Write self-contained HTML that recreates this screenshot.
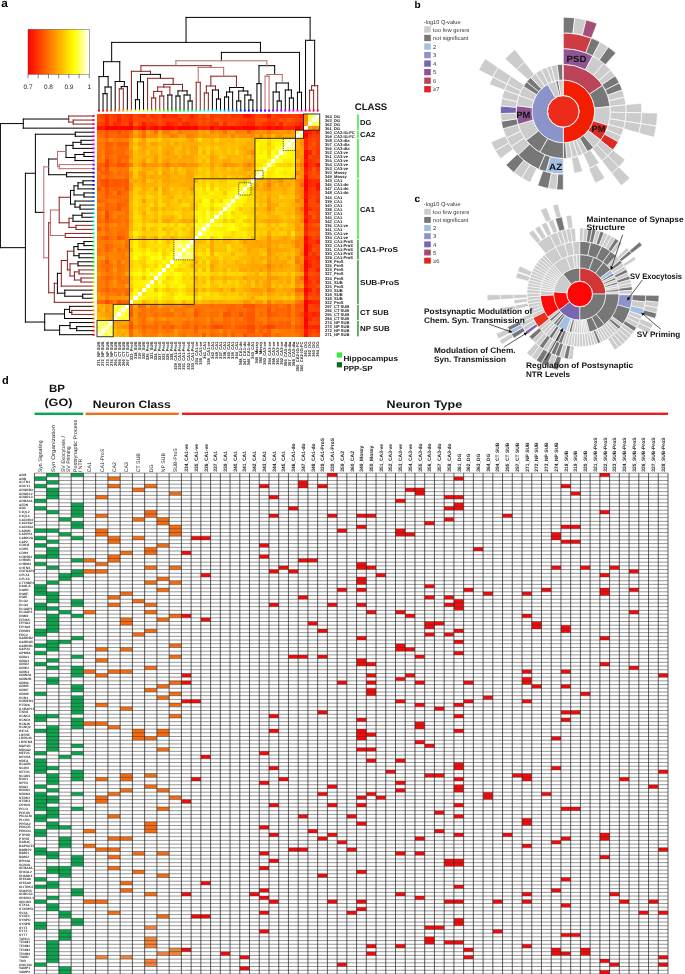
<!DOCTYPE html>
<html><head><meta charset="utf-8"><style>
html,body{margin:0;padding:0;background:#fff;}
svg{display:block;will-change:transform;}
text{font-family:"Liberation Sans",sans-serif;text-rendering:geometricPrecision;}
</style></head><body>
<svg width="685" height="974" viewBox="0 0 685 974">
<defs><marker id="ah" viewBox="0 0 10 10" refX="9" refY="5" markerWidth="5" markerHeight="5" orient="auto"><path d="M0 0L10 5L0 10z" fill="#111"/></marker></defs>
<rect width="685" height="974" fill="#fff"/>
<rect x="97" y="114" width="222.75" height="222.75" fill="#ff9a10"/>
<g transform="translate(97,114) scale(4.05)" shape-rendering="crispEdges">
<path fill="#ff4900" d="M0 0h1v1h-1zM32 2h1v1h-1zM52 22h1v1h-1zM2 46h1v1h-1zM8 52h1v1h-1zM54 54h1v1h-1z"/>
<path fill="#ff3900" d="M1 0h1v1h-1zM14 0h1v1h-1zM44 1h1v1h-1zM53 10h1v1h-1zM54 40h1v1h-1zM54 53h1v1h-1z"/>
<path fill="#ff2700" d="M2 0h1v1h-1zM8 0h1v1h-1zM19 0h1v1h-1zM54 35h1v1h-1zM54 46h1v1h-1zM54 52h1v1h-1z"/>
<path fill="#ff4200" d="M3 0h1v1h-1zM6 0h1v1h-1zM4 1h1v1h-1zM48 2h1v1h-1zM52 6h1v1h-1zM54 48h1v1h-1zM53 50h1v1h-1zM54 51h1v1h-1z"/>
<path fill="#ff3a00" d="M4 0h1v1h-1zM17 1h1v1h-1zM35 1h1v1h-1zM28 2h1v1h-1zM53 19h1v1h-1zM52 26h1v1h-1zM53 37h1v1h-1zM54 50h1v1h-1z"/>
<path fill="#ff2800" d="M5 0h1v1h-1zM8 1h1v1h-1zM21 2h1v1h-1zM25 3h1v1h-1zM51 29h1v1h-1zM52 33h1v1h-1zM53 46h1v1h-1zM54 49h1v1h-1z"/>
<path fill="#ff3500" d="M7 0h1v1h-1zM17 0h1v1h-1zM28 0h1v1h-1zM23 1h1v1h-1zM50 1h1v1h-1zM53 4h1v1h-1zM54 26h1v1h-1zM53 31h1v1h-1zM54 37h1v1h-1zM54 47h1v1h-1z"/>
<path fill="#ff4b00" d="M9 0h1v1h-1zM25 0h1v1h-1zM3 1h1v1h-1zM9 1h1v1h-1zM15 1h1v1h-1zM48 1h1v1h-1zM53 6h1v1h-1zM54 29h1v1h-1zM53 39h1v1h-1zM53 45h1v1h-1zM54 45h1v1h-1zM53 51h1v1h-1z"/>
<path fill="#ff3700" d="M10 0h1v1h-1zM44 0h1v1h-1zM46 0h1v1h-1zM54 8h1v1h-1zM54 10h1v1h-1zM54 44h1v1h-1z"/>
<path fill="#ff2c00" d="M11 0h1v1h-1zM18 0h1v1h-1zM33 0h1v1h-1zM42 2h1v1h-1zM43 2h1v1h-1zM52 11h1v1h-1zM52 12h1v1h-1zM54 21h1v1h-1zM54 36h1v1h-1zM54 43h1v1h-1z"/>
<path fill="#ff4d00" d="M12 0h1v1h-1zM39 0h1v1h-1zM54 15h1v1h-1zM5 19h1v1h-1zM54 42h1v1h-1zM35 49h1v1h-1z"/>
<path fill="#ff2d00" d="M13 0h1v1h-1zM5 2h1v1h-1zM54 41h1v1h-1zM52 49h1v1h-1z"/>
<path fill="#ff4400" d="M15 0h1v1h-1zM26 1h1v1h-1zM0 2h1v1h-1zM7 2h1v1h-1zM47 2h1v1h-1zM52 7h1v1h-1zM53 28h1v1h-1zM54 39h1v1h-1zM52 47h1v1h-1zM52 54h1v1h-1z"/>
<path fill="#ff1f00" d="M16 0h1v1h-1zM23 0h1v1h-1zM54 31h1v1h-1zM54 38h1v1h-1z"/>
<path fill="#ff4500" d="M20 0h1v1h-1zM26 0h1v1h-1zM10 1h1v1h-1zM2 11h1v1h-1zM54 28h1v1h-1zM54 34h1v1h-1zM53 44h1v1h-1zM43 52h1v1h-1z"/>
<path fill="#ff4000" d="M21 0h1v1h-1zM40 0h1v1h-1zM26 2h1v1h-1zM40 2h1v1h-1zM52 14h1v1h-1zM54 14h1v1h-1zM52 28h1v1h-1zM54 33h1v1h-1z"/>
<path fill="#ff4100" d="M22 0h1v1h-1zM12 1h1v1h-1zM22 1h1v1h-1zM31 1h1v1h-1zM6 2h1v1h-1zM10 2h1v1h-1zM53 23h1v1h-1zM53 32h1v1h-1zM54 32h1v1h-1zM53 42h1v1h-1zM52 44h1v1h-1zM52 48h1v1h-1z"/>
<path fill="#ff3600" d="M24 0h1v1h-1zM35 0h1v1h-1zM23 2h1v1h-1zM36 2h1v1h-1zM52 18h1v1h-1zM54 19h1v1h-1zM54 30h1v1h-1zM52 31h1v1h-1z"/>
<path fill="#ff5c00" d="M27 0h1v1h-1zM3 7h1v1h-1zM5 7h1v1h-1zM0 12h1v1h-1zM3 16h1v1h-1zM6 16h1v1h-1zM54 27h1v1h-1zM38 48h1v1h-1zM47 49h1v1h-1zM38 51h1v1h-1zM47 51h1v1h-1zM42 54h1v1h-1z"/>
<path fill="#ff3f00" d="M29 0h1v1h-1zM48 0h1v1h-1zM6 1h1v1h-1zM16 2h1v1h-1zM54 6h1v1h-1zM54 25h1v1h-1zM52 38h1v1h-1zM53 48h1v1h-1z"/>
<path fill="#ff3d00" d="M30 0h1v1h-1zM16 1h1v1h-1zM49 1h1v1h-1zM12 2h1v1h-1zM53 5h1v1h-1zM2 12h1v1h-1zM54 24h1v1h-1zM53 38h1v1h-1zM52 42h1v1h-1zM42 52h1v1h-1z"/>
<path fill="#ff3c00" d="M31 0h1v1h-1zM49 0h1v1h-1zM28 1h1v1h-1zM36 1h1v1h-1zM1 2h1v1h-1zM54 5h1v1h-1zM53 18h1v1h-1zM54 23h1v1h-1zM53 26h1v1h-1zM52 53h1v1h-1z"/>
<path fill="#ff4800" d="M32 0h1v1h-1zM11 1h1v1h-1zM44 2h1v1h-1zM5 4h1v1h-1zM52 10h1v1h-1zM2 17h1v1h-1zM54 22h1v1h-1zM53 43h1v1h-1zM50 49h1v1h-1zM37 52h1v1h-1z"/>
<path fill="#ff3400" d="M34 0h1v1h-1zM42 1h1v1h-1zM35 2h1v1h-1zM53 12h1v1h-1zM52 19h1v1h-1zM54 20h1v1h-1z"/>
<path fill="#ff1400" d="M36 0h1v1h-1zM54 18h1v1h-1z"/>
<path fill="#ff1000" d="M37 0h1v1h-1zM42 0h1v1h-1zM10 3h1v1h-1zM32 3h1v1h-1zM54 12h1v1h-1zM54 17h1v1h-1zM51 22h1v1h-1zM51 44h1v1h-1z"/>
<path fill="#ff2a00" d="M38 0h1v1h-1zM4 2h1v1h-1zM54 16h1v1h-1zM52 50h1v1h-1z"/>
<path fill="#ff3300" d="M41 0h1v1h-1zM24 2h1v1h-1zM41 2h1v1h-1zM52 13h1v1h-1zM54 13h1v1h-1zM52 30h1v1h-1z"/>
<path fill="#ff4700" d="M43 0h1v1h-1zM13 1h1v1h-1zM32 1h1v1h-1zM34 1h1v1h-1zM33 2h1v1h-1zM54 11h1v1h-1zM53 20h1v1h-1zM52 21h1v1h-1zM53 22h1v1h-1zM2 25h1v1h-1zM53 41h1v1h-1zM29 52h1v1h-1z"/>
<path fill="#ff3100" d="M45 0h1v1h-1zM19 2h1v1h-1zM29 2h1v1h-1zM54 9h1v1h-1zM52 25h1v1h-1zM52 35h1v1h-1z"/>
<path fill="#ff3800" d="M47 0h1v1h-1zM19 1h1v1h-1zM54 7h1v1h-1zM53 35h1v1h-1z"/>
<path fill="#ff2000" d="M50 0h1v1h-1zM45 2h1v1h-1zM26 3h1v1h-1zM54 4h1v1h-1zM52 9h1v1h-1zM51 28h1v1h-1z"/>
<path fill="#ff8e00" d="M51 0h1v1h-1zM54 3h1v1h-1zM10 4h1v1h-1zM13 4h1v1h-1zM18 4h1v1h-1zM39 4h1v1h-1zM41 4h1v1h-1zM16 12h1v1h-1zM31 12h1v1h-1zM50 13h1v1h-1zM50 15h1v1h-1zM42 23h1v1h-1zM7 34h1v1h-1zM50 36h1v1h-1zM42 38h1v1h-1zM50 41h1v1h-1zM50 44h1v1h-1zM20 47h1v1h-1z"/>
<path fill="#ffff41" d="M52 0h1v1h-1zM54 2h1v1h-1z"/>
<path fill="#ffff96" d="M53 0h1v1h-1zM54 1h1v1h-1z"/>
<path fill="#ffffff" d="M54 0h1v1h-1zM53 1h1v1h-1zM52 2h1v1h-1zM51 3h1v1h-1zM50 4h1v1h-1zM49 5h1v1h-1zM48 6h1v1h-1zM47 7h1v1h-1zM46 8h1v1h-1zM45 9h1v1h-1zM44 10h1v1h-1zM43 11h1v1h-1zM42 12h1v1h-1zM41 13h1v1h-1zM40 14h1v1h-1zM39 15h1v1h-1zM38 16h1v1h-1zM37 17h1v1h-1zM36 18h1v1h-1zM35 19h1v1h-1zM34 20h1v1h-1zM33 21h1v1h-1zM32 22h1v1h-1zM31 23h1v1h-1zM30 24h1v1h-1zM29 25h1v1h-1zM28 26h1v1h-1zM27 27h1v1h-1zM26 28h1v1h-1zM25 29h1v1h-1zM24 30h1v1h-1zM23 31h1v1h-1zM22 32h1v1h-1zM21 33h1v1h-1zM20 34h1v1h-1zM19 35h1v1h-1zM18 36h1v1h-1zM17 37h1v1h-1zM16 38h1v1h-1zM15 39h1v1h-1zM14 40h1v1h-1zM13 41h1v1h-1zM12 42h1v1h-1zM11 43h1v1h-1zM10 44h1v1h-1zM9 45h1v1h-1zM8 46h1v1h-1zM7 47h1v1h-1zM6 48h1v1h-1zM5 49h1v1h-1zM4 50h1v1h-1zM3 51h1v1h-1zM2 52h1v1h-1zM1 53h1v1h-1zM0 54h1v1h-1z"/>
<path fill="#ff5300" d="M0 1h1v1h-1zM5 23h1v1h-1zM31 49h1v1h-1zM53 54h1v1h-1z"/>
<path fill="#ff4a00" d="M1 1h1v1h-1zM30 1h1v1h-1zM39 1h1v1h-1zM27 2h1v1h-1zM39 2h1v1h-1zM52 15h1v1h-1zM53 15h1v1h-1zM53 24h1v1h-1zM52 27h1v1h-1zM53 53h1v1h-1z"/>
<path fill="#ff2400" d="M2 1h1v1h-1zM53 52h1v1h-1z"/>
<path fill="#ff1c00" d="M5 1h1v1h-1zM50 2h1v1h-1zM1 3h1v1h-1zM29 3h1v1h-1zM52 4h1v1h-1zM51 25h1v1h-1zM53 49h1v1h-1zM51 53h1v1h-1z"/>
<path fill="#ff3b00" d="M7 1h1v1h-1zM43 1h1v1h-1zM34 2h1v1h-1zM53 11h1v1h-1zM52 20h1v1h-1zM53 47h1v1h-1z"/>
<path fill="#ff3e00" d="M14 1h1v1h-1zM18 1h1v1h-1zM14 2h1v1h-1zM53 36h1v1h-1zM52 40h1v1h-1zM53 40h1v1h-1z"/>
<path fill="#ff2e00" d="M20 1h1v1h-1zM37 1h1v1h-1zM38 1h1v1h-1zM31 2h1v1h-1zM53 16h1v1h-1zM53 17h1v1h-1zM52 23h1v1h-1zM53 34h1v1h-1z"/>
<path fill="#ff5200" d="M21 1h1v1h-1zM2 4h1v1h-1zM2 13h1v1h-1zM7 16h1v1h-1zM0 18h1v1h-1zM7 18h1v1h-1zM5 30h1v1h-1zM53 33h1v1h-1zM5 46h1v1h-1zM36 47h1v1h-1zM38 47h1v1h-1zM8 49h1v1h-1zM24 49h1v1h-1zM41 52h1v1h-1zM50 52h1v1h-1zM36 54h1v1h-1z"/>
<path fill="#ff4300" d="M24 1h1v1h-1zM46 1h1v1h-1zM53 8h1v1h-1zM53 30h1v1h-1z"/>
<path fill="#ff4f00" d="M25 1h1v1h-1zM5 12h1v1h-1zM6 12h1v1h-1zM1 16h1v1h-1zM53 29h1v1h-1zM42 48h1v1h-1zM42 49h1v1h-1zM38 53h1v1h-1z"/>
<path fill="#ff5100" d="M27 1h1v1h-1zM45 1h1v1h-1zM53 9h1v1h-1zM53 27h1v1h-1z"/>
<path fill="#ff5a00" d="M29 1h1v1h-1zM2 7h1v1h-1zM2 14h1v1h-1zM53 25h1v1h-1zM40 52h1v1h-1zM47 52h1v1h-1z"/>
<path fill="#ff4600" d="M33 1h1v1h-1zM3 2h1v1h-1zM20 2h1v1h-1zM2 16h1v1h-1zM53 21h1v1h-1zM52 34h1v1h-1zM52 51h1v1h-1zM38 52h1v1h-1z"/>
<path fill="#ff5000" d="M40 1h1v1h-1zM46 2h1v1h-1zM52 8h1v1h-1zM53 14h1v1h-1z"/>
<path fill="#ff5700" d="M41 1h1v1h-1zM53 13h1v1h-1zM1 17h1v1h-1zM5 17h1v1h-1zM5 22h1v1h-1zM32 49h1v1h-1zM37 49h1v1h-1zM37 53h1v1h-1z"/>
<path fill="#ff5400" d="M47 1h1v1h-1zM2 5h1v1h-1zM53 7h1v1h-1zM49 52h1v1h-1z"/>
<path fill="#ff8800" d="M51 1h1v1h-1zM53 3h1v1h-1zM40 5h1v1h-1zM49 14h1v1h-1zM4 31h1v1h-1zM23 50h1v1h-1z"/>
<path fill="#ffff5d" d="M52 1h1v1h-1zM53 2h1v1h-1zM4 49h1v1h-1zM5 50h1v1h-1z"/>
<path fill="#ff2600" d="M2 2h1v1h-1zM37 2h1v1h-1zM52 17h1v1h-1zM52 52h1v1h-1z"/>
<path fill="#ff1700" d="M8 2h1v1h-1zM52 46h1v1h-1z"/>
<path fill="#ff5800" d="M9 2h1v1h-1zM30 2h1v1h-1zM7 5h1v1h-1zM52 24h1v1h-1zM52 45h1v1h-1zM49 47h1v1h-1z"/>
<path fill="#ff1b00" d="M11 2h1v1h-1zM52 43h1v1h-1z"/>
<path fill="#ff3200" d="M13 2h1v1h-1zM49 2h1v1h-1zM52 5h1v1h-1zM52 41h1v1h-1z"/>
<path fill="#ff4e00" d="M15 2h1v1h-1zM25 2h1v1h-1zM2 24h1v1h-1zM52 29h1v1h-1zM52 39h1v1h-1zM30 52h1v1h-1z"/>
<path fill="#ff1e00" d="M17 2h1v1h-1zM40 3h1v1h-1zM47 3h1v1h-1zM51 7h1v1h-1zM51 14h1v1h-1zM52 37h1v1h-1z"/>
<path fill="#ff2900" d="M18 2h1v1h-1zM27 3h1v1h-1zM51 27h1v1h-1zM52 36h1v1h-1z"/>
<path fill="#ff2500" d="M22 2h1v1h-1zM46 3h1v1h-1zM51 8h1v1h-1zM52 32h1v1h-1z"/>
<path fill="#ff2300" d="M38 2h1v1h-1zM9 3h1v1h-1zM48 3h1v1h-1zM51 6h1v1h-1zM52 16h1v1h-1zM51 45h1v1h-1z"/>
<path fill="#ff9c00" d="M51 2h1v1h-1zM52 3h1v1h-1zM26 4h1v1h-1zM27 5h1v1h-1zM8 6h1v1h-1zM10 7h1v1h-1zM37 9h1v1h-1zM14 10h1v1h-1zM17 11h1v1h-1zM19 12h1v1h-1zM45 17h1v1h-1zM11 21h1v1h-1zM49 27h1v1h-1zM50 28h1v1h-1zM42 35h1v1h-1zM43 37h1v1h-1zM44 40h1v1h-1zM33 43h1v1h-1zM47 44h1v1h-1zM1 45h1v1h-1zM48 46h1v1h-1zM3 47h1v1h-1zM3 49h1v1h-1zM5 51h1v1h-1zM7 51h1v1h-1zM9 53h1v1h-1z"/>
<path fill="#ff1200" d="M0 3h1v1h-1zM51 54h1v1h-1z"/>
<path fill="#ff0300" d="M2 3h1v1h-1zM3 3h1v1h-1zM6 3h1v1h-1zM33 3h1v1h-1zM51 21h1v1h-1zM51 48h1v1h-1zM51 51h1v1h-1zM51 52h1v1h-1z"/>
<path fill="#ff0000" d="M4 3h1v1h-1zM7 3h1v1h-1zM8 3h1v1h-1zM11 3h1v1h-1zM14 3h1v1h-1zM17 3h1v1h-1zM18 3h1v1h-1zM20 3h1v1h-1zM21 3h1v1h-1zM22 3h1v1h-1zM24 3h1v1h-1zM36 3h1v1h-1zM37 3h1v1h-1zM38 3h1v1h-1zM42 3h1v1h-1zM49 3h1v1h-1zM51 5h1v1h-1zM51 12h1v1h-1zM51 16h1v1h-1zM51 17h1v1h-1zM51 18h1v1h-1zM51 30h1v1h-1zM51 32h1v1h-1zM51 33h1v1h-1zM51 34h1v1h-1zM51 36h1v1h-1zM51 37h1v1h-1zM51 40h1v1h-1zM51 43h1v1h-1zM51 46h1v1h-1zM51 47h1v1h-1zM51 50h1v1h-1z"/>
<path fill="#ff0b00" d="M5 3h1v1h-1zM31 3h1v1h-1zM45 3h1v1h-1zM51 9h1v1h-1zM51 23h1v1h-1zM51 49h1v1h-1z"/>
<path fill="#ff2100" d="M12 3h1v1h-1zM51 42h1v1h-1z"/>
<path fill="#ff0f00" d="M13 3h1v1h-1zM51 41h1v1h-1z"/>
<path fill="#ff1800" d="M15 3h1v1h-1zM19 3h1v1h-1zM51 35h1v1h-1zM51 39h1v1h-1z"/>
<path fill="#ff0200" d="M16 3h1v1h-1zM51 38h1v1h-1z"/>
<path fill="#ff0a00" d="M23 3h1v1h-1zM51 31h1v1h-1z"/>
<path fill="#ff0100" d="M28 3h1v1h-1zM51 26h1v1h-1z"/>
<path fill="#ff0e00" d="M30 3h1v1h-1zM50 3h1v1h-1zM51 4h1v1h-1zM51 24h1v1h-1z"/>
<path fill="#ff1100" d="M34 3h1v1h-1zM51 20h1v1h-1z"/>
<path fill="#ff0d00" d="M35 3h1v1h-1zM39 3h1v1h-1zM51 15h1v1h-1zM51 19h1v1h-1z"/>
<path fill="#ff1500" d="M41 3h1v1h-1zM51 13h1v1h-1z"/>
<path fill="#ff1600" d="M43 3h1v1h-1zM51 11h1v1h-1z"/>
<path fill="#ff0700" d="M44 3h1v1h-1zM51 10h1v1h-1z"/>
<path fill="#ff6100" d="M0 4h1v1h-1zM37 4h1v1h-1zM6 5h1v1h-1zM3 9h1v1h-1zM3 12h1v1h-1zM50 17h1v1h-1zM2 23h1v1h-1zM2 28h1v1h-1zM1 30h1v1h-1zM2 38h1v1h-1zM49 48h1v1h-1zM42 51h1v1h-1zM45 51h1v1h-1zM16 52h1v1h-1zM26 52h1v1h-1zM31 52h1v1h-1zM24 53h1v1h-1zM50 54h1v1h-1z"/>
<path fill="#ff6400" d="M1 4h1v1h-1zM4 18h1v1h-1zM7 21h1v1h-1zM33 47h1v1h-1zM36 50h1v1h-1zM50 53h1v1h-1z"/>
<path fill="#ff5d00" d="M3 4h1v1h-1zM7 4h1v1h-1zM6 7h1v1h-1zM5 11h1v1h-1zM7 12h1v1h-1zM3 46h1v1h-1zM42 47h1v1h-1zM50 47h1v1h-1zM47 48h1v1h-1zM43 49h1v1h-1zM8 51h1v1h-1zM50 51h1v1h-1z"/>
<path fill="#ff6000" d="M4 4h1v1h-1zM2 8h1v1h-1zM1 14h1v1h-1zM2 22h1v1h-1zM6 30h1v1h-1zM2 32h1v1h-1zM6 46h1v1h-1zM7 46h1v1h-1zM8 47h1v1h-1zM8 48h1v1h-1zM24 48h1v1h-1zM50 50h1v1h-1zM22 52h1v1h-1zM32 52h1v1h-1zM46 52h1v1h-1zM40 53h1v1h-1z"/>
<path fill="#ff6300" d="M6 4h1v1h-1zM5 10h1v1h-1zM0 16h1v1h-1zM6 22h1v1h-1zM0 23h1v1h-1zM2 33h1v1h-1zM2 40h1v1h-1zM7 44h1v1h-1zM10 47h1v1h-1zM32 48h1v1h-1zM50 48h1v1h-1zM44 49h1v1h-1zM14 52h1v1h-1zM21 52h1v1h-1zM31 54h1v1h-1zM38 54h1v1h-1z"/>
<path fill="#ff6d00" d="M8 4h1v1h-1zM4 5h1v1h-1zM7 8h1v1h-1zM7 11h1v1h-1zM1 19h1v1h-1zM7 19h1v1h-1zM5 21h1v1h-1zM7 22h1v1h-1zM6 29h1v1h-1zM3 30h1v1h-1zM7 32h1v1h-1zM5 33h1v1h-1zM3 37h1v1h-1zM3 40h1v1h-1zM2 41h1v1h-1zM1 43h1v1h-1zM50 46h1v1h-1zM22 47h1v1h-1zM32 47h1v1h-1zM35 47h1v1h-1zM43 47h1v1h-1zM46 47h1v1h-1zM25 48h1v1h-1zM21 49h1v1h-1zM33 49h1v1h-1zM49 50h1v1h-1zM14 51h1v1h-1zM17 51h1v1h-1zM24 51h1v1h-1zM13 52h1v1h-1zM11 53h1v1h-1zM35 53h1v1h-1z"/>
<path fill="#ffa900" d="M9 4h1v1h-1zM29 5h1v1h-1zM46 5h1v1h-1zM17 7h1v1h-1zM49 8h1v1h-1zM16 9h1v1h-1zM21 9h1v1h-1zM18 10h1v1h-1zM22 10h1v1h-1zM30 12h1v1h-1zM11 13h1v1h-1zM22 13h1v1h-1zM19 14h1v1h-1zM22 16h1v1h-1zM16 19h1v1h-1zM11 24h1v1h-1zM42 24h1v1h-1zM49 25h1v1h-1zM23 26h1v1h-1zM18 30h1v1h-1zM28 31h1v1h-1zM38 32h1v1h-1zM41 32h1v1h-1zM44 32h1v1h-1zM45 33h1v1h-1zM40 35h1v1h-1zM24 36h1v1h-1zM44 36h1v1h-1zM47 37h1v1h-1zM35 38h1v1h-1zM45 38h1v1h-1zM30 43h1v1h-1zM41 43h1v1h-1zM50 45h1v1h-1z"/>
<path fill="#ff6b00" d="M11 4h1v1h-1zM14 4h1v1h-1zM0 10h1v1h-1zM7 14h1v1h-1zM3 20h1v1h-1zM5 36h1v1h-1zM2 37h1v1h-1zM50 40h1v1h-1zM4 43h1v1h-1zM50 43h1v1h-1zM40 47h1v1h-1zM18 49h1v1h-1zM11 50h1v1h-1zM34 51h1v1h-1zM17 52h1v1h-1zM44 54h1v1h-1z"/>
<path fill="#ffa400" d="M12 4h1v1h-1zM14 7h1v1h-1zM8 11h1v1h-1zM12 13h1v1h-1zM16 16h1v1h-1zM21 17h1v1h-1zM16 18h1v1h-1zM21 26h1v1h-1zM14 30h1v1h-1zM28 33h1v1h-1zM37 33h1v1h-1zM36 38h1v1h-1zM38 38h1v1h-1zM24 40h1v1h-1zM47 40h1v1h-1zM41 42h1v1h-1zM50 42h1v1h-1zM43 46h1v1h-1z"/>
<path fill="#ffa800" d="M15 4h1v1h-1zM25 5h1v1h-1zM39 5h1v1h-1zM17 8h1v1h-1zM13 9h1v1h-1zM18 9h1v1h-1zM28 13h1v1h-1zM17 14h1v1h-1zM49 15h1v1h-1zM18 16h1v1h-1zM11 17h1v1h-1zM16 26h1v1h-1zM41 26h1v1h-1zM49 29h1v1h-1zM38 36h1v1h-1zM45 36h1v1h-1zM40 37h1v1h-1zM46 37h1v1h-1zM28 38h1v1h-1zM50 39h1v1h-1zM45 41h1v1h-1zM37 43h1v1h-1z"/>
<path fill="#ff7b00" d="M16 4h1v1h-1zM1 6h1v1h-1zM0 8h1v1h-1zM8 12h1v1h-1zM6 26h1v1h-1zM0 31h1v1h-1zM1 33h1v1h-1zM50 38h1v1h-1zM42 46h1v1h-1zM28 48h1v1h-1zM21 53h1v1h-1zM48 53h1v1h-1zM23 54h1v1h-1zM46 54h1v1h-1z"/>
<path fill="#ff7800" d="M17 4h1v1h-1zM20 4h1v1h-1zM42 4h1v1h-1zM5 6h1v1h-1zM50 12h1v1h-1zM1 15h1v1h-1zM5 15h1v1h-1zM4 21h1v1h-1zM0 24h1v1h-1zM3 28h1v1h-1zM4 28h1v1h-1zM7 33h1v1h-1zM50 34h1v1h-1zM50 37h1v1h-1zM3 38h1v1h-1zM7 41h1v1h-1zM0 43h1v1h-1zM3 44h1v1h-1zM13 47h1v1h-1zM21 47h1v1h-1zM39 49h1v1h-1zM48 49h1v1h-1zM26 50h1v1h-1zM33 50h1v1h-1zM10 51h1v1h-1zM16 51h1v1h-1zM26 51h1v1h-1zM39 53h1v1h-1zM11 54h1v1h-1zM30 54h1v1h-1z"/>
<path fill="#ff9200" d="M19 4h1v1h-1zM31 5h1v1h-1zM8 10h1v1h-1zM14 12h1v1h-1zM20 12h1v1h-1zM49 23h1v1h-1zM42 34h1v1h-1zM50 35h1v1h-1zM42 40h1v1h-1zM0 44h1v1h-1zM5 45h1v1h-1zM44 46h1v1h-1zM9 49h1v1h-1zM10 54h1v1h-1z"/>
<path fill="#ff8900" d="M21 4h1v1h-1zM22 4h1v1h-1zM30 4h1v1h-1zM47 4h1v1h-1zM13 5h1v1h-1zM50 7h1v1h-1zM50 24h1v1h-1zM50 32h1v1h-1zM50 33h1v1h-1zM49 41h1v1h-1z"/>
<path fill="#ff8b00" d="M23 4h1v1h-1zM21 12h1v1h-1zM50 31h1v1h-1zM42 33h1v1h-1z"/>
<path fill="#ff8a00" d="M24 4h1v1h-1zM1 10h1v1h-1zM50 30h1v1h-1zM44 53h1v1h-1z"/>
<path fill="#ffa300" d="M25 4h1v1h-1zM21 5h1v1h-1zM19 7h1v1h-1zM11 8h1v1h-1zM18 8h1v1h-1zM23 8h1v1h-1zM19 10h1v1h-1zM23 10h1v1h-1zM28 10h1v1h-1zM13 15h1v1h-1zM37 15h1v1h-1zM39 17h1v1h-1zM44 26h1v1h-1zM50 29h1v1h-1zM44 31h1v1h-1zM46 31h1v1h-1zM49 33h1v1h-1zM44 35h1v1h-1zM47 35h1v1h-1zM46 36h1v1h-1zM39 41h1v1h-1zM46 43h1v1h-1zM3 48h1v1h-1zM6 51h1v1h-1z"/>
<path fill="#ffaa00" d="M27 4h1v1h-1zM47 5h1v1h-1zM49 7h1v1h-1zM21 11h1v1h-1zM32 11h1v1h-1zM13 13h1v1h-1zM14 14h1v1h-1zM17 17h1v1h-1zM43 22h1v1h-1zM50 27h1v1h-1zM43 33h1v1h-1zM37 37h1v1h-1zM40 40h1v1h-1zM41 41h1v1h-1z"/>
<path fill="#ff8200" d="M28 4h1v1h-1zM35 4h1v1h-1zM23 5h1v1h-1zM33 5h1v1h-1zM50 19h1v1h-1zM49 21h1v1h-1zM50 26h1v1h-1zM3 27h1v1h-1zM49 31h1v1h-1zM3 34h1v1h-1zM7 35h1v1h-1zM1 39h1v1h-1zM6 39h1v1h-1zM19 47h1v1h-1zM15 48h1v1h-1zM20 51h1v1h-1zM27 51h1v1h-1zM15 53h1v1h-1z"/>
<path fill="#ff9600" d="M29 4h1v1h-1zM12 5h1v1h-1zM26 5h1v1h-1zM45 5h1v1h-1zM49 9h1v1h-1zM50 25h1v1h-1zM49 28h1v1h-1zM6 36h1v1h-1zM49 42h1v1h-1zM18 48h1v1h-1z"/>
<path fill="#ff7000" d="M31 4h1v1h-1zM4 7h1v1h-1zM4 9h1v1h-1zM0 14h1v1h-1zM6 20h1v1h-1zM4 22h1v1h-1zM50 23h1v1h-1zM3 43h1v1h-1zM34 48h1v1h-1zM32 50h1v1h-1zM45 50h1v1h-1zM47 50h1v1h-1zM11 51h1v1h-1zM40 54h1v1h-1z"/>
<path fill="#ff9100" d="M32 4h1v1h-1zM24 5h1v1h-1zM8 9h1v1h-1zM38 12h1v1h-1zM42 16h1v1h-1zM50 22h1v1h-1zM49 30h1v1h-1zM45 46h1v1h-1z"/>
<path fill="#ff9500" d="M33 4h1v1h-1zM48 4h1v1h-1zM17 5h1v1h-1zM50 6h1v1h-1zM11 11h1v1h-1zM36 12h1v1h-1zM8 18h1v1h-1zM42 18h1v1h-1zM50 21h1v1h-1zM49 37h1v1h-1zM43 43h1v1h-1zM6 45h1v1h-1zM36 46h1v1h-1zM2 47h1v1h-1zM9 48h1v1h-1zM7 52h1v1h-1z"/>
<path fill="#ff7e00" d="M34 4h1v1h-1zM38 4h1v1h-1zM6 6h1v1h-1zM17 12h1v1h-1zM37 12h1v1h-1zM4 14h1v1h-1zM50 16h1v1h-1zM42 17h1v1h-1zM4 19h1v1h-1zM50 20h1v1h-1zM1 28h1v1h-1zM4 29h1v1h-1zM4 32h1v1h-1zM5 32h1v1h-1zM42 37h1v1h-1zM2 39h1v1h-1zM48 48h1v1h-1zM22 49h1v1h-1zM22 50h1v1h-1zM25 50h1v1h-1zM35 50h1v1h-1zM40 50h1v1h-1zM15 52h1v1h-1zM26 53h1v1h-1z"/>
<path fill="#ff8700" d="M36 4h1v1h-1zM10 5h1v1h-1zM38 5h1v1h-1zM49 16h1v1h-1zM50 18h1v1h-1zM1 29h1v1h-1zM7 38h1v1h-1zM49 44h1v1h-1zM16 47h1v1h-1zM25 53h1v1h-1z"/>
<path fill="#ff9800" d="M40 4h1v1h-1zM44 5h1v1h-1zM49 10h1v1h-1zM13 12h1v1h-1zM22 12h1v1h-1zM50 14h1v1h-1zM11 16h1v1h-1zM23 18h1v1h-1zM36 31h1v1h-1zM42 32h1v1h-1zM0 39h1v1h-1zM42 41h1v1h-1zM38 43h1v1h-1zM15 54h1v1h-1z"/>
<path fill="#ff8d00" d="M43 4h1v1h-1zM14 5h1v1h-1zM50 11h1v1h-1zM1 24h1v1h-1zM6 31h1v1h-1zM49 40h1v1h-1zM23 48h1v1h-1zM30 53h1v1h-1z"/>
<path fill="#ff9300" d="M44 4h1v1h-1zM16 5h1v1h-1zM30 5h1v1h-1zM37 5h1v1h-1zM50 10h1v1h-1zM23 12h1v1h-1zM8 17h1v1h-1zM49 17h1v1h-1zM49 24h1v1h-1zM42 31h1v1h-1zM0 35h1v1h-1zM49 38h1v1h-1zM4 41h1v1h-1zM37 46h1v1h-1zM13 50h1v1h-1zM19 54h1v1h-1z"/>
<path fill="#ffa000" d="M45 4h1v1h-1zM23 6h1v1h-1zM50 9h1v1h-1zM22 14h1v1h-1zM23 15h1v1h-1zM14 18h1v1h-1zM39 31h1v1h-1zM48 31h1v1h-1zM40 32h1v1h-1zM7 39h1v1h-1zM36 40h1v1h-1zM15 47h1v1h-1z"/>
<path fill="#ff9900" d="M46 4h1v1h-1zM50 8h1v1h-1zM17 9h1v1h-1zM8 14h1v1h-1zM8 15h1v1h-1zM11 15h1v1h-1zM45 37h1v1h-1zM39 43h1v1h-1zM39 46h1v1h-1zM40 46h1v1h-1zM2 49h1v1h-1zM5 52h1v1h-1z"/>
<path fill="#ffff81" d="M49 4h1v1h-1zM50 5h1v1h-1z"/>
<path fill="#ff7300" d="M0 5h1v1h-1zM7 25h1v1h-1zM6 28h1v1h-1zM7 31h1v1h-1zM3 33h1v1h-1zM6 41h1v1h-1zM23 47h1v1h-1zM29 47h1v1h-1zM13 48h1v1h-1zM26 48h1v1h-1zM21 51h1v1h-1zM49 54h1v1h-1z"/>
<path fill="#ff6a00" d="M1 5h1v1h-1zM5 8h1v1h-1zM7 15h1v1h-1zM7 43h1v1h-1zM11 47h1v1h-1zM39 47h1v1h-1zM46 49h1v1h-1zM49 53h1v1h-1z"/>
<path fill="#ff6900" d="M3 5h1v1h-1zM6 8h1v1h-1zM5 14h1v1h-1zM3 18h1v1h-1zM3 19h1v1h-1zM4 20h1v1h-1zM5 20h1v1h-1zM3 22h1v1h-1zM4 23h1v1h-1zM3 32h1v1h-1zM46 48h1v1h-1zM34 49h1v1h-1zM40 49h1v1h-1zM31 50h1v1h-1zM34 50h1v1h-1zM22 51h1v1h-1zM32 51h1v1h-1zM35 51h1v1h-1zM36 51h1v1h-1zM49 51h1v1h-1z"/>
<path fill="#ff5f00" d="M5 5h1v1h-1zM2 9h1v1h-1zM2 10h1v1h-1zM0 21h1v1h-1zM49 49h1v1h-1zM44 52h1v1h-1zM45 52h1v1h-1zM33 54h1v1h-1z"/>
<path fill="#ff7c00" d="M8 5h1v1h-1zM18 5h1v1h-1zM0 6h1v1h-1zM4 6h1v1h-1zM1 22h1v1h-1zM6 24h1v1h-1zM1 31h1v1h-1zM1 32h1v1h-1zM5 34h1v1h-1zM49 36h1v1h-1zM5 39h1v1h-1zM0 40h1v1h-1zM0 41h1v1h-1zM4 46h1v1h-1zM49 46h1v1h-1zM30 48h1v1h-1zM15 49h1v1h-1zM20 49h1v1h-1zM8 50h1v1h-1zM48 50h1v1h-1zM22 53h1v1h-1zM23 53h1v1h-1zM32 53h1v1h-1zM13 54h1v1h-1zM14 54h1v1h-1zM48 54h1v1h-1z"/>
<path fill="#ff9d00" d="M9 5h1v1h-1zM11 14h1v1h-1zM7 42h1v1h-1zM40 43h1v1h-1zM49 45h1v1h-1zM12 47h1v1h-1zM3 50h1v1h-1zM4 51h1v1h-1z"/>
<path fill="#ff6700" d="M11 5h1v1h-1zM3 11h1v1h-1zM3 14h1v1h-1zM0 15h1v1h-1zM2 15h1v1h-1zM0 17h1v1h-1zM6 19h1v1h-1zM0 26h1v1h-1zM49 43h1v1h-1zM35 48h1v1h-1zM40 51h1v1h-1zM43 51h1v1h-1zM39 52h1v1h-1zM28 54h1v1h-1zM37 54h1v1h-1zM39 54h1v1h-1z"/>
<path fill="#ffb000" d="M15 5h1v1h-1zM28 6h1v1h-1zM36 9h1v1h-1zM36 10h1v1h-1zM19 13h1v1h-1zM18 15h1v1h-1zM12 17h1v1h-1zM13 17h1v1h-1zM16 17h1v1h-1zM20 17h1v1h-1zM17 18h1v1h-1zM44 18h1v1h-1zM45 18h1v1h-1zM48 26h1v1h-1zM37 34h1v1h-1zM41 35h1v1h-1zM39 36h1v1h-1zM36 37h1v1h-1zM37 38h1v1h-1zM49 39h1v1h-1zM37 41h1v1h-1zM37 42h1v1h-1z"/>
<path fill="#ff8500" d="M19 5h1v1h-1zM3 35h1v1h-1zM49 35h1v1h-1zM19 51h1v1h-1z"/>
<path fill="#ffa100" d="M20 5h1v1h-1zM28 5h1v1h-1zM8 8h1v1h-1zM38 10h1v1h-1zM36 13h1v1h-1zM10 14h1v1h-1zM44 16h1v1h-1zM41 18h1v1h-1zM49 26h1v1h-1zM49 34h1v1h-1zM40 44h1v1h-1zM46 46h1v1h-1zM0 48h1v1h-1zM6 54h1v1h-1z"/>
<path fill="#ff8100" d="M22 5h1v1h-1zM1 11h1v1h-1zM11 12h1v1h-1zM4 24h1v1h-1zM49 32h1v1h-1zM4 34h1v1h-1zM0 36h1v1h-1zM42 43h1v1h-1zM6 44h1v1h-1zM10 48h1v1h-1zM20 50h1v1h-1zM30 50h1v1h-1zM43 53h1v1h-1zM18 54h1v1h-1z"/>
<path fill="#ffa700" d="M32 5h1v1h-1zM11 7h1v1h-1zM36 8h1v1h-1zM23 9h1v1h-1zM24 9h1v1h-1zM17 10h1v1h-1zM23 11h1v1h-1zM31 11h1v1h-1zM37 11h1v1h-1zM9 16h1v1h-1zM43 17h1v1h-1zM46 18h1v1h-1zM49 22h1v1h-1zM43 23h1v1h-1zM8 26h1v1h-1zM45 30h1v1h-1zM43 31h1v1h-1zM45 31h1v1h-1zM44 37h1v1h-1zM47 43h1v1h-1zM38 45h1v1h-1zM28 46h1v1h-1z"/>
<path fill="#ff9f00" d="M34 5h1v1h-1zM13 7h1v1h-1zM15 12h1v1h-1zM34 12h1v1h-1zM37 13h1v1h-1zM41 17h1v1h-1zM42 20h1v1h-1zM49 20h1v1h-1zM17 26h1v1h-1zM28 37h1v1h-1zM42 39h1v1h-1zM47 41h1v1h-1z"/>
<path fill="#ff9000" d="M35 5h1v1h-1zM36 5h1v1h-1zM49 18h1v1h-1zM49 19h1v1h-1z"/>
<path fill="#ffad00" d="M41 5h1v1h-1zM21 7h1v1h-1zM16 8h1v1h-1zM11 10h1v1h-1zM16 10h1v1h-1zM22 11h1v1h-1zM49 13h1v1h-1zM20 15h1v1h-1zM8 16h1v1h-1zM8 19h1v1h-1zM17 19h1v1h-1zM43 32h1v1h-1zM47 33h1v1h-1zM39 34h1v1h-1zM35 37h1v1h-1zM44 38h1v1h-1zM46 38h1v1h-1zM44 43h1v1h-1zM35 46h1v1h-1zM38 46h1v1h-1z"/>
<path fill="#ff9400" d="M42 5h1v1h-1zM18 12h1v1h-1zM24 12h1v1h-1zM49 12h1v1h-1zM42 30h1v1h-1zM42 36h1v1h-1zM0 45h1v1h-1zM3 45h1v1h-1zM9 51h1v1h-1zM9 54h1v1h-1z"/>
<path fill="#ffba00" d="M43 5h1v1h-1zM31 7h1v1h-1zM33 7h1v1h-1zM35 7h1v1h-1zM9 11h1v1h-1zM49 11h1v1h-1zM35 13h1v1h-1zM31 14h1v1h-1zM34 14h1v1h-1zM12 18h1v1h-1zM41 19h1v1h-1zM47 19h1v1h-1zM40 20h1v1h-1zM17 21h1v1h-1zM47 21h1v1h-1zM40 23h1v1h-1zM47 23h1v1h-1zM11 26h1v1h-1zM16 28h1v1h-1zM19 30h1v1h-1zM8 33h1v1h-1zM24 35h1v1h-1zM33 37h1v1h-1zM26 38h1v1h-1zM36 42h1v1h-1zM28 43h1v1h-1zM43 45h1v1h-1zM21 46h1v1h-1zM1 48h1v1h-1zM6 53h1v1h-1z"/>
<path fill="#ffa600" d="M48 5h1v1h-1zM49 6h1v1h-1zM37 7h1v1h-1zM21 8h1v1h-1zM23 14h1v1h-1zM22 15h1v1h-1zM23 16h1v1h-1zM47 17h1v1h-1zM38 31h1v1h-1zM40 31h1v1h-1zM39 32h1v1h-1zM46 33h1v1h-1zM1 49h1v1h-1zM5 53h1v1h-1z"/>
<path fill="#ff6e00" d="M2 6h1v1h-1zM7 20h1v1h-1zM2 21h1v1h-1zM7 23h1v1h-1zM7 24h1v1h-1zM1 26h1v1h-1zM5 26h1v1h-1zM2 29h1v1h-1zM0 33h1v1h-1zM1 37h1v1h-1zM2 42h1v1h-1zM30 47h1v1h-1zM31 47h1v1h-1zM34 47h1v1h-1zM28 49h1v1h-1zM12 52h1v1h-1zM25 52h1v1h-1zM33 52h1v1h-1zM48 52h1v1h-1zM17 53h1v1h-1zM28 53h1v1h-1zM21 54h1v1h-1z"/>
<path fill="#ff8c00" d="M3 6h1v1h-1zM38 9h1v1h-1zM45 16h1v1h-1zM4 33h1v1h-1zM4 39h1v1h-1zM15 50h1v1h-1zM21 50h1v1h-1zM48 51h1v1h-1z"/>
<path fill="#ff8000" d="M7 6h1v1h-1zM1 9h1v1h-1zM3 13h1v1h-1zM5 24h1v1h-1zM5 31h1v1h-1zM0 37h1v1h-1zM1 41h1v1h-1zM48 47h1v1h-1zM23 49h1v1h-1zM30 49h1v1h-1zM41 51h1v1h-1zM13 53h1v1h-1zM45 53h1v1h-1zM17 54h1v1h-1z"/>
<path fill="#ffce00" d="M9 6h1v1h-1zM25 8h1v1h-1zM9 19h1v1h-1zM23 20h1v1h-1zM15 25h1v1h-1zM46 29h1v1h-1zM34 31h1v1h-1zM29 39h1v1h-1zM35 45h1v1h-1zM48 45h1v1h-1z"/>
<path fill="#ffb600" d="M10 6h1v1h-1zM10 8h1v1h-1zM20 10h1v1h-1zM13 11h1v1h-1zM35 11h1v1h-1zM21 13h1v1h-1zM24 13h1v1h-1zM18 14h1v1h-1zM28 15h1v1h-1zM19 17h1v1h-1zM10 19h1v1h-1zM21 19h1v1h-1zM43 19h1v1h-1zM14 21h1v1h-1zM39 26h1v1h-1zM41 30h1v1h-1zM35 33h1v1h-1zM41 33h1v1h-1zM44 34h1v1h-1zM37 35h1v1h-1zM40 36h1v1h-1zM33 40h1v1h-1zM43 41h1v1h-1zM35 44h1v1h-1zM46 44h1v1h-1zM48 44h1v1h-1z"/>
<path fill="#ff9b00" d="M11 6h1v1h-1zM12 12h1v1h-1zM4 38h1v1h-1zM42 42h1v1h-1zM48 43h1v1h-1zM16 50h1v1h-1z"/>
<path fill="#ffc700" d="M12 6h1v1h-1zM18 13h1v1h-1zM26 14h1v1h-1zM31 16h1v1h-1zM12 19h1v1h-1zM22 19h1v1h-1zM22 20h1v1h-1zM19 22h1v1h-1zM38 23h1v1h-1zM40 28h1v1h-1zM34 32h1v1h-1zM35 32h1v1h-1zM32 35h1v1h-1zM41 36h1v1h-1zM35 42h1v1h-1zM48 42h1v1h-1z"/>
<path fill="#ffc400" d="M13 6h1v1h-1zM20 6h1v1h-1zM12 9h1v1h-1zM12 11h1v1h-1zM15 13h1v1h-1zM16 20h1v1h-1zM12 21h1v1h-1zM16 24h1v1h-1zM19 26h1v1h-1zM14 28h1v1h-1zM18 28h1v1h-1zM21 28h1v1h-1zM8 29h1v1h-1zM21 30h1v1h-1zM24 33h1v1h-1zM26 33h1v1h-1zM48 34h1v1h-1zM28 35h1v1h-1zM26 36h1v1h-1zM8 37h1v1h-1zM11 37h1v1h-1zM30 38h1v1h-1zM34 38h1v1h-1zM41 39h1v1h-1zM26 40h1v1h-1zM48 41h1v1h-1zM33 42h1v1h-1zM43 42h1v1h-1zM45 42h1v1h-1zM17 43h1v1h-1zM17 46h1v1h-1zM25 46h1v1h-1z"/>
<path fill="#ffbe00" d="M14 6h1v1h-1zM26 6h1v1h-1zM9 7h1v1h-1zM32 7h1v1h-1zM27 10h1v1h-1zM21 14h1v1h-1zM22 21h1v1h-1zM47 22h1v1h-1zM10 23h1v1h-1zM11 23h1v1h-1zM44 27h1v1h-1zM13 28h1v1h-1zM48 28h1v1h-1zM33 32h1v1h-1zM40 33h1v1h-1zM48 40h1v1h-1zM26 41h1v1h-1zM31 43h1v1h-1zM31 44h1v1h-1zM47 45h1v1h-1zM1 50h1v1h-1zM4 53h1v1h-1z"/>
<path fill="#ffcc00" d="M15 6h1v1h-1zM30 10h1v1h-1zM25 11h1v1h-1zM20 13h1v1h-1zM24 15h1v1h-1zM10 22h1v1h-1zM20 22h1v1h-1zM23 24h1v1h-1zM44 24h1v1h-1zM43 29h1v1h-1zM39 30h1v1h-1zM30 31h1v1h-1zM32 34h1v1h-1zM41 34h1v1h-1zM48 39h1v1h-1zM32 44h1v1h-1z"/>
<path fill="#ffb100" d="M16 6h1v1h-1zM22 7h1v1h-1zM36 14h1v1h-1zM38 14h1v1h-1zM40 16h1v1h-1zM40 18h1v1h-1zM8 20h1v1h-1zM8 25h1v1h-1zM11 28h1v1h-1zM8 30h1v1h-1zM47 32h1v1h-1zM48 38h1v1h-1zM26 43h1v1h-1zM24 46h1v1h-1zM29 46h1v1h-1zM34 46h1v1h-1z"/>
<path fill="#ffb300" d="M17 6h1v1h-1zM38 6h1v1h-1zM28 7h1v1h-1zM30 7h1v1h-1zM12 8h1v1h-1zM14 8h1v1h-1zM22 8h1v1h-1zM13 10h1v1h-1zM35 14h1v1h-1zM48 16h1v1h-1zM40 19h1v1h-1zM23 23h1v1h-1zM47 24h1v1h-1zM47 26h1v1h-1zM31 31h1v1h-1zM46 32h1v1h-1zM48 37h1v1h-1zM46 40h1v1h-1zM44 41h1v1h-1zM46 42h1v1h-1z"/>
<path fill="#ffc100" d="M18 6h1v1h-1zM26 8h1v1h-1zM15 9h1v1h-1zM29 14h1v1h-1zM20 18h1v1h-1zM23 21h1v1h-1zM21 24h1v1h-1zM23 25h1v1h-1zM40 25h1v1h-1zM46 28h1v1h-1zM17 30h1v1h-1zM29 31h1v1h-1zM33 31h1v1h-1zM30 33h1v1h-1zM36 34h1v1h-1zM48 36h1v1h-1zM24 37h1v1h-1zM45 39h1v1h-1z"/>
<path fill="#ffbc00" d="M19 6h1v1h-1zM27 6h1v1h-1zM36 6h1v1h-1zM12 7h1v1h-1zM18 7h1v1h-1zM26 7h1v1h-1zM19 9h1v1h-1zM35 10h1v1h-1zM34 11h1v1h-1zM13 14h1v1h-1zM20 14h1v1h-1zM48 18h1v1h-1zM18 19h1v1h-1zM44 19h1v1h-1zM43 20h1v1h-1zM11 22h1v1h-1zM16 25h1v1h-1zM48 27h1v1h-1zM47 28h1v1h-1zM22 30h1v1h-1zM24 32h1v1h-1zM40 34h1v1h-1zM45 35h1v1h-1zM48 35h1v1h-1zM35 36h1v1h-1zM47 36h1v1h-1zM29 38h1v1h-1zM40 41h1v1h-1zM47 42h1v1h-1zM32 43h1v1h-1z"/>
<path fill="#ffbb00" d="M21 6h1v1h-1zM31 6h1v1h-1zM35 6h1v1h-1zM19 8h1v1h-1zM33 9h1v1h-1zM15 10h1v1h-1zM30 11h1v1h-1zM24 14h1v1h-1zM32 14h1v1h-1zM34 15h1v1h-1zM48 19h1v1h-1zM39 20h1v1h-1zM45 21h1v1h-1zM40 22h1v1h-1zM18 23h1v1h-1zM48 23h1v1h-1zM43 24h1v1h-1zM40 30h1v1h-1zM48 33h1v1h-1zM46 35h1v1h-1zM31 36h1v1h-1zM44 39h1v1h-1z"/>
<path fill="#ffab00" d="M22 6h1v1h-1zM14 9h1v1h-1zM36 11h1v1h-1zM25 12h1v1h-1zM35 12h1v1h-1zM19 16h1v1h-1zM22 17h1v1h-1zM11 18h1v1h-1zM43 18h1v1h-1zM42 19h1v1h-1zM8 24h1v1h-1zM22 26h1v1h-1zM42 29h1v1h-1zM28 32h1v1h-1zM37 32h1v1h-1zM48 32h1v1h-1zM38 35h1v1h-1zM45 40h1v1h-1zM36 43h1v1h-1zM30 46h1v1h-1zM1 47h1v1h-1zM2 50h1v1h-1zM4 52h1v1h-1zM7 53h1v1h-1z"/>
<path fill="#ffb700" d="M24 6h1v1h-1zM10 10h1v1h-1zM34 10h1v1h-1zM26 11h1v1h-1zM8 13h1v1h-1zM12 14h1v1h-1zM19 18h1v1h-1zM17 20h1v1h-1zM44 20h1v1h-1zM8 22h1v1h-1zM14 22h1v1h-1zM11 25h1v1h-1zM43 28h1v1h-1zM48 30h1v1h-1zM36 35h1v1h-1zM34 37h1v1h-1zM32 40h1v1h-1zM40 42h1v1h-1zM29 43h1v1h-1zM44 44h1v1h-1zM32 46h1v1h-1zM41 46h1v1h-1z"/>
<path fill="#ffe100" d="M25 6h1v1h-1zM26 19h1v1h-1zM22 22h1v1h-1zM12 27h1v1h-1zM13 27h1v1h-1zM35 28h1v1h-1zM48 29h1v1h-1zM14 32h1v1h-1zM15 32h1v1h-1zM32 32h1v1h-1zM17 34h1v1h-1zM9 36h1v1h-1zM20 37h1v1h-1zM22 39h1v1h-1zM22 40h1v1h-1zM27 41h1v1h-1zM27 42h1v1h-1zM18 45h1v1h-1z"/>
<path fill="#ffcf00" d="M29 6h1v1h-1zM32 13h1v1h-1zM15 14h1v1h-1zM27 15h1v1h-1zM10 20h1v1h-1zM41 22h1v1h-1zM48 25h1v1h-1zM39 27h1v1h-1zM20 30h1v1h-1zM24 34h1v1h-1zM40 39h1v1h-1zM34 44h1v1h-1z"/>
<path fill="#ffbd00" d="M30 6h1v1h-1zM28 8h1v1h-1zM30 8h1v1h-1zM9 10h1v1h-1zM37 10h1v1h-1zM10 13h1v1h-1zM30 13h1v1h-1zM37 14h1v1h-1zM9 17h1v1h-1zM40 17h1v1h-1zM44 17h1v1h-1zM13 19h1v1h-1zM19 19h1v1h-1zM21 23h1v1h-1zM14 24h1v1h-1zM41 24h1v1h-1zM46 24h1v1h-1zM48 24h1v1h-1zM14 25h1v1h-1zM17 25h1v1h-1zM13 26h1v1h-1zM46 26h1v1h-1zM13 30h1v1h-1zM31 33h1v1h-1zM35 35h1v1h-1zM29 37h1v1h-1zM29 40h1v1h-1zM30 40h1v1h-1zM24 41h1v1h-1zM28 41h1v1h-1zM35 41h1v1h-1zM41 44h1v1h-1zM37 45h1v1h-1zM44 45h1v1h-1zM0 50h1v1h-1zM4 54h1v1h-1z"/>
<path fill="#ffb500" d="M32 6h1v1h-1zM20 9h1v1h-1zM14 13h1v1h-1zM31 13h1v1h-1zM38 15h1v1h-1zM21 16h1v1h-1zM39 16h1v1h-1zM14 17h1v1h-1zM18 17h1v1h-1zM8 21h1v1h-1zM20 21h1v1h-1zM48 22h1v1h-1zM41 23h1v1h-1zM8 27h1v1h-1zM38 33h1v1h-1zM33 34h1v1h-1zM45 34h1v1h-1zM37 36h1v1h-1zM37 40h1v1h-1zM41 40h1v1h-1zM27 46h1v1h-1zM33 46h1v1h-1z"/>
<path fill="#ffb800" d="M33 6h1v1h-1zM24 11h1v1h-1zM27 12h1v1h-1zM29 12h1v1h-1zM19 15h1v1h-1zM11 19h1v1h-1zM48 21h1v1h-1zM17 22h1v1h-1zM23 22h1v1h-1zM13 23h1v1h-1zM42 25h1v1h-1zM42 27h1v1h-1zM23 29h1v1h-1zM43 30h1v1h-1zM25 31h1v1h-1zM32 31h1v1h-1zM39 35h1v1h-1zM32 37h1v1h-1zM31 41h1v1h-1zM35 43h1v1h-1z"/>
<path fill="#ffcb00" d="M34 6h1v1h-1zM32 9h1v1h-1zM30 15h1v1h-1zM26 16h1v1h-1zM9 18h1v1h-1zM18 18h1v1h-1zM48 20h1v1h-1zM45 22h1v1h-1zM39 24h1v1h-1zM38 28h1v1h-1zM19 29h1v1h-1zM25 35h1v1h-1zM36 36h1v1h-1zM36 45h1v1h-1z"/>
<path fill="#ffb900" d="M37 6h1v1h-1zM29 7h1v1h-1zM36 7h1v1h-1zM13 8h1v1h-1zM31 8h1v1h-1zM31 9h1v1h-1zM35 9h1v1h-1zM33 10h1v1h-1zM33 13h1v1h-1zM29 15h1v1h-1zM48 17h1v1h-1zM47 18h1v1h-1zM14 19h1v1h-1zM45 19h1v1h-1zM16 21h1v1h-1zM41 21h1v1h-1zM44 21h1v1h-1zM45 23h1v1h-1zM46 23h1v1h-1zM39 25h1v1h-1zM47 25h1v1h-1zM10 30h1v1h-1zM16 30h1v1h-1zM24 38h1v1h-1zM33 38h1v1h-1zM35 40h1v1h-1zM46 41h1v1h-1zM24 44h1v1h-1z"/>
<path fill="#ffe400" d="M39 6h1v1h-1zM48 15h1v1h-1zM29 20h1v1h-1zM34 25h1v1h-1zM15 28h1v1h-1zM9 38h1v1h-1zM26 39h1v1h-1zM16 45h1v1h-1z"/>
<path fill="#fff000" d="M40 6h1v1h-1zM48 14h1v1h-1zM27 20h1v1h-1zM25 22h1v1h-1zM34 27h1v1h-1zM32 29h1v1h-1zM17 36h1v1h-1zM18 37h1v1h-1zM10 38h1v1h-1zM9 41h1v1h-1zM10 42h1v1h-1zM12 44h1v1h-1zM16 44h1v1h-1zM13 45h1v1h-1z"/>
<path fill="#fff800" d="M41 6h1v1h-1zM39 10h1v1h-1zM39 13h1v1h-1zM48 13h1v1h-1zM41 15h1v1h-1zM44 15h1v1h-1zM32 19h1v1h-1zM35 22h1v1h-1zM18 34h1v1h-1zM20 36h1v1h-1z"/>
<path fill="#ffda00" d="M42 6h1v1h-1zM48 12h1v1h-1zM33 17h1v1h-1zM31 18h1v1h-1zM15 21h1v1h-1zM37 21h1v1h-1zM36 23h1v1h-1zM9 27h1v1h-1zM19 28h1v1h-1zM20 28h1v1h-1zM16 31h1v1h-1zM26 34h1v1h-1zM26 35h1v1h-1zM23 38h1v1h-1zM33 39h1v1h-1zM27 45h1v1h-1z"/>
<path fill="#fff300" d="M43 6h1v1h-1zM48 11h1v1h-1zM12 36h1v1h-1zM10 41h1v1h-1zM11 42h1v1h-1zM18 42h1v1h-1zM12 43h1v1h-1zM13 44h1v1h-1z"/>
<path fill="#fff600" d="M44 6h1v1h-1zM48 10h1v1h-1zM41 12h1v1h-1zM42 13h1v1h-1zM34 18h1v1h-1zM33 19h1v1h-1zM33 20h1v1h-1zM36 20h1v1h-1zM34 21h1v1h-1zM35 21h1v1h-1zM27 23h1v1h-1zM31 27h1v1h-1z"/>
<path fill="#fff900" d="M45 6h1v1h-1zM48 9h1v1h-1zM24 24h1v1h-1zM30 30h1v1h-1zM11 41h1v1h-1zM13 43h1v1h-1z"/>
<path fill="#ffff9f" d="M46 6h1v1h-1zM48 8h1v1h-1z"/>
<path fill="#ffff83" d="M47 6h1v1h-1zM48 7h1v1h-1z"/>
<path fill="#ff7900" d="M0 7h1v1h-1zM7 9h1v1h-1zM4 10h1v1h-1zM0 11h1v1h-1zM3 31h1v1h-1zM2 34h1v1h-1zM6 34h1v1h-1zM1 36h1v1h-1zM45 47h1v1h-1zM20 48h1v1h-1zM44 50h1v1h-1zM23 51h1v1h-1zM20 52h1v1h-1zM18 53h1v1h-1zM43 54h1v1h-1zM47 54h1v1h-1z"/>
<path fill="#ff7700" d="M1 7h1v1h-1zM1 8h1v1h-1zM6 13h1v1h-1zM4 15h1v1h-1zM0 20h1v1h-1zM3 21h1v1h-1zM7 28h1v1h-1zM0 34h1v1h-1zM3 39h1v1h-1zM26 47h1v1h-1zM41 48h1v1h-1zM39 50h1v1h-1zM15 51h1v1h-1zM33 51h1v1h-1zM46 53h1v1h-1zM47 53h1v1h-1zM20 54h1v1h-1zM34 54h1v1h-1z"/>
<path fill="#ff5b00" d="M7 7h1v1h-1zM1 12h1v1h-1zM3 17h1v1h-1zM47 47h1v1h-1zM37 51h1v1h-1zM42 53h1v1h-1z"/>
<path fill="#ff9e00" d="M8 7h1v1h-1zM24 8h1v1h-1zM28 12h1v1h-1zM42 26h1v1h-1zM11 30h1v1h-1zM46 30h1v1h-1zM24 43h1v1h-1zM7 45h1v1h-1zM47 46h1v1h-1zM9 47h1v1h-1z"/>
<path fill="#ffb400" d="M15 7h1v1h-1zM16 7h1v1h-1zM20 7h1v1h-1zM25 7h1v1h-1zM26 9h1v1h-1zM9 12h1v1h-1zM21 15h1v1h-1zM31 15h1v1h-1zM24 16h1v1h-1zM39 23h1v1h-1zM45 28h1v1h-1zM47 29h1v1h-1zM23 30h1v1h-1zM38 30h1v1h-1zM24 31h1v1h-1zM39 33h1v1h-1zM47 34h1v1h-1zM47 38h1v1h-1zM47 39h1v1h-1zM8 43h1v1h-1zM42 45h1v1h-1zM11 46h1v1h-1z"/>
<path fill="#ffac00" d="M23 7h1v1h-1zM24 7h1v1h-1zM11 9h1v1h-1zM18 11h1v1h-1zM10 15h1v1h-1zM23 17h1v1h-1zM14 23h1v1h-1zM14 26h1v1h-1zM47 30h1v1h-1zM37 31h1v1h-1zM47 31h1v1h-1zM43 36h1v1h-1zM28 40h1v1h-1zM31 40h1v1h-1zM45 43h1v1h-1zM39 44h1v1h-1z"/>
<path fill="#ffc000" d="M27 7h1v1h-1zM34 7h1v1h-1zM20 8h1v1h-1zM13 16h1v1h-1zM15 16h1v1h-1zM11 20h1v1h-1zM14 20h1v1h-1zM21 20h1v1h-1zM47 20h1v1h-1zM17 23h1v1h-1zM21 25h1v1h-1zM47 27h1v1h-1zM23 28h1v1h-1zM26 31h1v1h-1zM29 33h1v1h-1zM34 33h1v1h-1zM46 34h1v1h-1zM31 37h1v1h-1zM38 39h1v1h-1zM11 40h1v1h-1zM34 40h1v1h-1zM38 41h1v1h-1zM14 43h1v1h-1zM34 43h1v1h-1z"/>
<path fill="#ffae00" d="M38 7h1v1h-1zM38 8h1v1h-1zM10 9h1v1h-1zM32 10h1v1h-1zM10 11h1v1h-1zM16 13h1v1h-1zM12 15h1v1h-1zM14 15h1v1h-1zM15 15h1v1h-1zM10 16h1v1h-1zM46 16h1v1h-1zM47 16h1v1h-1zM44 22h1v1h-1zM41 38h1v1h-1zM39 39h1v1h-1zM39 40h1v1h-1zM39 42h1v1h-1zM38 44h1v1h-1zM43 44h1v1h-1zM45 44h1v1h-1z"/>
<path fill="#fff500" d="M39 7h1v1h-1zM39 9h1v1h-1zM45 15h1v1h-1zM47 15h1v1h-1zM26 20h1v1h-1zM26 26h1v1h-1zM24 28h1v1h-1zM28 28h1v1h-1zM34 28h1v1h-1zM26 30h1v1h-1zM12 33h1v1h-1zM9 34h1v1h-1zM21 42h1v1h-1zM20 45h1v1h-1z"/>
<path fill="#ffee00" d="M40 7h1v1h-1zM41 8h1v1h-1zM46 13h1v1h-1zM47 14h1v1h-1zM26 24h1v1h-1zM30 28h1v1h-1zM9 42h1v1h-1zM12 45h1v1h-1z"/>
<path fill="#fff200" d="M41 7h1v1h-1zM47 13h1v1h-1zM28 19h1v1h-1zM25 23h1v1h-1zM35 26h1v1h-1zM9 29h1v1h-1zM31 29h1v1h-1zM13 34h1v1h-1zM13 36h1v1h-1zM15 36h1v1h-1zM18 39h1v1h-1zM18 41h1v1h-1zM20 41h1v1h-1zM25 45h1v1h-1z"/>
<path fill="#ffc800" d="M42 7h1v1h-1zM47 12h1v1h-1zM25 14h1v1h-1zM9 15h1v1h-1zM12 16h1v1h-1zM10 18h1v1h-1zM18 22h1v1h-1zM15 23h1v1h-1zM22 24h1v1h-1zM40 29h1v1h-1zM11 31h1v1h-1zM30 32h1v1h-1zM32 36h1v1h-1zM31 39h1v1h-1zM38 42h1v1h-1zM23 43h1v1h-1zM36 44h1v1h-1zM39 45h1v1h-1z"/>
<path fill="#ffec00" d="M43 7h1v1h-1zM40 11h1v1h-1zM47 11h1v1h-1zM43 14h1v1h-1zM25 19h1v1h-1zM30 20h1v1h-1zM26 23h1v1h-1zM34 24h1v1h-1zM31 28h1v1h-1zM35 29h1v1h-1zM15 33h1v1h-1zM11 39h1v1h-1zM21 39h1v1h-1zM15 43h1v1h-1z"/>
<path fill="#fffd00" d="M44 7h1v1h-1zM41 9h1v1h-1zM47 10h1v1h-1zM45 13h1v1h-1zM15 38h1v1h-1zM16 39h1v1h-1z"/>
<path fill="#ffff02" d="M45 7h1v1h-1zM47 9h1v1h-1zM15 34h1v1h-1zM20 39h1v1h-1z"/>
<path fill="#ffff8f" d="M46 7h1v1h-1zM47 8h1v1h-1z"/>
<path fill="#ff6600" d="M3 8h1v1h-1zM6 9h1v1h-1zM6 10h1v1h-1zM4 12h1v1h-1zM44 48h1v1h-1zM45 48h1v1h-1zM42 50h1v1h-1zM46 51h1v1h-1z"/>
<path fill="#ff7600" d="M4 8h1v1h-1zM6 11h1v1h-1zM1 13h1v1h-1zM5 13h1v1h-1zM6 15h1v1h-1zM5 27h1v1h-1zM7 29h1v1h-1zM7 30h1v1h-1zM6 35h1v1h-1zM6 37h1v1h-1zM7 40h1v1h-1zM14 47h1v1h-1zM24 47h1v1h-1zM25 47h1v1h-1zM17 48h1v1h-1zM19 48h1v1h-1zM39 48h1v1h-1zM43 48h1v1h-1zM27 49h1v1h-1zM41 49h1v1h-1zM46 50h1v1h-1zM41 53h1v1h-1z"/>
<path fill="#ffcd00" d="M9 8h1v1h-1zM29 8h1v1h-1zM26 10h1v1h-1zM27 13h1v1h-1zM26 17h1v1h-1zM28 18h1v1h-1zM19 20h1v1h-1zM28 21h1v1h-1zM20 23h1v1h-1zM46 25h1v1h-1zM33 26h1v1h-1zM36 26h1v1h-1zM41 27h1v1h-1zM37 28h1v1h-1zM44 28h1v1h-1zM11 29h1v1h-1zM12 29h1v1h-1zM31 34h1v1h-1zM34 35h1v1h-1zM25 42h1v1h-1zM25 43h1v1h-1zM46 45h1v1h-1z"/>
<path fill="#ffc900" d="M15 8h1v1h-1zM29 13h1v1h-1zM9 14h1v1h-1zM30 16h1v1h-1zM13 18h1v1h-1zM21 21h1v1h-1zM10 24h1v1h-1zM38 24h1v1h-1zM22 25h1v1h-1zM41 25h1v1h-1zM19 27h1v1h-1zM22 27h1v1h-1zM17 28h1v1h-1zM27 32h1v1h-1zM29 32h1v1h-1zM33 33h1v1h-1zM27 35h1v1h-1zM8 36h1v1h-1zM26 37h1v1h-1zM46 39h1v1h-1zM36 41h1v1h-1zM30 44h1v1h-1zM40 45h1v1h-1zM18 46h1v1h-1z"/>
<path fill="#ffd500" d="M27 8h1v1h-1zM42 9h1v1h-1zM45 12h1v1h-1zM25 15h1v1h-1zM35 16h1v1h-1zM38 19h1v1h-1zM9 20h1v1h-1zM24 23h1v1h-1zM14 27h1v1h-1zM46 27h1v1h-1zM39 29h1v1h-1zM9 30h1v1h-1zM31 30h1v1h-1zM27 40h1v1h-1zM24 45h1v1h-1zM34 45h1v1h-1z"/>
<path fill="#ffc500" d="M32 8h1v1h-1zM34 8h1v1h-1zM31 10h1v1h-1zM31 19h1v1h-1zM46 20h1v1h-1zM10 21h1v1h-1zM46 22h1v1h-1zM35 23h1v1h-1zM44 23h1v1h-1zM33 44h1v1h-1z"/>
<path fill="#ffbf00" d="M33 8h1v1h-1zM9 9h1v1h-1zM22 9h1v1h-1zM33 11h1v1h-1zM26 12h1v1h-1zM30 14h1v1h-1zM15 17h1v1h-1zM21 18h1v1h-1zM43 21h1v1h-1zM46 21h1v1h-1zM40 24h1v1h-1zM42 28h1v1h-1zM17 31h1v1h-1zM45 32h1v1h-1zM36 33h1v1h-1zM23 37h1v1h-1zM37 39h1v1h-1zM45 45h1v1h-1z"/>
<path fill="#ffaf00" d="M35 8h1v1h-1zM28 9h1v1h-1zM12 10h1v1h-1zM19 11h1v1h-1zM23 13h1v1h-1zM38 13h1v1h-1zM16 15h1v1h-1zM36 15h1v1h-1zM14 16h1v1h-1zM41 16h1v1h-1zM39 18h1v1h-1zM46 19h1v1h-1zM45 26h1v1h-1zM41 31h1v1h-1zM43 35h1v1h-1zM39 38h1v1h-1zM38 40h1v1h-1zM44 42h1v1h-1zM0 47h1v1h-1zM7 54h1v1h-1z"/>
<path fill="#ffb200" d="M37 8h1v1h-1zM24 10h1v1h-1zM29 10h1v1h-1zM29 11h1v1h-1zM28 14h1v1h-1zM33 14h1v1h-1zM20 16h1v1h-1zM10 17h1v1h-1zM46 17h1v1h-1zM22 18h1v1h-1zM23 19h1v1h-1zM18 20h1v1h-1zM40 21h1v1h-1zM8 23h1v1h-1zM16 23h1v1h-1zM18 25h1v1h-1zM43 25h1v1h-1zM44 25h1v1h-1zM18 26h1v1h-1zM20 26h1v1h-1zM40 26h1v1h-1zM8 28h1v1h-1zM44 30h1v1h-1zM35 31h1v1h-1zM36 32h1v1h-1zM28 34h1v1h-1zM38 34h1v1h-1zM28 36h1v1h-1zM29 36h1v1h-1zM34 36h1v1h-1zM31 38h1v1h-1zM37 44h1v1h-1zM26 46h1v1h-1zM31 46h1v1h-1zM0 49h1v1h-1zM5 54h1v1h-1z"/>
<path fill="#fff100" d="M39 8h1v1h-1zM46 15h1v1h-1zM33 18h1v1h-1zM36 21h1v1h-1zM30 23h1v1h-1zM31 24h1v1h-1zM14 34h1v1h-1zM20 40h1v1h-1z"/>
<path fill="#ffe800" d="M40 8h1v1h-1zM41 11h1v1h-1zM43 13h1v1h-1zM46 14h1v1h-1zM24 18h1v1h-1zM30 19h1v1h-1zM28 24h1v1h-1zM35 24h1v1h-1zM30 26h1v1h-1zM16 27h1v1h-1zM36 30h1v1h-1zM27 38h1v1h-1zM8 45h1v1h-1zM9 46h1v1h-1z"/>
<path fill="#ffd800" d="M42 8h1v1h-1zM46 12h1v1h-1zM27 16h1v1h-1zM25 21h1v1h-1zM9 22h1v1h-1zM38 27h1v1h-1zM12 28h1v1h-1zM22 28h1v1h-1zM33 29h1v1h-1zM15 30h1v1h-1zM10 31h1v1h-1zM26 32h1v1h-1zM18 33h1v1h-1zM11 35h1v1h-1zM21 36h1v1h-1zM24 39h1v1h-1zM26 42h1v1h-1zM19 43h1v1h-1zM23 44h1v1h-1zM32 45h1v1h-1z"/>
<path fill="#ffea00" d="M43 8h1v1h-1zM46 11h1v1h-1zM29 19h1v1h-1zM29 23h1v1h-1zM24 25h1v1h-1zM31 25h1v1h-1zM35 25h1v1h-1zM20 27h1v1h-1zM29 30h1v1h-1zM27 34h1v1h-1zM16 37h1v1h-1zM17 38h1v1h-1zM10 40h1v1h-1zM14 44h1v1h-1z"/>
<path fill="#ffff26" d="M44 8h1v1h-1zM43 9h1v1h-1zM46 10h1v1h-1zM45 11h1v1h-1z"/>
<path fill="#ffff45" d="M45 8h1v1h-1zM46 9h1v1h-1z"/>
<path fill="#ff7100" d="M0 9h1v1h-1zM0 19h1v1h-1zM5 28h1v1h-1zM3 29h1v1h-1zM2 35h1v1h-1zM5 38h1v1h-1zM1 40h1v1h-1zM16 49h1v1h-1zM26 49h1v1h-1zM25 51h1v1h-1zM19 52h1v1h-1zM14 53h1v1h-1zM35 54h1v1h-1zM45 54h1v1h-1z"/>
<path fill="#ff6c00" d="M5 9h1v1h-1zM1 21h1v1h-1zM5 25h1v1h-1zM4 26h1v1h-1zM5 37h1v1h-1zM5 40h1v1h-1zM14 49h1v1h-1zM17 49h1v1h-1zM29 49h1v1h-1zM45 49h1v1h-1zM28 50h1v1h-1zM33 53h1v1h-1z"/>
<path fill="#ffd200" d="M25 9h1v1h-1zM27 9h1v1h-1zM27 11h1v1h-1zM32 15h1v1h-1zM28 16h1v1h-1zM30 17h1v1h-1zM15 18h1v1h-1zM15 20h1v1h-1zM39 22h1v1h-1zM37 24h1v1h-1zM10 26h1v1h-1zM15 26h1v1h-1zM38 26h1v1h-1zM43 27h1v1h-1zM45 27h1v1h-1zM13 29h1v1h-1zM45 29h1v1h-1zM14 31h1v1h-1zM8 32h1v1h-1zM14 33h1v1h-1zM10 36h1v1h-1zM14 37h1v1h-1zM28 39h1v1h-1zM34 39h1v1h-1zM36 39h1v1h-1zM17 40h1v1h-1zM21 40h1v1h-1zM23 40h1v1h-1zM25 41h1v1h-1zM18 44h1v1h-1zM28 44h1v1h-1zM22 46h1v1h-1z"/>
<path fill="#ffc200" d="M29 9h1v1h-1zM15 11h1v1h-1zM33 15h1v1h-1zM36 16h1v1h-1zM38 18h1v1h-1zM39 21h1v1h-1zM45 25h1v1h-1zM43 39h1v1h-1zM8 40h1v1h-1zM14 46h1v1h-1z"/>
<path fill="#ffc600" d="M30 9h1v1h-1zM26 13h1v1h-1zM34 13h1v1h-1zM35 15h1v1h-1zM39 19h1v1h-1zM41 20h1v1h-1zM19 23h1v1h-1zM45 24h1v1h-1zM19 25h1v1h-1zM12 26h1v1h-1zM41 28h1v1h-1zM17 29h1v1h-1zM11 32h1v1h-1zM29 35h1v1h-1zM31 35h1v1h-1zM25 37h1v1h-1zM28 42h1v1h-1zM22 43h1v1h-1z"/>
<path fill="#ffd400" d="M34 9h1v1h-1zM45 20h1v1h-1zM20 24h1v1h-1zM9 28h1v1h-1zM18 31h1v1h-1zM16 33h1v1h-1zM30 34h1v1h-1zM11 36h1v1h-1zM23 36h1v1h-1zM21 38h1v1h-1zM18 43h1v1h-1zM26 45h1v1h-1z"/>
<path fill="#ffed00" d="M40 9h1v1h-1zM45 14h1v1h-1zM29 21h1v1h-1zM33 25h1v1h-1zM12 40h1v1h-1zM14 42h1v1h-1z"/>
<path fill="#fffb00" d="M44 9h1v1h-1zM41 10h1v1h-1zM45 10h1v1h-1zM44 13h1v1h-1zM27 22h1v1h-1zM32 27h1v1h-1zM17 35h1v1h-1zM16 36h1v1h-1zM19 37h1v1h-1zM12 38h1v1h-1zM18 38h1v1h-1zM16 42h1v1h-1zM9 43h1v1h-1zM11 45h1v1h-1z"/>
<path fill="#ff6f00" d="M3 10h1v1h-1zM3 15h1v1h-1zM1 20h1v1h-1zM6 21h1v1h-1zM1 23h1v1h-1zM0 25h1v1h-1zM3 25h1v1h-1zM2 27h1v1h-1zM5 29h1v1h-1zM5 44h1v1h-1zM33 48h1v1h-1zM10 49h1v1h-1zM25 49h1v1h-1zM29 51h1v1h-1zM39 51h1v1h-1zM44 51h1v1h-1zM27 52h1v1h-1zM31 53h1v1h-1zM34 53h1v1h-1zM29 54h1v1h-1z"/>
<path fill="#ff6500" d="M7 10h1v1h-1zM5 18h1v1h-1zM1 46h1v1h-1zM44 47h1v1h-1zM36 49h1v1h-1zM8 53h1v1h-1z"/>
<path fill="#ffa200" d="M21 10h1v1h-1zM10 12h1v1h-1zM17 13h1v1h-1zM17 15h1v1h-1zM44 33h1v1h-1zM39 37h1v1h-1zM41 37h1v1h-1zM42 44h1v1h-1z"/>
<path fill="#ffc300" d="M25 10h1v1h-1zM26 15h1v1h-1zM28 17h1v1h-1zM18 21h1v1h-1zM22 23h1v1h-1zM12 25h1v1h-1zM37 26h1v1h-1zM39 28h1v1h-1zM44 29h1v1h-1zM12 30h1v1h-1zM31 32h1v1h-1zM33 36h1v1h-1zM24 42h1v1h-1zM29 42h1v1h-1z"/>
<path fill="#ffff00" d="M40 10h1v1h-1zM44 14h1v1h-1zM29 24h1v1h-1zM30 25h1v1h-1zM18 35h1v1h-1zM19 36h1v1h-1zM12 39h1v1h-1zM15 42h1v1h-1z"/>
<path fill="#ffdf00" d="M42 10h1v1h-1zM44 12h1v1h-1zM32 16h1v1h-1zM34 16h1v1h-1zM32 18h1v1h-1zM24 19h1v1h-1zM38 20h1v1h-1zM36 22h1v1h-1zM38 22h1v1h-1zM35 30h1v1h-1z"/>
<path fill="#ffff17" d="M43 10h1v1h-1zM44 11h1v1h-1zM15 35h1v1h-1zM19 39h1v1h-1z"/>
<path fill="#ff7400" d="M4 11h1v1h-1zM7 13h1v1h-1zM6 14h1v1h-1zM6 25h1v1h-1zM7 27h1v1h-1zM0 30h1v1h-1zM5 41h1v1h-1zM2 44h1v1h-1zM27 47h1v1h-1zM41 47h1v1h-1zM29 48h1v1h-1zM40 48h1v1h-1zM13 49h1v1h-1zM43 50h1v1h-1zM10 52h1v1h-1zM24 54h1v1h-1z"/>
<path fill="#ff9a00" d="M14 11h1v1h-1zM32 12h1v1h-1zM16 14h1v1h-1zM42 22h1v1h-1zM1 35h1v1h-1zM40 38h1v1h-1zM43 40h1v1h-1zM19 53h1v1h-1z"/>
<path fill="#ffa500" d="M16 11h1v1h-1zM20 11h1v1h-1zM28 11h1v1h-1zM38 11h1v1h-1zM17 16h1v1h-1zM43 16h1v1h-1zM43 26h1v1h-1zM43 34h1v1h-1zM38 37h1v1h-1zM43 38h1v1h-1z"/>
<path fill="#ffef00" d="M39 11h1v1h-1zM43 15h1v1h-1zM36 17h1v1h-1zM25 18h1v1h-1zM37 18h1v1h-1zM26 25h1v1h-1zM28 25h1v1h-1zM29 26h1v1h-1zM29 28h1v1h-1zM36 29h1v1h-1zM9 31h1v1h-1zM15 31h1v1h-1zM23 39h1v1h-1zM23 45h1v1h-1z"/>
<path fill="#ffff0b" d="M42 11h1v1h-1zM43 12h1v1h-1z"/>
<path fill="#ff9700" d="M33 12h1v1h-1zM42 21h1v1h-1z"/>
<path fill="#ffe000" d="M39 12h1v1h-1zM40 12h1v1h-1zM42 14h1v1h-1zM42 15h1v1h-1zM34 17h1v1h-1zM37 20h1v1h-1zM9 25h1v1h-1zM20 25h1v1h-1zM15 29h1v1h-1zM13 33h1v1h-1zM29 34h1v1h-1zM14 36h1v1h-1zM10 37h1v1h-1zM25 39h1v1h-1zM18 40h1v1h-1zM21 41h1v1h-1zM17 44h1v1h-1zM29 45h1v1h-1z"/>
<path fill="#ff5500" d="M0 13h1v1h-1zM4 16h1v1h-1zM2 18h1v1h-1zM2 19h1v1h-1zM2 30h1v1h-1zM2 36h1v1h-1zM38 50h1v1h-1zM18 52h1v1h-1zM24 52h1v1h-1zM35 52h1v1h-1zM36 52h1v1h-1zM41 54h1v1h-1z"/>
<path fill="#ff7f00" d="M4 13h1v1h-1zM0 22h1v1h-1zM6 27h1v1h-1zM0 29h1v1h-1zM3 36h1v1h-1zM4 40h1v1h-1zM0 42h1v1h-1zM3 42h1v1h-1zM27 48h1v1h-1zM14 50h1v1h-1zM41 50h1v1h-1zM12 51h1v1h-1zM18 51h1v1h-1zM12 54h1v1h-1zM25 54h1v1h-1zM32 54h1v1h-1z"/>
<path fill="#ffca00" d="M9 13h1v1h-1zM20 19h1v1h-1zM13 21h1v1h-1zM12 22h1v1h-1zM28 23h1v1h-1zM17 24h1v1h-1zM18 24h1v1h-1zM31 26h1v1h-1zM11 27h1v1h-1zM35 34h1v1h-1zM30 36h1v1h-1zM30 37h1v1h-1zM33 41h1v1h-1zM8 42h1v1h-1zM32 42h1v1h-1zM27 43h1v1h-1zM41 45h1v1h-1zM12 46h1v1h-1z"/>
<path fill="#ffd600" d="M25 13h1v1h-1zM29 16h1v1h-1zM30 18h1v1h-1zM12 20h1v1h-1zM9 21h1v1h-1zM36 24h1v1h-1zM38 25h1v1h-1zM17 27h1v1h-1zM23 27h1v1h-1zM41 29h1v1h-1zM27 31h1v1h-1zM27 37h1v1h-1zM8 41h1v1h-1zM34 42h1v1h-1zM33 45h1v1h-1zM13 46h1v1h-1z"/>
<path fill="#ffff1a" d="M40 13h1v1h-1zM41 14h1v1h-1zM30 22h1v1h-1zM32 24h1v1h-1z"/>
<path fill="#ffd900" d="M27 14h1v1h-1zM24 17h1v1h-1zM26 18h1v1h-1zM15 19h1v1h-1zM15 22h1v1h-1zM10 25h1v1h-1zM40 27h1v1h-1zM10 28h1v1h-1zM36 28h1v1h-1zM37 30h1v1h-1zM12 31h1v1h-1zM12 32h1v1h-1zM11 33h1v1h-1zM8 35h1v1h-1zM32 39h1v1h-1zM35 39h1v1h-1zM22 42h1v1h-1zM23 42h1v1h-1zM21 43h1v1h-1zM26 44h1v1h-1zM29 44h1v1h-1zM19 46h1v1h-1z"/>
<path fill="#ffff7e" d="M39 14h1v1h-1zM40 15h1v1h-1z"/>
<path fill="#ff5900" d="M5 16h1v1h-1zM38 49h1v1h-1z"/>
<path fill="#ffdd00" d="M25 16h1v1h-1zM33 16h1v1h-1zM29 17h1v1h-1zM24 21h1v1h-1zM38 21h1v1h-1zM37 25h1v1h-1zM10 29h1v1h-1zM38 29h1v1h-1zM33 30h1v1h-1zM8 34h1v1h-1zM8 44h1v1h-1zM25 44h1v1h-1zM10 46h1v1h-1zM20 46h1v1h-1z"/>
<path fill="#ffeb00" d="M37 16h1v1h-1zM27 17h1v1h-1zM38 17h1v1h-1zM25 20h1v1h-1zM37 27h1v1h-1zM34 29h1v1h-1zM12 35h1v1h-1zM19 42h1v1h-1z"/>
<path fill="#ff5600" d="M4 17h1v1h-1zM7 17h1v1h-1zM2 26h1v1h-1zM37 47h1v1h-1zM37 50h1v1h-1zM28 52h1v1h-1z"/>
<path fill="#ff6200" d="M6 17h1v1h-1zM37 48h1v1h-1z"/>
<path fill="#ffdb00" d="M25 17h1v1h-1zM9 24h1v1h-1zM12 24h1v1h-1zM15 27h1v1h-1zM37 29h1v1h-1zM12 37h1v1h-1zM27 39h1v1h-1zM17 42h1v1h-1zM30 42h1v1h-1zM30 45h1v1h-1z"/>
<path fill="#ffd700" d="M31 17h1v1h-1zM30 21h1v1h-1zM37 23h1v1h-1zM33 24h1v1h-1zM9 26h1v1h-1zM21 29h1v1h-1zM10 32h1v1h-1zM17 32h1v1h-1zM25 33h1v1h-1zM22 37h1v1h-1zM11 38h1v1h-1zM16 43h1v1h-1zM22 44h1v1h-1zM28 45h1v1h-1z"/>
<path fill="#ffde00" d="M32 17h1v1h-1zM21 22h1v1h-1zM37 22h1v1h-1zM18 29h1v1h-1zM13 32h1v1h-1zM16 32h1v1h-1zM32 33h1v1h-1zM16 35h1v1h-1zM25 36h1v1h-1zM19 38h1v1h-1zM22 38h1v1h-1zM22 41h1v1h-1z"/>
<path fill="#ffff30" d="M35 17h1v1h-1zM37 19h1v1h-1z"/>
<path fill="#ff7200" d="M1 18h1v1h-1zM6 18h1v1h-1zM3 24h1v1h-1zM5 43h1v1h-1zM6 43h1v1h-1zM11 48h1v1h-1zM36 48h1v1h-1zM11 49h1v1h-1zM30 51h1v1h-1zM36 53h1v1h-1z"/>
<path fill="#fffa00" d="M27 18h1v1h-1zM25 24h1v1h-1zM36 27h1v1h-1zM30 29h1v1h-1zM12 34h1v1h-1zM9 39h1v1h-1zM20 42h1v1h-1zM15 45h1v1h-1z"/>
<path fill="#fff700" d="M29 18h1v1h-1zM32 20h1v1h-1zM34 22h1v1h-1zM36 25h1v1h-1zM9 32h1v1h-1zM10 34h1v1h-1zM14 35h1v1h-1zM14 38h1v1h-1zM16 40h1v1h-1zM19 40h1v1h-1zM20 44h1v1h-1zM22 45h1v1h-1z"/>
<path fill="#ffff2c" d="M35 18h1v1h-1zM36 19h1v1h-1z"/>
<path fill="#ffe900" d="M27 19h1v1h-1zM28 20h1v1h-1zM34 26h1v1h-1zM35 27h1v1h-1zM10 33h1v1h-1zM11 34h1v1h-1zM20 43h1v1h-1zM21 44h1v1h-1z"/>
<path fill="#ffff11" d="M34 19h1v1h-1zM35 20h1v1h-1z"/>
<path fill="#ff5e00" d="M2 20h1v1h-1zM0 28h1v1h-1zM2 43h1v1h-1zM11 52h1v1h-1zM34 52h1v1h-1zM26 54h1v1h-1z"/>
<path fill="#ffd300" d="M13 20h1v1h-1zM16 22h1v1h-1zM9 23h1v1h-1zM12 23h1v1h-1zM8 31h1v1h-1zM8 38h1v1h-1zM32 38h1v1h-1zM34 41h1v1h-1zM31 42h1v1h-1zM31 45h1v1h-1zM16 46h1v1h-1zM23 46h1v1h-1z"/>
<path fill="#ffd100" d="M20 20h1v1h-1zM24 22h1v1h-1zM24 26h1v1h-1zM14 29h1v1h-1zM28 30h1v1h-1zM32 30h1v1h-1zM34 34h1v1h-1zM25 40h1v1h-1z"/>
<path fill="#ffe300" d="M24 20h1v1h-1zM28 22h1v1h-1zM32 26h1v1h-1zM34 30h1v1h-1zM9 37h1v1h-1zM13 38h1v1h-1zM16 41h1v1h-1zM17 45h1v1h-1z"/>
<path fill="#ffe500" d="M31 20h1v1h-1zM34 23h1v1h-1zM10 27h1v1h-1zM10 43h1v1h-1zM11 44h1v1h-1zM27 44h1v1h-1z"/>
<path fill="#ffd000" d="M19 21h1v1h-1zM13 24h1v1h-1zM13 25h1v1h-1zM22 29h1v1h-1zM25 32h1v1h-1zM16 34h1v1h-1zM33 35h1v1h-1zM20 38h1v1h-1zM29 41h1v1h-1zM30 41h1v1h-1z"/>
<path fill="#ffff16" d="M26 21h1v1h-1zM33 28h1v1h-1z"/>
<path fill="#ffff0f" d="M27 21h1v1h-1zM33 27h1v1h-1zM14 39h1v1h-1zM15 40h1v1h-1z"/>
<path fill="#ffff08" d="M31 21h1v1h-1zM29 22h1v1h-1zM33 23h1v1h-1zM32 25h1v1h-1z"/>
<path fill="#ffff07" d="M32 21h1v1h-1zM33 22h1v1h-1z"/>
<path fill="#ffdc00" d="M13 22h1v1h-1zM15 24h1v1h-1zM19 24h1v1h-1zM30 35h1v1h-1zM30 39h1v1h-1zM32 41h1v1h-1z"/>
<path fill="#fffc00" d="M26 22h1v1h-1zM32 28h1v1h-1zM15 37h1v1h-1zM17 39h1v1h-1z"/>
<path fill="#ffff25" d="M31 22h1v1h-1zM32 23h1v1h-1z"/>
<path fill="#ff6800" d="M3 23h1v1h-1zM3 26h1v1h-1zM7 26h1v1h-1zM0 46h1v1h-1zM28 47h1v1h-1zM28 51h1v1h-1zM31 51h1v1h-1zM8 54h1v1h-1z"/>
<path fill="#ff7500" d="M6 23h1v1h-1zM4 30h1v1h-1zM2 31h1v1h-1zM31 48h1v1h-1zM24 50h1v1h-1zM23 52h1v1h-1z"/>
<path fill="#ffff44" d="M27 24h1v1h-1zM30 27h1v1h-1z"/>
<path fill="#ff7a00" d="M1 25h1v1h-1zM6 33h1v1h-1zM1 38h1v1h-1zM6 38h1v1h-1zM6 42h1v1h-1zM4 44h1v1h-1zM12 48h1v1h-1zM16 48h1v1h-1zM21 48h1v1h-1zM10 50h1v1h-1zM16 53h1v1h-1zM29 53h1v1h-1z"/>
<path fill="#ff8300" d="M4 25h1v1h-1zM0 27h1v1h-1zM1 27h1v1h-1zM1 34h1v1h-1zM5 35h1v1h-1zM0 38h1v1h-1zM3 41h1v1h-1zM1 44h1v1h-1zM19 49h1v1h-1zM29 50h1v1h-1zM13 51h1v1h-1zM10 53h1v1h-1zM20 53h1v1h-1zM27 53h1v1h-1zM16 54h1v1h-1zM27 54h1v1h-1z"/>
<path fill="#fffe00" d="M25 25h1v1h-1zM29 29h1v1h-1z"/>
<path fill="#ffff29" d="M27 25h1v1h-1zM29 27h1v1h-1z"/>
<path fill="#ffff24" d="M25 26h1v1h-1zM28 29h1v1h-1z"/>
<path fill="#ffff0d" d="M27 26h1v1h-1zM28 27h1v1h-1z"/>
<path fill="#ff8f00" d="M4 27h1v1h-1zM4 36h1v1h-1zM4 42h1v1h-1zM4 45h1v1h-1zM2 48h1v1h-1zM9 50h1v1h-1zM12 50h1v1h-1zM18 50h1v1h-1zM27 50h1v1h-1zM6 52h1v1h-1z"/>
<path fill="#ffe700" d="M18 27h1v1h-1zM13 31h1v1h-1zM17 33h1v1h-1zM27 36h1v1h-1zM13 37h1v1h-1zM21 37h1v1h-1zM17 41h1v1h-1zM23 41h1v1h-1z"/>
<path fill="#ffe600" d="M21 27h1v1h-1zM16 29h1v1h-1zM20 29h1v1h-1zM18 32h1v1h-1zM27 33h1v1h-1zM25 34h1v1h-1zM10 35h1v1h-1zM22 36h1v1h-1zM25 38h1v1h-1zM8 39h1v1h-1zM9 40h1v1h-1zM13 40h1v1h-1zM14 41h1v1h-1zM19 44h1v1h-1zM14 45h1v1h-1zM15 46h1v1h-1z"/>
<path fill="#ffff1b" d="M24 27h1v1h-1zM27 30h1v1h-1z"/>
<path fill="#ffff18" d="M25 27h1v1h-1zM27 29h1v1h-1z"/>
<path fill="#ffff3b" d="M26 27h1v1h-1zM27 28h1v1h-1zM20 33h1v1h-1zM21 34h1v1h-1zM4 47h1v1h-1zM7 50h1v1h-1z"/>
<path fill="#ffff50" d="M25 28h1v1h-1zM26 29h1v1h-1z"/>
<path fill="#ffff10" d="M24 29h1v1h-1zM25 30h1v1h-1z"/>
<path fill="#ffff6d" d="M19 31h1v1h-1zM23 35h1v1h-1z"/>
<path fill="#ffff6c" d="M20 31h1v1h-1zM23 34h1v1h-1z"/>
<path fill="#ffff39" d="M21 31h1v1h-1zM23 33h1v1h-1z"/>
<path fill="#ffff51" d="M22 31h1v1h-1zM23 32h1v1h-1z"/>
<path fill="#ff8400" d="M0 32h1v1h-1zM4 37h1v1h-1zM7 37h1v1h-1zM17 47h1v1h-1zM17 50h1v1h-1zM22 54h1v1h-1z"/>
<path fill="#ff8600" d="M6 32h1v1h-1zM4 35h1v1h-1zM22 48h1v1h-1zM19 50h1v1h-1z"/>
<path fill="#ffff73" d="M19 32h1v1h-1zM22 35h1v1h-1z"/>
<path fill="#ffff99" d="M20 32h1v1h-1zM22 34h1v1h-1z"/>
<path fill="#ffff65" d="M21 32h1v1h-1zM22 33h1v1h-1z"/>
<path fill="#fff400" d="M9 33h1v1h-1zM21 45h1v1h-1z"/>
<path fill="#ffff72" d="M19 33h1v1h-1zM21 35h1v1h-1z"/>
<path fill="#ffffae" d="M19 34h1v1h-1zM20 35h1v1h-1z"/>
<path fill="#ffff03" d="M9 35h1v1h-1zM19 45h1v1h-1z"/>
<path fill="#ffff05" d="M13 35h1v1h-1zM19 41h1v1h-1z"/>
<path fill="#ff7d00" d="M7 36h1v1h-1zM6 40h1v1h-1zM1 42h1v1h-1zM5 42h1v1h-1zM2 45h1v1h-1zM18 47h1v1h-1zM14 48h1v1h-1zM12 49h1v1h-1zM9 52h1v1h-1zM12 53h1v1h-1z"/>
<path fill="#ffff15" d="M10 39h1v1h-1zM15 44h1v1h-1z"/>
<path fill="#ffff49" d="M13 39h1v1h-1zM15 41h1v1h-1z"/>
<path fill="#ffff04" d="M12 41h1v1h-1zM13 42h1v1h-1z"/>
<path fill="#ffff12" d="M9 44h1v1h-1zM10 45h1v1h-1z"/>
<path fill="#ffff1c" d="M5 47h1v1h-1zM7 49h1v1h-1z"/>
<path fill="#ffff5a" d="M6 47h1v1h-1zM7 48h1v1h-1z"/>
<path fill="#ffff22" d="M4 48h1v1h-1zM6 50h1v1h-1z"/>
<path fill="#ffff5c" d="M5 48h1v1h-1zM6 49h1v1h-1z"/>
<path fill="#ffff78" d="M0 51h1v1h-1zM3 54h1v1h-1z"/>
<path fill="#ffff4d" d="M1 51h1v1h-1zM3 53h1v1h-1z"/>
<path fill="#ffff4b" d="M2 51h1v1h-1zM3 52h1v1h-1z"/>
<path fill="#ffff3e" d="M0 52h1v1h-1zM2 54h1v1h-1z"/>
<path fill="#ffff79" d="M1 52h1v1h-1zM2 53h1v1h-1z"/>
<path fill="#ffff7f" d="M0 53h1v1h-1zM1 54h1v1h-1z"/>
</g>
<rect x="303.55" y="114" width="16.2" height="16.2" fill="none" stroke="#222" stroke-width="0.9"/>
<rect x="295.45" y="130.2" width="8.1" height="8.1" fill="none" stroke="#222" stroke-width="0.9"/>
<rect x="254.95" y="138.3" width="40.5" height="40.5" fill="none" stroke="#222" stroke-width="0.9"/>
<rect x="194.2" y="178.8" width="60.75" height="60.75" fill="none" stroke="#222" stroke-width="0.9"/>
<rect x="129.4" y="239.55" width="64.8" height="64.8" fill="none" stroke="#222" stroke-width="0.9"/>
<rect x="113.2" y="304.35" width="16.2" height="16.2" fill="none" stroke="#222" stroke-width="0.9"/>
<rect x="97" y="320.55" width="16.2" height="16.2" fill="none" stroke="#222" stroke-width="0.9"/>
<rect x="283.3" y="138.3" width="12.15" height="12.15" fill="none" stroke="#111" stroke-width="0.8" stroke-dasharray="0.9,0.9"/>
<rect x="254.95" y="170.7" width="8.1" height="8.1" fill="none" stroke="#111" stroke-width="0.8" stroke-dasharray="0.9,0.9"/>
<rect x="238.75" y="182.85" width="12.15" height="12.15" fill="none" stroke="#111" stroke-width="0.8" stroke-dasharray="0.9,0.9"/>
<rect x="173.95" y="239.55" width="20.25" height="20.25" fill="none" stroke="#111" stroke-width="0.8" stroke-dasharray="0.9,0.9"/>
<defs><linearGradient id="hg" x1="0" x2="1" y1="0" y2="0">
<stop offset="0" stop-color="#ff0000"/>
<stop offset="0.05" stop-color="#ff1100"/>
<stop offset="0.1" stop-color="#ff2200"/>
<stop offset="0.15" stop-color="#ff3300"/>
<stop offset="0.2" stop-color="#ff4400"/>
<stop offset="0.25" stop-color="#ff5500"/>
<stop offset="0.3" stop-color="#ff6600"/>
<stop offset="0.35" stop-color="#ff7700"/>
<stop offset="0.4" stop-color="#ff8800"/>
<stop offset="0.45" stop-color="#ff9900"/>
<stop offset="0.5" stop-color="#ffaa00"/>
<stop offset="0.55" stop-color="#ffbb00"/>
<stop offset="0.6" stop-color="#ffcc00"/>
<stop offset="0.65" stop-color="#ffdd00"/>
<stop offset="0.7" stop-color="#ffee00"/>
<stop offset="0.75" stop-color="#ffff00"/>
<stop offset="0.8" stop-color="#ffff33"/>
<stop offset="0.85" stop-color="#ffff66"/>
<stop offset="0.9" stop-color="#ffff99"/>
<stop offset="0.95" stop-color="#ffffcc"/>
<stop offset="1" stop-color="#ffffff"/>
</linearGradient></defs>
<rect x="28" y="29.3" width="61.3" height="45" fill="url(#hg)" stroke="#555" stroke-width="0.5"/>
<line x1="28" y1="74.3" x2="28" y2="78.4" stroke="#333" stroke-width="0.6"/>
<line x1="38.22" y1="74.3" x2="38.22" y2="78.4" stroke="#333" stroke-width="0.6"/>
<line x1="48.43" y1="74.3" x2="48.43" y2="78.4" stroke="#333" stroke-width="0.6"/>
<line x1="58.65" y1="74.3" x2="58.65" y2="78.4" stroke="#333" stroke-width="0.6"/>
<line x1="68.87" y1="74.3" x2="68.87" y2="78.4" stroke="#333" stroke-width="0.6"/>
<line x1="79.08" y1="74.3" x2="79.08" y2="78.4" stroke="#333" stroke-width="0.6"/>
<line x1="89.3" y1="74.3" x2="89.3" y2="78.4" stroke="#333" stroke-width="0.6"/>
<text x="28" y="89" font-size="6.4" text-anchor="middle" fill="#222">0.7</text>
<text x="48.43" y="89" font-size="6.4" text-anchor="middle" fill="#222">0.8</text>
<text x="68.87" y="89" font-size="6.4" text-anchor="middle" fill="#222">0.9</text>
<text x="89.3" y="89" font-size="6.4" text-anchor="middle" fill="#222">1</text>
<path fill="none" stroke="#000" stroke-width="1" stroke-linecap="square" d="M103.05 110L103.05 93.7M107.1 110L107.1 93.7M103.05 93.7L107.1 93.7M105.07 93.7L105.07 87M111.15 110L111.15 87M105.07 87L111.15 87M99 110L99 76.6M108.11 87L108.11 76.6M99 76.6L108.11 76.6M121.28 88.8L121.28 86.6M127.35 110L127.35 86.6M121.28 86.6L127.35 86.6M115.2 110L115.2 81.5M124.31 86.6L124.31 81.5M115.2 81.5L124.31 81.5M103.56 76.6L103.56 61.7M119.76 81.5L119.76 61.7M103.56 61.7L119.76 61.7M135.45 110L135.45 99.7M139.5 110L139.5 99.7M135.45 99.7L139.5 99.7M137.47 99.7L137.47 81.8M143.55 110L143.55 81.8M137.47 81.8L143.55 81.8M167.85 110L167.85 95M171.9 110L171.9 95M167.85 95L171.9 95M175.95 110L175.95 96M180 110L180 96M175.95 96L180 96M188.1 110L188.1 101M192.15 110L192.15 101M188.1 101L192.15 101M184.05 110L184.05 95M190.12 101L190.12 95M184.05 95L190.12 95M177.97 96L177.97 90.9M187.09 95L187.09 90.9M177.97 90.9L187.09 90.9M140.51 81.8L140.51 74.4M160.38 78.3L160.38 74.4M140.51 74.4L160.38 74.4M216.45 110L216.45 99M220.5 110L220.5 99M216.45 99L220.5 99M212.4 110L212.4 90M218.47 99L218.47 90M212.4 90L218.47 90M224.55 110L224.55 97M228.6 110L228.6 97M224.55 97L228.6 97M226.57 97L226.57 92M232.65 110L232.65 92M226.57 92L232.65 92M236.7 110L236.7 101M240.75 110L240.75 101M236.7 101L240.75 101M248.85 110L248.85 100M252.9 110L252.9 100M248.85 100L252.9 100M244.8 110L244.8 95M250.88 100L250.88 95M244.8 95L250.88 95M238.72 101L238.72 91M247.84 95L247.84 91M238.72 91L247.84 91M229.61 92L229.61 87.5M243.28 91L243.28 87.5M229.61 87.5L243.28 87.5M256.95 110L256.95 83.6M261 110L261 83.6M256.95 83.6L261 83.6M277.2 110L277.2 101M281.25 110L281.25 101M277.2 101L281.25 101M273.15 110L273.15 92M279.23 101L279.23 92M273.15 92L279.23 92M289.35 110L289.35 98M293.4 110L293.4 98M289.35 98L293.4 98M285.3 110L285.3 90M291.38 98L291.38 90M285.3 90L291.38 90M276.19 92L276.19 83M288.34 90L288.34 83M276.19 83L288.34 83M258.98 83.6L258.98 65.7M274.67 74.5L274.67 65.7M258.98 65.7L274.67 65.7M297.45 110L297.45 92.3M301.5 110L301.5 92.3M297.45 92.3L301.5 92.3M221.38 60.8L221.38 52.4M299.48 92.3L299.48 52.4M221.38 52.4L299.48 52.4M111.66 61.7L111.66 42.4M260.43 52.4L260.43 42.4M111.66 42.4L260.43 42.4M305.55 110L305.55 40.3M314.66 85.7L314.66 40.3M305.55 40.3L314.66 40.3M186.04 42.4L186.04 17.4M310.11 40.3L310.11 17.4M186.04 17.4L310.11 17.4M93 330.65L76.7 330.65M93 326.6L76.7 326.6M76.7 330.65L76.7 326.6M76.7 328.62L70 328.62M93 322.55L70 322.55M70 328.62L70 322.55M93 334.7L59.6 334.7M70 325.59L59.6 325.59M59.6 334.7L59.6 325.59M71.8 312.42L69.6 312.42M93 306.35L69.6 306.35M69.6 312.42L69.6 306.35M93 318.5L64.5 318.5M69.6 309.39L64.5 309.39M64.5 318.5L64.5 309.39M59.6 330.14L44.7 330.14M64.5 313.94L44.7 313.94M44.7 330.14L44.7 313.94M93 298.25L82.7 298.25M93 294.2L82.7 294.2M82.7 298.25L82.7 294.2M82.7 296.23L64.8 296.23M93 290.15L64.8 290.15M64.8 296.23L64.8 290.15M93 265.85L78 265.85M93 261.8L78 261.8M78 265.85L78 261.8M93 257.75L79 257.75M93 253.7L79 253.7M79 257.75L79 253.7M93 245.6L84 245.6M93 241.55L84 241.55M84 245.6L84 241.55M93 249.65L78 249.65M84 243.57L78 243.57M78 249.65L78 243.57M79 255.72L73.9 255.72M78 246.61L73.9 246.61M73.9 255.72L73.9 246.61M64.8 293.19L57.4 293.19M61.3 273.32L57.4 273.32M57.4 293.19L57.4 273.32M93 217.25L82 217.25M93 213.2L82 213.2M82 217.25L82 213.2M93 221.3L73 221.3M82 215.22L73 215.22M73 221.3L73 215.22M93 209.15L80 209.15M93 205.1L80 205.1M80 209.15L80 205.1M80 207.12L75 207.12M93 201.05L75 201.05M75 207.12L75 201.05M93 197L84 197M93 192.95L84 192.95M84 197L84 192.95M93 184.85L83 184.85M93 180.8L83 180.8M83 184.85L83 180.8M93 188.9L78 188.9M83 182.82L78 182.82M78 188.9L78 182.82M84 194.97L74 194.97M78 185.86L74 185.86M74 194.97L74 185.86M75 204.09L70.5 204.09M74 190.42L70.5 190.42M70.5 204.09L70.5 190.42M93 176.75L66.6 176.75M93 172.7L66.6 172.7M66.6 176.75L66.6 172.7M93 156.5L84 156.5M93 152.45L84 152.45M84 156.5L84 152.45M93 160.55L75 160.55M84 154.47L75 154.47M75 160.55L75 154.47M93 144.35L81 144.35M93 140.3L81 140.3M81 144.35L81 140.3M93 148.4L73 148.4M81 142.32L73 142.32M73 148.4L73 142.32M75 157.51L66 157.51M73 145.36L66 145.36M66 157.51L66 145.36M66.6 174.72L48.7 174.72M57.5 159.03L48.7 159.03M48.7 174.72L48.7 159.03M93 136.25L75.3 136.25M93 132.2L75.3 132.2M75.3 136.25L75.3 132.2M43.8 212.32L35.4 212.32M75.3 134.22L35.4 134.22M35.4 212.32L35.4 134.22M44.7 322.04L25.4 322.04M35.4 173.27L25.4 173.27M25.4 322.04L25.4 173.27M93 128.15L23.3 128.15M68.7 119.04L23.3 119.04M23.3 128.15L23.3 119.04M25.4 247.66L0.4 247.66M23.3 123.59L0.4 123.59M0.4 247.66L0.4 123.59"/>
<path fill="none" stroke="#8a1c1c" stroke-width="1" stroke-linecap="square" d="M119.25 110L119.25 88.8M123.3 110L123.3 88.8M119.25 88.8L123.3 88.8M151.65 110L151.65 98M155.7 110L155.7 98M151.65 98L155.7 98M159.75 110L159.75 96M163.8 110L163.8 96M159.75 96L163.8 96M153.68 98L153.68 91.4M161.78 96L161.78 91.4M153.68 91.4L161.78 91.4M157.73 91.4L157.73 87M169.88 95L169.88 87M157.73 87L169.88 87M163.8 87L163.8 84.4M182.53 90.9L182.53 84.4M163.8 84.4L182.53 84.4M147.6 110L147.6 78.3M173.17 84.4L173.17 78.3M147.6 78.3L173.17 78.3M131.4 110L131.4 71.3M150.45 74.4L150.45 71.3M131.4 71.3L150.45 71.3M196.2 110L196.2 82.3M200.25 110L200.25 82.3M196.2 82.3L200.25 82.3M204.3 110L204.3 93M208.35 110L208.35 93M204.3 93L208.35 93M206.32 93L206.32 86M215.44 90L215.44 86M206.32 86L215.44 86M210.88 86L210.88 76.2M236.45 87.5L236.45 76.2M210.88 76.2L236.45 76.2M140.92 71.3L140.92 65.7M210.94 67.4L210.94 65.7M140.92 65.7L210.94 65.7M309.6 110L309.6 90.2M313.65 110L313.65 90.2M309.6 90.2L313.65 90.2M311.62 90.2L311.62 85.7M317.7 110L317.7 85.7M311.62 85.7L317.7 85.7M93 314.45L71.8 314.45M93 310.4L71.8 310.4M71.8 314.45L71.8 310.4M93 282.05L81 282.05M93 278L81 278M81 282.05L81 278M93 273.95L79 273.95M93 269.9L79 269.9M79 273.95L79 269.9M81 280.02L74.4 280.02M79 271.92L74.4 271.92M74.4 280.02L74.4 271.92M74.4 275.97L70 275.97M78 263.82L70 263.82M70 275.97L70 263.82M70 269.9L67.4 269.9M73.9 251.17L67.4 251.17M67.4 269.9L67.4 251.17M93 286.1L61.3 286.1M67.4 260.53L61.3 260.53M61.3 286.1L61.3 260.53M93 302.3L54.3 302.3M57.4 283.25L54.3 283.25M54.3 302.3L54.3 283.25M93 237.5L65.3 237.5M93 233.45L65.3 233.45M65.3 237.5L65.3 233.45M93 229.4L76 229.4M93 225.35L76 225.35M76 229.4L76 225.35M76 227.38L69 227.38M73 218.26L69 218.26M69 227.38L69 218.26M69 222.82L59.2 222.82M70.5 197.25L59.2 197.25M59.2 222.82L59.2 197.25M54.3 292.78L48.7 292.78M50.4 222.76L48.7 222.76M48.7 292.78L48.7 222.76M93 124.1L73.2 124.1M93 120.05L73.2 120.05M73.2 124.1L73.2 120.05M73.2 122.08L68.7 122.08M93 116L68.7 116M68.7 122.08L68.7 116"/>
<path fill="none" stroke="#b86a6a" stroke-width="1" stroke-linecap="square" d="M198.22 82.3L198.22 67.4M223.66 76.2L223.66 67.4M198.22 67.4L223.66 67.4M265.05 110L265.05 76.2M269.1 110L269.1 76.2M265.05 76.2L269.1 76.2M267.07 76.2L267.07 74.5M282.26 83L282.26 74.5M267.07 74.5L282.26 74.5M175.93 65.7L175.93 60.8M266.82 65.7L266.82 60.8M175.93 60.8L266.82 60.8M65.3 235.47L50.4 235.47M59.2 210.04L50.4 210.04M50.4 235.47L50.4 210.04M93 168.65L59.2 168.65M93 164.6L59.2 164.6M59.2 168.65L59.2 164.6M59.2 166.62L57.5 166.62M66 151.44L57.5 151.44M57.5 166.62L57.5 151.44M48.7 257.77L43.8 257.77M48.7 166.88L43.8 166.88M43.8 257.77L43.8 166.88"/>
<rect x="98" y="109.6" width="2" height="2" fill="#ff0000"/>
<rect x="92.6" y="333.7" width="2" height="2" fill="#ff0000"/>
<rect x="102.05" y="109.6" width="2" height="2" fill="#ff1a00"/>
<rect x="92.6" y="329.65" width="2" height="2" fill="#ff1a00"/>
<rect x="106.1" y="109.6" width="2" height="2" fill="#ff3500"/>
<rect x="92.6" y="325.6" width="2" height="2" fill="#ff3500"/>
<rect x="110.15" y="109.6" width="2" height="2" fill="#ff5000"/>
<rect x="92.6" y="321.55" width="2" height="2" fill="#ff5000"/>
<rect x="114.2" y="109.6" width="2" height="2" fill="#ff6b00"/>
<rect x="92.6" y="317.5" width="2" height="2" fill="#ff6b00"/>
<rect x="118.25" y="109.6" width="2" height="2" fill="#ff8600"/>
<rect x="92.6" y="313.45" width="2" height="2" fill="#ff8600"/>
<rect x="122.3" y="109.6" width="2" height="2" fill="#ffa100"/>
<rect x="92.6" y="309.4" width="2" height="2" fill="#ffa100"/>
<rect x="126.35" y="109.6" width="2" height="2" fill="#ffbc00"/>
<rect x="92.6" y="305.35" width="2" height="2" fill="#ffbc00"/>
<rect x="130.4" y="109.6" width="2" height="2" fill="#ffd700"/>
<rect x="92.6" y="301.3" width="2" height="2" fill="#ffd700"/>
<rect x="134.45" y="109.6" width="2" height="2" fill="#fff200"/>
<rect x="92.6" y="297.25" width="2" height="2" fill="#fff200"/>
<rect x="138.5" y="109.6" width="2" height="2" fill="#f0ff00"/>
<rect x="92.6" y="293.2" width="2" height="2" fill="#f0ff00"/>
<rect x="142.55" y="109.6" width="2" height="2" fill="#d5ff00"/>
<rect x="92.6" y="289.15" width="2" height="2" fill="#d5ff00"/>
<rect x="146.6" y="109.6" width="2" height="2" fill="#baff00"/>
<rect x="92.6" y="285.1" width="2" height="2" fill="#baff00"/>
<rect x="150.65" y="109.6" width="2" height="2" fill="#9fff00"/>
<rect x="92.6" y="281.05" width="2" height="2" fill="#9fff00"/>
<rect x="154.7" y="109.6" width="2" height="2" fill="#84ff00"/>
<rect x="92.6" y="277" width="2" height="2" fill="#84ff00"/>
<rect x="158.75" y="109.6" width="2" height="2" fill="#69ff00"/>
<rect x="92.6" y="272.95" width="2" height="2" fill="#69ff00"/>
<rect x="162.8" y="109.6" width="2" height="2" fill="#4eff00"/>
<rect x="92.6" y="268.9" width="2" height="2" fill="#4eff00"/>
<rect x="166.85" y="109.6" width="2" height="2" fill="#33ff00"/>
<rect x="92.6" y="264.85" width="2" height="2" fill="#33ff00"/>
<rect x="170.9" y="109.6" width="2" height="2" fill="#18ff00"/>
<rect x="92.6" y="260.8" width="2" height="2" fill="#18ff00"/>
<rect x="174.95" y="109.6" width="2" height="2" fill="#00ff02"/>
<rect x="92.6" y="256.75" width="2" height="2" fill="#00ff02"/>
<rect x="179" y="109.6" width="2" height="2" fill="#00ff1d"/>
<rect x="92.6" y="252.7" width="2" height="2" fill="#00ff1d"/>
<rect x="183.05" y="109.6" width="2" height="2" fill="#00ff38"/>
<rect x="92.6" y="248.65" width="2" height="2" fill="#00ff38"/>
<rect x="187.1" y="109.6" width="2" height="2" fill="#00ff53"/>
<rect x="92.6" y="244.6" width="2" height="2" fill="#00ff53"/>
<rect x="191.15" y="109.6" width="2" height="2" fill="#00ff6e"/>
<rect x="92.6" y="240.55" width="2" height="2" fill="#00ff6e"/>
<rect x="195.2" y="109.6" width="2" height="2" fill="#00ff89"/>
<rect x="92.6" y="236.5" width="2" height="2" fill="#00ff89"/>
<rect x="199.25" y="109.6" width="2" height="2" fill="#00ffa4"/>
<rect x="92.6" y="232.45" width="2" height="2" fill="#00ffa4"/>
<rect x="203.3" y="109.6" width="2" height="2" fill="#00ffbf"/>
<rect x="92.6" y="228.4" width="2" height="2" fill="#00ffbf"/>
<rect x="207.35" y="109.6" width="2" height="2" fill="#00ffda"/>
<rect x="92.6" y="224.35" width="2" height="2" fill="#00ffda"/>
<rect x="211.4" y="109.6" width="2" height="2" fill="#00fff5"/>
<rect x="92.6" y="220.3" width="2" height="2" fill="#00fff5"/>
<rect x="215.45" y="109.6" width="2" height="2" fill="#00edff"/>
<rect x="92.6" y="216.25" width="2" height="2" fill="#00edff"/>
<rect x="219.5" y="109.6" width="2" height="2" fill="#00d2ff"/>
<rect x="92.6" y="212.2" width="2" height="2" fill="#00d2ff"/>
<rect x="223.55" y="109.6" width="2" height="2" fill="#00b7ff"/>
<rect x="92.6" y="208.15" width="2" height="2" fill="#00b7ff"/>
<rect x="227.6" y="109.6" width="2" height="2" fill="#009cff"/>
<rect x="92.6" y="204.1" width="2" height="2" fill="#009cff"/>
<rect x="231.65" y="109.6" width="2" height="2" fill="#0081ff"/>
<rect x="92.6" y="200.05" width="2" height="2" fill="#0081ff"/>
<rect x="235.7" y="109.6" width="2" height="2" fill="#0066ff"/>
<rect x="92.6" y="196" width="2" height="2" fill="#0066ff"/>
<rect x="239.75" y="109.6" width="2" height="2" fill="#004bff"/>
<rect x="92.6" y="191.95" width="2" height="2" fill="#004bff"/>
<rect x="243.8" y="109.6" width="2" height="2" fill="#0030ff"/>
<rect x="92.6" y="187.9" width="2" height="2" fill="#0030ff"/>
<rect x="247.85" y="109.6" width="2" height="2" fill="#0015ff"/>
<rect x="92.6" y="183.85" width="2" height="2" fill="#0015ff"/>
<rect x="251.9" y="109.6" width="2" height="2" fill="#0500ff"/>
<rect x="92.6" y="179.8" width="2" height="2" fill="#0500ff"/>
<rect x="255.95" y="109.6" width="2" height="2" fill="#2000ff"/>
<rect x="92.6" y="175.75" width="2" height="2" fill="#2000ff"/>
<rect x="260" y="109.6" width="2" height="2" fill="#3b00ff"/>
<rect x="92.6" y="171.7" width="2" height="2" fill="#3b00ff"/>
<rect x="264.05" y="109.6" width="2" height="2" fill="#5600ff"/>
<rect x="92.6" y="167.65" width="2" height="2" fill="#5600ff"/>
<rect x="268.1" y="109.6" width="2" height="2" fill="#7100ff"/>
<rect x="92.6" y="163.6" width="2" height="2" fill="#7100ff"/>
<rect x="272.15" y="109.6" width="2" height="2" fill="#8c00ff"/>
<rect x="92.6" y="159.55" width="2" height="2" fill="#8c00ff"/>
<rect x="276.2" y="109.6" width="2" height="2" fill="#a700ff"/>
<rect x="92.6" y="155.5" width="2" height="2" fill="#a700ff"/>
<rect x="280.25" y="109.6" width="2" height="2" fill="#c200ff"/>
<rect x="92.6" y="151.45" width="2" height="2" fill="#c200ff"/>
<rect x="284.3" y="109.6" width="2" height="2" fill="#dd00ff"/>
<rect x="92.6" y="147.4" width="2" height="2" fill="#dd00ff"/>
<rect x="288.35" y="109.6" width="2" height="2" fill="#f800ff"/>
<rect x="92.6" y="143.35" width="2" height="2" fill="#f800ff"/>
<rect x="292.4" y="109.6" width="2" height="2" fill="#ff00ea"/>
<rect x="92.6" y="139.3" width="2" height="2" fill="#ff00ea"/>
<rect x="296.45" y="109.6" width="2" height="2" fill="#ff00cf"/>
<rect x="92.6" y="135.25" width="2" height="2" fill="#ff00cf"/>
<rect x="300.5" y="109.6" width="2" height="2" fill="#ff00b4"/>
<rect x="92.6" y="131.2" width="2" height="2" fill="#ff00b4"/>
<rect x="304.55" y="109.6" width="2" height="2" fill="#ff0099"/>
<rect x="92.6" y="127.15" width="2" height="2" fill="#ff0099"/>
<rect x="308.6" y="109.6" width="2" height="2" fill="#ff007e"/>
<rect x="92.6" y="123.1" width="2" height="2" fill="#ff007e"/>
<rect x="312.65" y="109.6" width="2" height="2" fill="#ff0063"/>
<rect x="92.6" y="119.05" width="2" height="2" fill="#ff0063"/>
<rect x="316.7" y="109.6" width="2" height="2" fill="#ff0048"/>
<rect x="92.6" y="115" width="2" height="2" fill="#ff0048"/>
<text x="324.9" y="117.5" font-size="4.1" font-weight="bold" fill="#222">364_DG</text>
<text x="324.9" y="121.55" font-size="4.1" font-weight="bold" fill="#222">363_DG</text>
<text x="324.9" y="125.6" font-size="4.1" font-weight="bold" fill="#222">362_DG</text>
<text x="324.9" y="129.65" font-size="4.1" font-weight="bold" fill="#222">361_DG</text>
<text x="324.9" y="133.7" font-size="4.1" font-weight="bold" fill="#222">360_CA2-IG-FC</text>
<text x="324.9" y="137.75" font-size="4.1" font-weight="bold" fill="#222">359_CA2-IG-FC</text>
<text x="324.9" y="141.8" font-size="4.1" font-weight="bold" fill="#222">358_CA3-dia</text>
<text x="324.9" y="145.85" font-size="4.1" font-weight="bold" fill="#222">357_CA3-dia</text>
<text x="324.9" y="149.9" font-size="4.1" font-weight="bold" fill="#222">356_CA3-dia</text>
<text x="324.9" y="153.95" font-size="4.1" font-weight="bold" fill="#222">352_CA3-ve</text>
<text x="324.9" y="158" font-size="4.1" font-weight="bold" fill="#222">351_CA3-ve</text>
<text x="324.9" y="162.05" font-size="4.1" font-weight="bold" fill="#222">355_CA3-ve</text>
<text x="324.9" y="166.1" font-size="4.1" font-weight="bold" fill="#222">354_CA3-ve</text>
<text x="324.9" y="170.15" font-size="4.1" font-weight="bold" fill="#222">353_CA3-ve</text>
<text x="324.9" y="174.2" font-size="4.1" font-weight="bold" fill="#222">350_Mossy</text>
<text x="324.9" y="178.25" font-size="4.1" font-weight="bold" fill="#222">349_Mossy</text>
<text x="324.9" y="182.3" font-size="4.1" font-weight="bold" fill="#222">343_CA1</text>
<text x="324.9" y="186.35" font-size="4.1" font-weight="bold" fill="#222">346_CA1-do</text>
<text x="324.9" y="190.4" font-size="4.1" font-weight="bold" fill="#222">347_CA1-do</text>
<text x="324.9" y="194.45" font-size="4.1" font-weight="bold" fill="#222">348_CA1-do</text>
<text x="324.9" y="198.5" font-size="4.1" font-weight="bold" fill="#222">344_CA1</text>
<text x="324.9" y="202.55" font-size="4.1" font-weight="bold" fill="#222">339_CA1</text>
<text x="324.9" y="206.6" font-size="4.1" font-weight="bold" fill="#222">340_CA1</text>
<text x="324.9" y="210.65" font-size="4.1" font-weight="bold" fill="#222">338_CA1</text>
<text x="324.9" y="214.7" font-size="4.1" font-weight="bold" fill="#222">337_CA1</text>
<text x="324.9" y="218.75" font-size="4.1" font-weight="bold" fill="#222">345_CA1</text>
<text x="324.9" y="222.8" font-size="4.1" font-weight="bold" fill="#222">342_CA1</text>
<text x="324.9" y="226.85" font-size="4.1" font-weight="bold" fill="#222">336_CA1-ve</text>
<text x="324.9" y="230.9" font-size="4.1" font-weight="bold" fill="#222">341_CA1</text>
<text x="324.9" y="234.95" font-size="4.1" font-weight="bold" fill="#222">335_CA1-ve</text>
<text x="324.9" y="239" font-size="4.1" font-weight="bold" fill="#222">334_CA1-ve</text>
<text x="324.9" y="243.05" font-size="4.1" font-weight="bold" fill="#222">333_CA1-ProS</text>
<text x="324.9" y="247.1" font-size="4.1" font-weight="bold" fill="#222">332_CA1-ProS</text>
<text x="324.9" y="251.15" font-size="4.1" font-weight="bold" fill="#222">331_CA1-ProS</text>
<text x="324.9" y="255.2" font-size="4.1" font-weight="bold" fill="#222">330_CA1-ProS</text>
<text x="324.9" y="259.25" font-size="4.1" font-weight="bold" fill="#222">329_CA1-ProS</text>
<text x="324.9" y="263.3" font-size="4.1" font-weight="bold" fill="#222">328_ProS</text>
<text x="324.9" y="267.35" font-size="4.1" font-weight="bold" fill="#222">326_ProS</text>
<text x="324.9" y="271.4" font-size="4.1" font-weight="bold" fill="#222">323_ProS</text>
<text x="324.9" y="275.45" font-size="4.1" font-weight="bold" fill="#222">327_ProS</text>
<text x="324.9" y="279.5" font-size="4.1" font-weight="bold" fill="#222">324_ProS</text>
<text x="324.9" y="283.55" font-size="4.1" font-weight="bold" fill="#222">321_SUB</text>
<text x="324.9" y="287.6" font-size="4.1" font-weight="bold" fill="#222">325_ProS</text>
<text x="324.9" y="291.65" font-size="4.1" font-weight="bold" fill="#222">320_SUB</text>
<text x="324.9" y="295.7" font-size="4.1" font-weight="bold" fill="#222">319_SUB</text>
<text x="324.9" y="299.75" font-size="4.1" font-weight="bold" fill="#222">318_SUB</text>
<text x="324.9" y="303.8" font-size="4.1" font-weight="bold" fill="#222">322_ProS</text>
<text x="324.9" y="307.85" font-size="4.1" font-weight="bold" fill="#222">297_CT SUB</text>
<text x="324.9" y="311.9" font-size="4.1" font-weight="bold" fill="#222">296_CT SUB</text>
<text x="324.9" y="315.95" font-size="4.1" font-weight="bold" fill="#222">295_CT SUB</text>
<text x="324.9" y="320" font-size="4.1" font-weight="bold" fill="#222">294_CT SUB</text>
<text x="324.9" y="324.05" font-size="4.1" font-weight="bold" fill="#222">274_NP SUB</text>
<text x="324.9" y="328.1" font-size="4.1" font-weight="bold" fill="#222">273_NP SUB</text>
<text x="324.9" y="332.15" font-size="4.1" font-weight="bold" fill="#222">272_NP SUB</text>
<text x="324.9" y="336.2" font-size="4.1" font-weight="bold" fill="#222">271_NP SUB</text>
<text transform="translate(100.4,341.6) rotate(-90)" font-size="4.1" font-weight="bold" fill="#222" text-anchor="end">271_NP SUB</text>
<text transform="translate(104.45,341.6) rotate(-90)" font-size="4.1" font-weight="bold" fill="#222" text-anchor="end">272_NP SUB</text>
<text transform="translate(108.5,341.6) rotate(-90)" font-size="4.1" font-weight="bold" fill="#222" text-anchor="end">273_NP SUB</text>
<text transform="translate(112.55,341.6) rotate(-90)" font-size="4.1" font-weight="bold" fill="#222" text-anchor="end">274_NP SUB</text>
<text transform="translate(116.6,341.6) rotate(-90)" font-size="4.1" font-weight="bold" fill="#222" text-anchor="end">294_CT SUB</text>
<text transform="translate(120.65,341.6) rotate(-90)" font-size="4.1" font-weight="bold" fill="#222" text-anchor="end">295_CT SUB</text>
<text transform="translate(124.7,341.6) rotate(-90)" font-size="4.1" font-weight="bold" fill="#222" text-anchor="end">296_CT SUB</text>
<text transform="translate(128.75,341.6) rotate(-90)" font-size="4.1" font-weight="bold" fill="#222" text-anchor="end">297_CT SUB</text>
<text transform="translate(132.8,341.6) rotate(-90)" font-size="4.1" font-weight="bold" fill="#222" text-anchor="end">322_ProS</text>
<text transform="translate(136.85,341.6) rotate(-90)" font-size="4.1" font-weight="bold" fill="#222" text-anchor="end">318_SUB</text>
<text transform="translate(140.9,341.6) rotate(-90)" font-size="4.1" font-weight="bold" fill="#222" text-anchor="end">319_SUB</text>
<text transform="translate(144.95,341.6) rotate(-90)" font-size="4.1" font-weight="bold" fill="#222" text-anchor="end">320_SUB</text>
<text transform="translate(149,341.6) rotate(-90)" font-size="4.1" font-weight="bold" fill="#222" text-anchor="end">325_ProS</text>
<text transform="translate(153.05,341.6) rotate(-90)" font-size="4.1" font-weight="bold" fill="#222" text-anchor="end">321_SUB</text>
<text transform="translate(157.1,341.6) rotate(-90)" font-size="4.1" font-weight="bold" fill="#222" text-anchor="end">324_ProS</text>
<text transform="translate(161.15,341.6) rotate(-90)" font-size="4.1" font-weight="bold" fill="#222" text-anchor="end">327_ProS</text>
<text transform="translate(165.2,341.6) rotate(-90)" font-size="4.1" font-weight="bold" fill="#222" text-anchor="end">323_ProS</text>
<text transform="translate(169.25,341.6) rotate(-90)" font-size="4.1" font-weight="bold" fill="#222" text-anchor="end">326_ProS</text>
<text transform="translate(173.3,341.6) rotate(-90)" font-size="4.1" font-weight="bold" fill="#222" text-anchor="end">328_ProS</text>
<text transform="translate(177.35,341.6) rotate(-90)" font-size="4.1" font-weight="bold" fill="#222" text-anchor="end">329_CA1-ProS</text>
<text transform="translate(181.4,341.6) rotate(-90)" font-size="4.1" font-weight="bold" fill="#222" text-anchor="end">330_CA1-ProS</text>
<text transform="translate(185.45,341.6) rotate(-90)" font-size="4.1" font-weight="bold" fill="#222" text-anchor="end">331_CA1-ProS</text>
<text transform="translate(189.5,341.6) rotate(-90)" font-size="4.1" font-weight="bold" fill="#222" text-anchor="end">332_CA1-ProS</text>
<text transform="translate(193.55,341.6) rotate(-90)" font-size="4.1" font-weight="bold" fill="#222" text-anchor="end">333_CA1-ProS</text>
<text transform="translate(197.6,341.6) rotate(-90)" font-size="4.1" font-weight="bold" fill="#222" text-anchor="end">334_CA1-ve</text>
<text transform="translate(201.65,341.6) rotate(-90)" font-size="4.1" font-weight="bold" fill="#222" text-anchor="end">335_CA1-ve</text>
<text transform="translate(205.7,341.6) rotate(-90)" font-size="4.1" font-weight="bold" fill="#222" text-anchor="end">341_CA1</text>
<text transform="translate(209.75,341.6) rotate(-90)" font-size="4.1" font-weight="bold" fill="#222" text-anchor="end">336_CA1-ve</text>
<text transform="translate(213.8,341.6) rotate(-90)" font-size="4.1" font-weight="bold" fill="#222" text-anchor="end">342_CA1</text>
<text transform="translate(217.85,341.6) rotate(-90)" font-size="4.1" font-weight="bold" fill="#222" text-anchor="end">345_CA1</text>
<text transform="translate(221.9,341.6) rotate(-90)" font-size="4.1" font-weight="bold" fill="#222" text-anchor="end">337_CA1</text>
<text transform="translate(225.95,341.6) rotate(-90)" font-size="4.1" font-weight="bold" fill="#222" text-anchor="end">338_CA1</text>
<text transform="translate(230,341.6) rotate(-90)" font-size="4.1" font-weight="bold" fill="#222" text-anchor="end">340_CA1</text>
<text transform="translate(234.05,341.6) rotate(-90)" font-size="4.1" font-weight="bold" fill="#222" text-anchor="end">339_CA1</text>
<text transform="translate(238.1,341.6) rotate(-90)" font-size="4.1" font-weight="bold" fill="#222" text-anchor="end">344_CA1</text>
<text transform="translate(242.15,341.6) rotate(-90)" font-size="4.1" font-weight="bold" fill="#222" text-anchor="end">348_CA1-do</text>
<text transform="translate(246.2,341.6) rotate(-90)" font-size="4.1" font-weight="bold" fill="#222" text-anchor="end">347_CA1-do</text>
<text transform="translate(250.25,341.6) rotate(-90)" font-size="4.1" font-weight="bold" fill="#222" text-anchor="end">346_CA1-do</text>
<text transform="translate(254.3,341.6) rotate(-90)" font-size="4.1" font-weight="bold" fill="#222" text-anchor="end">343_CA1</text>
<text transform="translate(258.35,341.6) rotate(-90)" font-size="4.1" font-weight="bold" fill="#222" text-anchor="end">349_Mossy</text>
<text transform="translate(262.4,341.6) rotate(-90)" font-size="4.1" font-weight="bold" fill="#222" text-anchor="end">350_Mossy</text>
<text transform="translate(266.45,341.6) rotate(-90)" font-size="4.1" font-weight="bold" fill="#222" text-anchor="end">353_CA3-ve</text>
<text transform="translate(270.5,341.6) rotate(-90)" font-size="4.1" font-weight="bold" fill="#222" text-anchor="end">354_CA3-ve</text>
<text transform="translate(274.55,341.6) rotate(-90)" font-size="4.1" font-weight="bold" fill="#222" text-anchor="end">355_CA3-ve</text>
<text transform="translate(278.6,341.6) rotate(-90)" font-size="4.1" font-weight="bold" fill="#222" text-anchor="end">351_CA3-ve</text>
<text transform="translate(282.65,341.6) rotate(-90)" font-size="4.1" font-weight="bold" fill="#222" text-anchor="end">352_CA3-ve</text>
<text transform="translate(286.7,341.6) rotate(-90)" font-size="4.1" font-weight="bold" fill="#222" text-anchor="end">356_CA3-dia</text>
<text transform="translate(290.75,341.6) rotate(-90)" font-size="4.1" font-weight="bold" fill="#222" text-anchor="end">357_CA3-dia</text>
<text transform="translate(294.8,341.6) rotate(-90)" font-size="4.1" font-weight="bold" fill="#222" text-anchor="end">358_CA3-dia</text>
<text transform="translate(298.85,341.6) rotate(-90)" font-size="4.1" font-weight="bold" fill="#222" text-anchor="end">359_CA2-IG-FC</text>
<text transform="translate(302.9,341.6) rotate(-90)" font-size="4.1" font-weight="bold" fill="#222" text-anchor="end">360_CA2-IG-FC</text>
<text transform="translate(306.95,341.6) rotate(-90)" font-size="4.1" font-weight="bold" fill="#222" text-anchor="end">361_DG</text>
<text transform="translate(311,341.6) rotate(-90)" font-size="4.1" font-weight="bold" fill="#222" text-anchor="end">362_DG</text>
<text transform="translate(315.05,341.6) rotate(-90)" font-size="4.1" font-weight="bold" fill="#222" text-anchor="end">363_DG</text>
<text transform="translate(319.1,341.6) rotate(-90)" font-size="4.1" font-weight="bold" fill="#222" text-anchor="end">364_DG</text>
<text x="354.7" y="110" font-size="9.6" font-weight="bold" fill="#111" textLength="32.6" lengthAdjust="spacingAndGlyphs">CLASS</text>
<rect x="357.1" y="114.4" width="1.7" height="15.4" fill="#4cee4c"/>
<text x="359.9" y="124.7" font-size="7.2" font-weight="bold" fill="#111" textLength="11.4" lengthAdjust="spacingAndGlyphs">DG</text>
<rect x="357.1" y="130.6" width="1.7" height="7.3" fill="#4cee4c"/>
<text x="359.9" y="136.85" font-size="7.2" font-weight="bold" fill="#111" textLength="15.5" lengthAdjust="spacingAndGlyphs">CA2</text>
<rect x="357.1" y="138.7" width="1.7" height="39.7" fill="#4cee4c"/>
<text x="359.9" y="161.15" font-size="7.2" font-weight="bold" fill="#111" textLength="15.5" lengthAdjust="spacingAndGlyphs">CA3</text>
<rect x="357.1" y="179.2" width="1.7" height="59.95" fill="#4cee4c"/>
<text x="359.9" y="211.78" font-size="7.2" font-weight="bold" fill="#111" textLength="14.9" lengthAdjust="spacingAndGlyphs">CA1</text>
<rect x="357.1" y="239.95" width="1.7" height="19.45" fill="#4f9f4f"/>
<text x="359.9" y="252.28" font-size="7.2" font-weight="bold" fill="#111" textLength="38.1" lengthAdjust="spacingAndGlyphs">CA1-ProS</text>
<rect x="357.1" y="260.2" width="1.7" height="43.75" fill="#4f9f4f"/>
<text x="359.9" y="284.68" font-size="7.2" font-weight="bold" fill="#111" textLength="39.4" lengthAdjust="spacingAndGlyphs">SUB-ProS</text>
<rect x="357.1" y="304.75" width="1.7" height="15.4" fill="#4f9f4f"/>
<text x="359.9" y="315.05" font-size="7.2" font-weight="bold" fill="#111" textLength="28.9" lengthAdjust="spacingAndGlyphs">CT SUB</text>
<rect x="357.1" y="320.95" width="1.7" height="15.4" fill="#4f9f4f"/>
<text x="359.9" y="331.25" font-size="7.2" font-weight="bold" fill="#111" textLength="29.9" lengthAdjust="spacingAndGlyphs">NP SUB</text>
<rect x="336.8" y="352.4" width="5.2" height="5.2" fill="#33ee33"/>
<rect x="336.8" y="362.2" width="5.2" height="5.2" fill="#0f6a1f"/>
<text x="343.4" y="361.3" font-size="7.4" font-weight="bold" fill="#111" textLength="54.6" lengthAdjust="spacingAndGlyphs">Hippocampus</text>
<text x="343.4" y="370.8" font-size="7.4" font-weight="bold" fill="#111" textLength="29.3" lengthAdjust="spacingAndGlyphs">PPP-SP</text>
<text x="1.2" y="7.2" font-size="11.8" font-weight="bold" fill="#000">a</text>
<path d="M563.3 80A31.4 31.4 0 0 1 563.3 142.8L563.3 127.2A15.8 15.8 0 0 0 563.3 95.6Z" fill="#f31e02" stroke="#fff" stroke-width="0.7"/>
<path d="M563.3 142.8A31.4 31.4 0 0 1 547.6 84.21L555.4 97.72A15.8 15.8 0 0 0 563.3 127.2Z" fill="#8a94c8" stroke="#fff" stroke-width="0.7"/>
<path d="M547.6 84.21A31.4 31.4 0 0 1 555.7 80.93L559.48 96.07A15.8 15.8 0 0 0 555.4 97.72Z" fill="#cccccc" stroke="#fff" stroke-width="0.7"/>
<path d="M555.7 80.93A31.4 31.4 0 0 1 558.39 80.39L560.83 95.79A15.8 15.8 0 0 0 559.48 96.07Z" fill="#777777" stroke="#fff" stroke-width="0.7"/>
<path d="M558.39 80.39A31.4 31.4 0 0 1 563.03 80L563.16 95.6A15.8 15.8 0 0 0 560.83 95.79Z" fill="#cccccc" stroke="#fff" stroke-width="0.7"/>
<path d="M563.3 64.3A47.1 47.1 0 0 1 602.58 85.4L589.48 94.07A31.4 31.4 0 0 0 563.3 80Z" fill="#bb4459" stroke="#fff" stroke-width="0.7"/>
<path d="M602.58 85.4A47.1 47.1 0 0 1 610.14 106.48L594.53 108.12A31.4 31.4 0 0 0 589.48 94.07Z" fill="#777777" stroke="#fff" stroke-width="0.7"/>
<path d="M610.14 106.48A47.1 47.1 0 0 1 608.22 125.56L593.25 120.84A31.4 31.4 0 0 0 594.53 108.12Z" fill="#cccccc" stroke="#fff" stroke-width="0.7"/>
<path d="M608.22 125.56A47.1 47.1 0 0 1 600.67 140.07L588.21 130.52A31.4 31.4 0 0 0 593.25 120.84Z" fill="#dd2a24" stroke="#fff" stroke-width="0.7"/>
<path d="M600.67 140.07A47.1 47.1 0 0 1 593.58 147.48L583.48 135.45A31.4 31.4 0 0 0 588.21 130.52Z" fill="#cccccc" stroke="#fff" stroke-width="0.7"/>
<path d="M593.58 147.48A47.1 47.1 0 0 1 587.56 151.77L579.47 138.32A31.4 31.4 0 0 0 583.48 135.45Z" fill="#777777" stroke="#fff" stroke-width="0.7"/>
<path d="M587.56 151.77A47.1 47.1 0 0 1 582.46 154.43L576.07 140.09A31.4 31.4 0 0 0 579.47 138.32Z" fill="#cccccc" stroke="#fff" stroke-width="0.7"/>
<path d="M582.46 154.43A47.1 47.1 0 0 1 577.85 156.19L573 141.26A31.4 31.4 0 0 0 576.07 140.09Z" fill="#cccccc" stroke="#fff" stroke-width="0.7"/>
<path d="M577.85 156.19A47.1 47.1 0 0 1 572.29 157.63L569.29 142.22A31.4 31.4 0 0 0 573 141.26Z" fill="#cccccc" stroke="#fff" stroke-width="0.7"/>
<path d="M572.29 157.63A47.1 47.1 0 0 1 566.59 158.39L565.49 142.72A31.4 31.4 0 0 0 569.29 142.22Z" fill="#cccccc" stroke="#fff" stroke-width="0.7"/>
<path d="M566.59 158.39A47.1 47.1 0 0 1 563.3 158.5L563.3 142.8A31.4 31.4 0 0 0 565.49 142.72Z" fill="#777777" stroke="#fff" stroke-width="0.7"/>
<path d="M563.3 158.5A47.1 47.1 0 0 1 539.75 152.19L547.6 138.59A31.4 31.4 0 0 0 563.3 142.8Z" fill="#777777" stroke="#fff" stroke-width="0.7"/>
<path d="M539.75 152.19A47.1 47.1 0 0 1 526.18 140.4L538.56 130.73A31.4 31.4 0 0 0 547.6 138.59Z" fill="#777777" stroke="#fff" stroke-width="0.7"/>
<path d="M526.18 140.4A47.1 47.1 0 0 1 518.02 124.38L533.12 120.06A31.4 31.4 0 0 0 538.56 130.73Z" fill="#cccccc" stroke="#fff" stroke-width="0.7"/>
<path d="M518.02 124.38A47.1 47.1 0 0 1 516.55 105.66L532.13 107.57A31.4 31.4 0 0 0 533.12 120.06Z" fill="#8d5592" stroke="#fff" stroke-width="0.7"/>
<path d="M516.55 105.66A47.1 47.1 0 0 1 519.04 95.29L533.79 100.66A31.4 31.4 0 0 0 532.13 107.57Z" fill="#cccccc" stroke="#fff" stroke-width="0.7"/>
<path d="M519.04 95.29A47.1 47.1 0 0 1 523.36 86.44L536.67 94.76A31.4 31.4 0 0 0 533.79 100.66Z" fill="#cccccc" stroke="#fff" stroke-width="0.7"/>
<path d="M523.36 86.44A47.1 47.1 0 0 1 526.7 81.76L538.9 91.64A31.4 31.4 0 0 0 536.67 94.76Z" fill="#777777" stroke="#fff" stroke-width="0.7"/>
<path d="M526.7 81.76A47.1 47.1 0 0 1 530.58 77.52L541.49 88.81A31.4 31.4 0 0 0 538.9 91.64Z" fill="#777777" stroke="#fff" stroke-width="0.7"/>
<path d="M530.58 77.52A47.1 47.1 0 0 1 535.62 73.3L544.84 86A31.4 31.4 0 0 0 541.49 88.81Z" fill="#cccccc" stroke="#fff" stroke-width="0.7"/>
<path d="M535.62 73.3A47.1 47.1 0 0 1 541.19 69.81L548.56 83.68A31.4 31.4 0 0 0 544.84 86Z" fill="#cccccc" stroke="#fff" stroke-width="0.7"/>
<path d="M541.19 69.81A47.1 47.1 0 0 1 546.81 67.28L552.3 81.99A31.4 31.4 0 0 0 548.56 83.68Z" fill="#cccccc" stroke="#fff" stroke-width="0.7"/>
<path d="M546.81 67.28A47.1 47.1 0 0 1 551.11 65.9L555.17 81.07A31.4 31.4 0 0 0 552.3 81.99Z" fill="#cccccc" stroke="#fff" stroke-width="0.7"/>
<path d="M551.11 65.9A47.1 47.1 0 0 1 557.15 64.7L559.2 80.27A31.4 31.4 0 0 0 555.17 81.07Z" fill="#cccccc" stroke="#fff" stroke-width="0.7"/>
<path d="M557.15 64.7A47.1 47.1 0 0 1 562.48 64.31L562.75 80A31.4 31.4 0 0 0 559.2 80.27Z" fill="#777777" stroke="#fff" stroke-width="0.7"/>
<path d="M563.3 48.6A62.8 62.8 0 0 1 592.78 55.95L585.41 69.81A47.1 47.1 0 0 0 563.3 64.3Z" fill="#8d5592" stroke="#fff" stroke-width="0.7"/>
<path d="M592.78 55.95A62.8 62.8 0 0 1 603.67 63.29L593.58 75.32A47.1 47.1 0 0 0 585.41 69.81Z" fill="#cccccc" stroke="#fff" stroke-width="0.7"/>
<path d="M603.67 63.29A62.8 62.8 0 0 1 610.7 70.2L598.85 80.5A47.1 47.1 0 0 0 593.58 75.32Z" fill="#cccccc" stroke="#fff" stroke-width="0.7"/>
<path d="M610.7 70.2A62.8 62.8 0 0 1 615.06 75.83L602.12 84.72A47.1 47.1 0 0 0 598.85 80.5Z" fill="#cccccc" stroke="#fff" stroke-width="0.7"/>
<path d="M615.06 75.83A62.8 62.8 0 0 1 619.26 82.89L605.27 90.02A47.1 47.1 0 0 0 602.12 84.72Z" fill="#777777" stroke="#fff" stroke-width="0.7"/>
<path d="M619.26 82.89A62.8 62.8 0 0 1 622.31 89.92L607.56 95.29A47.1 47.1 0 0 0 605.27 90.02Z" fill="#777777" stroke="#fff" stroke-width="0.7"/>
<path d="M622.31 89.92A62.8 62.8 0 0 1 624.49 97.27L609.19 100.8A47.1 47.1 0 0 0 607.56 95.29Z" fill="#cccccc" stroke="#fff" stroke-width="0.7"/>
<path d="M624.49 97.27A62.8 62.8 0 0 1 625.76 104.84L610.14 106.48A47.1 47.1 0 0 0 609.19 100.8Z" fill="#cccccc" stroke="#fff" stroke-width="0.7"/>
<path d="M625.76 104.84A62.8 62.8 0 0 1 626.09 112.5L610.39 112.22A47.1 47.1 0 0 0 610.14 106.48Z" fill="#cccccc" stroke="#fff" stroke-width="0.7"/>
<path d="M626.09 112.5A62.8 62.8 0 0 1 625.33 121.22L609.82 118.77A47.1 47.1 0 0 0 610.39 112.22Z" fill="#cccccc" stroke="#fff" stroke-width="0.7"/>
<path d="M625.33 121.22A62.8 62.8 0 0 1 623.67 128.71L608.58 124.38A47.1 47.1 0 0 0 609.82 118.77Z" fill="#cccccc" stroke="#fff" stroke-width="0.7"/>
<path d="M623.67 128.71A62.8 62.8 0 0 1 621.11 135.94L606.66 129.8A47.1 47.1 0 0 0 608.58 124.38Z" fill="#cccccc" stroke="#fff" stroke-width="0.7"/>
<path d="M621.11 135.94A62.8 62.8 0 0 1 618.23 141.85L604.49 134.23A47.1 47.1 0 0 0 606.66 129.8Z" fill="#cccccc" stroke="#fff" stroke-width="0.7"/>
<path d="M618.23 141.85A62.8 62.8 0 0 1 612.79 150.06L600.42 140.4A47.1 47.1 0 0 0 604.49 134.23Z" fill="#dd2a24" stroke="#fff" stroke-width="0.7"/>
<path d="M612.79 150.06A62.8 62.8 0 0 1 607.71 155.81L596.6 144.7A47.1 47.1 0 0 0 600.42 140.4Z" fill="#cccccc" stroke="#fff" stroke-width="0.7"/>
<path d="M607.71 155.81A62.8 62.8 0 0 1 601.96 160.89L592.3 148.52A47.1 47.1 0 0 0 596.6 144.7Z" fill="#cccccc" stroke="#fff" stroke-width="0.7"/>
<path d="M599.32 162.84A62.8 62.8 0 0 1 589.84 168.32L583.21 154.09A47.1 47.1 0 0 0 590.32 149.98Z" fill="#cccccc" stroke="#fff" stroke-width="0.7"/>
<path d="M582.71 171.13A62.8 62.8 0 0 1 574.21 173.25L571.48 157.78A47.1 47.1 0 0 0 577.85 156.19Z" fill="#cccccc" stroke="#fff" stroke-width="0.7"/>
<path d="M563.3 174.2A62.8 62.8 0 0 1 545.99 171.77L550.32 156.68A47.1 47.1 0 0 0 563.3 158.5Z" fill="#a3bfe2" stroke="#fff" stroke-width="0.7"/>
<path d="M545.99 171.77A62.8 62.8 0 0 1 538.76 169.21L544.9 154.76A47.1 47.1 0 0 0 550.32 156.68Z" fill="#777777" stroke="#fff" stroke-width="0.7"/>
<path d="M538.76 169.21A62.8 62.8 0 0 1 518.13 155.02L529.42 144.12A47.1 47.1 0 0 0 544.9 154.76Z" fill="#777777" stroke="#fff" stroke-width="0.7"/>
<path d="M518.13 155.02A62.8 62.8 0 0 1 511.24 146.52L524.25 137.74A47.1 47.1 0 0 0 529.42 144.12Z" fill="#cccccc" stroke="#fff" stroke-width="0.7"/>
<path d="M511.24 146.52A62.8 62.8 0 0 1 506.38 137.94L520.61 131.31A47.1 47.1 0 0 0 524.25 137.74Z" fill="#cccccc" stroke="#fff" stroke-width="0.7"/>
<path d="M506.38 137.94A62.8 62.8 0 0 1 502.93 128.71L518.02 124.38A47.1 47.1 0 0 0 520.61 131.31Z" fill="#cccccc" stroke="#fff" stroke-width="0.7"/>
<path d="M502.93 128.71A62.8 62.8 0 0 1 501.27 121.22L516.78 118.77A47.1 47.1 0 0 0 518.02 124.38Z" fill="#777777" stroke="#fff" stroke-width="0.7"/>
<path d="M501.27 121.22A62.8 62.8 0 0 1 500.54 113.59L516.23 113.04A47.1 47.1 0 0 0 516.78 118.77Z" fill="#cccccc" stroke="#fff" stroke-width="0.7"/>
<path d="M500.54 113.59A62.8 62.8 0 0 1 500.74 105.93L516.38 107.29A47.1 47.1 0 0 0 516.23 113.04Z" fill="#7767b3" stroke="#fff" stroke-width="0.7"/>
<path d="M500.74 105.93A62.8 62.8 0 0 1 501.87 98.34L517.23 101.61A47.1 47.1 0 0 0 516.38 107.29Z" fill="#cccccc" stroke="#fff" stroke-width="0.7"/>
<path d="M501.87 98.34A62.8 62.8 0 0 1 504.29 89.92L519.04 95.29A47.1 47.1 0 0 0 517.23 101.61Z" fill="#cccccc" stroke="#fff" stroke-width="0.7"/>
<path d="M504.29 89.92A62.8 62.8 0 0 1 506.86 83.87L520.97 90.75A47.1 47.1 0 0 0 519.04 95.29Z" fill="#cccccc" stroke="#fff" stroke-width="0.7"/>
<path d="M506.86 83.87A62.8 62.8 0 0 1 511.24 76.28L524.25 85.06A47.1 47.1 0 0 0 520.97 90.75Z" fill="#cccccc" stroke="#fff" stroke-width="0.7"/>
<path d="M516.63 69.38A62.8 62.8 0 0 1 524.64 61.91L534.3 74.28A47.1 47.1 0 0 0 528.3 79.88Z" fill="#cccccc" stroke="#fff" stroke-width="0.7"/>
<path d="M563.3 32.9A78.5 78.5 0 0 1 591.43 38.11L585.81 52.77A62.8 62.8 0 0 0 563.3 48.6Z" fill="#cd3b43" stroke="#fff" stroke-width="0.7"/>
<path d="M591.43 38.11A78.5 78.5 0 0 1 600.15 42.09L592.78 55.95A62.8 62.8 0 0 0 585.81 52.77Z" fill="#777777" stroke="#fff" stroke-width="0.7"/>
<path d="M600.15 42.09A78.5 78.5 0 0 1 608.33 47.1L599.32 59.96A62.8 62.8 0 0 0 592.78 55.95Z" fill="#cccccc" stroke="#fff" stroke-width="0.7"/>
<path d="M608.33 47.1A78.5 78.5 0 0 1 615.83 53.06L605.32 64.73A62.8 62.8 0 0 0 599.32 59.96Z" fill="#777777" stroke="#fff" stroke-width="0.7"/>
<path d="M641.37 103.19A78.5 78.5 0 0 1 641.79 112.77L626.09 112.5A62.8 62.8 0 0 0 625.76 104.84Z" fill="#cccccc" stroke="#fff" stroke-width="0.7"/>
<path d="M641.79 112.77A78.5 78.5 0 0 1 640.83 123.68L625.33 121.22A62.8 62.8 0 0 0 626.09 112.5Z" fill="#cccccc" stroke="#fff" stroke-width="0.7"/>
<path d="M640.83 123.68A78.5 78.5 0 0 1 638.76 133.04L623.67 128.71A62.8 62.8 0 0 0 625.33 121.22Z" fill="#cccccc" stroke="#fff" stroke-width="0.7"/>
<path d="M625.16 159.73A78.5 78.5 0 0 1 618.81 166.91L607.71 155.81A62.8 62.8 0 0 0 612.79 150.06Z" fill="#cccccc" stroke="#fff" stroke-width="0.7"/>
<path d="M618.81 166.91A78.5 78.5 0 0 1 611.63 173.26L601.96 160.89A62.8 62.8 0 0 0 607.71 155.81Z" fill="#cccccc" stroke="#fff" stroke-width="0.7"/>
<path d="M604.9 177.97A78.5 78.5 0 0 1 595.23 183.11L588.84 168.77A62.8 62.8 0 0 0 596.58 164.66Z" fill="#cccccc" stroke="#fff" stroke-width="0.7"/>
<path d="M563.3 189.9A78.5 78.5 0 0 1 556.46 189.6L557.83 173.96A62.8 62.8 0 0 0 563.3 174.2Z" fill="#777777" stroke="#fff" stroke-width="0.7"/>
<path d="M556.46 189.6A78.5 78.5 0 0 1 548.32 188.46L551.32 173.05A62.8 62.8 0 0 0 557.83 173.96Z" fill="#cccccc" stroke="#fff" stroke-width="0.7"/>
<path d="M548.32 188.46A78.5 78.5 0 0 1 537.74 185.62L542.85 170.78A62.8 62.8 0 0 0 551.32 173.05Z" fill="#777777" stroke="#fff" stroke-width="0.7"/>
<path d="M530.12 182.55A78.5 78.5 0 0 1 521.7 177.97L530.02 164.66A62.8 62.8 0 0 0 536.76 168.32Z" fill="#cccccc" stroke="#fff" stroke-width="0.7"/>
<path d="M521.7 177.97A78.5 78.5 0 0 1 513.9 172.41L523.78 160.2A62.8 62.8 0 0 0 530.02 164.66Z" fill="#cccccc" stroke="#fff" stroke-width="0.7"/>
<path d="M513.9 172.41A78.5 78.5 0 0 1 505.89 164.94L517.37 154.23A62.8 62.8 0 0 0 523.78 160.2Z" fill="#777777" stroke="#fff" stroke-width="0.7"/>
<path d="M500.61 158.64A78.5 78.5 0 0 1 495.32 150.65L508.91 142.8A62.8 62.8 0 0 0 513.15 149.19Z" fill="#cccccc" stroke="#fff" stroke-width="0.7"/>
<path d="M495.32 150.65A78.5 78.5 0 0 1 491.04 142.07L505.49 135.94A62.8 62.8 0 0 0 508.91 142.8Z" fill="#cccccc" stroke="#fff" stroke-width="0.7"/>
<path d="M489.53 84.55A78.5 78.5 0 0 1 492.74 76.99L506.86 83.87A62.8 62.8 0 0 0 504.29 89.92Z" fill="#cccccc" stroke="#fff" stroke-width="0.7"/>
<path d="M492.74 76.99A78.5 78.5 0 0 1 498.22 67.5L511.24 76.28A62.8 62.8 0 0 0 506.86 83.87Z" fill="#cccccc" stroke="#fff" stroke-width="0.7"/>
<path d="M504.96 58.87A78.5 78.5 0 0 1 514.97 49.54L524.64 61.91A62.8 62.8 0 0 0 516.63 69.38Z" fill="#cccccc" stroke="#fff" stroke-width="0.7"/>
<path d="M563.3 17.2A94.2 94.2 0 0 1 574.78 17.9L572.87 33.49A78.5 78.5 0 0 0 563.3 32.9Z" fill="#777777" stroke="#fff" stroke-width="0.7"/>
<path d="M574.78 17.9A94.2 94.2 0 0 1 586.09 20L582.29 35.23A78.5 78.5 0 0 0 572.87 33.49Z" fill="#cccccc" stroke="#fff" stroke-width="0.7"/>
<path d="M586.09 20A94.2 94.2 0 0 1 597.06 23.46L591.43 38.11A78.5 78.5 0 0 0 582.29 35.23Z" fill="#a84d78" stroke="#fff" stroke-width="0.7"/>
<path d="M657.49 113.04A94.2 94.2 0 0 1 656.34 126.14L640.83 123.68A78.5 78.5 0 0 0 641.79 112.77Z" fill="#cccccc" stroke="#fff" stroke-width="0.7"/>
<path d="M656.34 126.14A94.2 94.2 0 0 1 653.85 137.37L638.76 133.04A78.5 78.5 0 0 0 640.83 123.68Z" fill="#cccccc" stroke="#fff" stroke-width="0.7"/>
<path d="M629.91 178.01A94.2 94.2 0 0 1 621.3 185.63L611.63 173.26A78.5 78.5 0 0 0 618.81 166.91Z" fill="#cccccc" stroke="#fff" stroke-width="0.7"/>
<path d="M478.63 70.11A94.2 94.2 0 0 1 485.2 58.72L498.22 67.5A78.5 78.5 0 0 0 492.74 76.99Z" fill="#cccccc" stroke="#fff" stroke-width="0.7"/>
<circle cx="563.3" cy="111.4" r="15.8" fill="#ee2a1a" stroke="#fff" stroke-width="0.7"/>
<circle cx="563.3" cy="111.4" r="15.8" fill="none" stroke="#fff" stroke-width="0.7"/>
<text x="566.6" y="62.4" font-size="9" font-weight="bold" fill="#111" textLength="19.8" lengthAdjust="spacingAndGlyphs">PSD</text>
<text x="591.5" y="132.4" font-size="9" font-weight="bold" fill="#111" textLength="13.8" lengthAdjust="spacingAndGlyphs">PM</text>
<text x="516.3" y="118.2" font-size="9" font-weight="bold" fill="#111" textLength="14.1" lengthAdjust="spacingAndGlyphs">PM</text>
<text x="549.1" y="170" font-size="9" font-weight="bold" fill="#111" textLength="13.2" lengthAdjust="spacingAndGlyphs">AZ</text>
<text x="423.8" y="23.6" font-size="5.6" fill="#333">-log10 Q-value</text>
<rect x="424.2" y="26.3" width="6.6" height="6.3" fill="#cccccc"/>
<text x="433" y="31.6" font-size="5.8" fill="#333">too few genes</text>
<rect x="424.2" y="34.84" width="6.6" height="6.3" fill="#777777"/>
<text x="433" y="40.14" font-size="5.8" fill="#333">not significant</text>
<rect x="424.2" y="43.38" width="6.6" height="6.3" fill="#a3bfe2"/>
<text x="433" y="48.68" font-size="5.8" fill="#333">2</text>
<rect x="424.2" y="51.92" width="6.6" height="6.3" fill="#8a94c8"/>
<text x="433" y="57.22" font-size="5.8" fill="#333">3</text>
<rect x="424.2" y="60.46" width="6.6" height="6.3" fill="#7767b3"/>
<text x="433" y="65.76" font-size="5.8" fill="#333">4</text>
<rect x="424.2" y="69" width="6.6" height="6.3" fill="#8d5592"/>
<text x="433" y="74.3" font-size="5.8" fill="#333">5</text>
<rect x="424.2" y="77.54" width="6.6" height="6.3" fill="#bb4459"/>
<text x="433" y="82.84" font-size="5.8" fill="#333">6</text>
<rect x="424.2" y="86.08" width="6.6" height="6.3" fill="#e02424"/>
<text x="433" y="91.38" font-size="5.8" fill="#333">≥7</text>
<text x="414.5" y="8.3" font-size="10" font-weight="bold" fill="#000">b</text>
<path d="M579.7 267.9A26.1 26.1 0 0 1 605.8 294L592.5 294A12.8 12.8 0 0 0 579.7 281.2Z" fill="#d23535" stroke="#fff" stroke-width="0.6"/>
<path d="M605.8 294A26.1 26.1 0 0 1 579.7 320.1L579.7 306.8A12.8 12.8 0 0 0 592.5 294Z" fill="#777777" stroke="#fff" stroke-width="0.6"/>
<path d="M579.7 320.1A26.1 26.1 0 0 1 559.13 310.07L569.61 301.88A12.8 12.8 0 0 0 579.7 306.8Z" fill="#7767b3" stroke="#fff" stroke-width="0.6"/>
<path d="M559.13 310.07A26.1 26.1 0 0 1 553.7 291.73L566.95 292.88A12.8 12.8 0 0 0 569.61 301.88Z" fill="#ff0a0a" stroke="#fff" stroke-width="0.6"/>
<path d="M553.7 291.73A26.1 26.1 0 0 1 562.92 274.01L571.47 284.19A12.8 12.8 0 0 0 566.95 292.88Z" fill="#cccccc" stroke="#fff" stroke-width="0.6"/>
<path d="M562.92 274.01A26.1 26.1 0 0 1 579.7 267.9L579.7 281.2A12.8 12.8 0 0 0 571.47 284.19Z" fill="#777777" stroke="#fff" stroke-width="0.6"/>
<path d="M579.7 254.6A39.4 39.4 0 0 1 593.82 257.22L589.05 269.63A26.1 26.1 0 0 0 579.7 267.9Z" fill="#777777" stroke="#fff" stroke-width="0.6"/>
<path d="M593.82 257.22A39.4 39.4 0 0 1 603.41 262.53L595.41 273.16A26.1 26.1 0 0 0 589.05 269.63Z" fill="#777777" stroke="#fff" stroke-width="0.6"/>
<path d="M603.41 262.53A39.4 39.4 0 0 1 610.75 269.74L600.27 277.93A26.1 26.1 0 0 0 595.41 273.16Z" fill="#777777" stroke="#fff" stroke-width="0.6"/>
<path d="M610.75 269.74A39.4 39.4 0 0 1 613.11 273.12L601.83 280.17A26.1 26.1 0 0 0 600.27 277.93Z" fill="#a3bfe2" stroke="#fff" stroke-width="0.6"/>
<path d="M613.11 273.12A39.4 39.4 0 0 1 614.34 275.23L602.65 281.57A26.1 26.1 0 0 0 601.83 280.17Z" fill="#777777" stroke="#fff" stroke-width="0.6"/>
<path d="M614.34 275.23A39.4 39.4 0 0 1 615.44 277.42L603.38 283.02A26.1 26.1 0 0 0 602.65 281.57Z" fill="#cccccc" stroke="#fff" stroke-width="0.6"/>
<path d="M615.44 277.42A39.4 39.4 0 0 1 616.4 279.67L604.01 284.5A26.1 26.1 0 0 0 603.38 283.02Z" fill="#777777" stroke="#fff" stroke-width="0.6"/>
<path d="M616.4 279.67A39.4 39.4 0 0 1 617.22 281.97L604.55 286.03A26.1 26.1 0 0 0 604.01 284.5Z" fill="#cccccc" stroke="#fff" stroke-width="0.6"/>
<path d="M617.22 281.97A39.4 39.4 0 0 1 617.89 284.32L605 287.59A26.1 26.1 0 0 0 604.55 286.03Z" fill="#777777" stroke="#fff" stroke-width="0.6"/>
<path d="M617.89 284.32A39.4 39.4 0 0 1 618.42 286.71L605.35 289.17A26.1 26.1 0 0 0 605 287.59Z" fill="#cccccc" stroke="#fff" stroke-width="0.6"/>
<path d="M618.42 286.71A39.4 39.4 0 0 1 618.8 289.12L605.6 290.77A26.1 26.1 0 0 0 605.35 289.17Z" fill="#cccccc" stroke="#fff" stroke-width="0.6"/>
<path d="M618.8 289.12A39.4 39.4 0 0 1 619.02 291.56L605.75 292.38A26.1 26.1 0 0 0 605.6 290.77Z" fill="#777777" stroke="#fff" stroke-width="0.6"/>
<path d="M619.02 291.56A39.4 39.4 0 0 1 619.1 294L605.8 294A26.1 26.1 0 0 0 605.75 292.38Z" fill="#cccccc" stroke="#fff" stroke-width="0.6"/>
<path d="M619.1 294A39.4 39.4 0 0 1 604.5 324.62L596.13 314.28A26.1 26.1 0 0 0 605.8 294Z" fill="#777777" stroke="#fff" stroke-width="0.6"/>
<path d="M604.5 324.62A39.4 39.4 0 0 1 597.59 329.11L591.55 317.26A26.1 26.1 0 0 0 596.13 314.28Z" fill="#777777" stroke="#fff" stroke-width="0.6"/>
<path d="M597.59 329.11A39.4 39.4 0 0 1 589.23 332.23L586.01 319.32A26.1 26.1 0 0 0 591.55 317.26Z" fill="#777777" stroke="#fff" stroke-width="0.6"/>
<path d="M589.23 332.23A39.4 39.4 0 0 1 587.35 332.65L584.77 319.6A26.1 26.1 0 0 0 586.01 319.32Z" fill="#cccccc" stroke="#fff" stroke-width="0.6"/>
<path d="M587.35 332.65A39.4 39.4 0 0 1 585.46 332.98L583.51 319.82A26.1 26.1 0 0 0 584.77 319.6Z" fill="#cccccc" stroke="#fff" stroke-width="0.6"/>
<path d="M585.46 332.98A39.4 39.4 0 0 1 583.54 333.21L582.25 319.98A26.1 26.1 0 0 0 583.51 319.82Z" fill="#cccccc" stroke="#fff" stroke-width="0.6"/>
<path d="M583.54 333.21A39.4 39.4 0 0 1 581.62 333.35L580.97 320.07A26.1 26.1 0 0 0 582.25 319.98Z" fill="#cccccc" stroke="#fff" stroke-width="0.6"/>
<path d="M581.62 333.35A39.4 39.4 0 0 1 579.7 333.4L579.7 320.1A26.1 26.1 0 0 0 580.97 320.07Z" fill="#cccccc" stroke="#fff" stroke-width="0.6"/>
<path d="M579.7 333.4A39.4 39.4 0 0 1 576.95 333.3L577.88 320.04A26.1 26.1 0 0 0 579.7 320.1Z" fill="#cccccc" stroke="#fff" stroke-width="0.6"/>
<path d="M576.95 333.3A39.4 39.4 0 0 1 574.22 333.02L576.07 319.85A26.1 26.1 0 0 0 577.88 320.04Z" fill="#cccccc" stroke="#fff" stroke-width="0.6"/>
<path d="M574.22 333.02A39.4 39.4 0 0 1 571.51 332.54L574.27 319.53A26.1 26.1 0 0 0 576.07 319.85Z" fill="#cccccc" stroke="#fff" stroke-width="0.6"/>
<path d="M571.51 332.54A39.4 39.4 0 0 1 568.84 331.87L572.51 319.09A26.1 26.1 0 0 0 574.27 319.53Z" fill="#777777" stroke="#fff" stroke-width="0.6"/>
<path d="M568.84 331.87A39.4 39.4 0 0 1 566.22 331.02L570.77 318.53A26.1 26.1 0 0 0 572.51 319.09Z" fill="#cccccc" stroke="#fff" stroke-width="0.6"/>
<path d="M566.22 331.02A39.4 39.4 0 0 1 557.67 326.66L565.11 315.64A26.1 26.1 0 0 0 570.77 318.53Z" fill="#a3bfe2" stroke="#fff" stroke-width="0.6"/>
<path d="M557.67 326.66A39.4 39.4 0 0 1 555.44 325.05L563.63 314.57A26.1 26.1 0 0 0 565.11 315.64Z" fill="#777777" stroke="#fff" stroke-width="0.6"/>
<path d="M555.44 325.05A39.4 39.4 0 0 1 553.34 323.28L562.24 313.4A26.1 26.1 0 0 0 563.63 314.57Z" fill="#777777" stroke="#fff" stroke-width="0.6"/>
<path d="M553.34 323.28A39.4 39.4 0 0 1 551.36 321.37L560.93 312.13A26.1 26.1 0 0 0 562.24 313.4Z" fill="#cccccc" stroke="#fff" stroke-width="0.6"/>
<path d="M551.36 321.37A39.4 39.4 0 0 1 549.52 319.33L559.71 310.78A26.1 26.1 0 0 0 560.93 312.13Z" fill="#777777" stroke="#fff" stroke-width="0.6"/>
<path d="M549.52 319.33A39.4 39.4 0 0 1 547.82 317.16L558.58 309.34A26.1 26.1 0 0 0 559.71 310.78Z" fill="#cccccc" stroke="#fff" stroke-width="0.6"/>
<path d="M547.82 317.16A39.4 39.4 0 0 1 540.32 295.38L553.62 294.91A26.1 26.1 0 0 0 558.58 309.34Z" fill="#ff0a0a" stroke="#fff" stroke-width="0.6"/>
<path d="M540.32 295.38A39.4 39.4 0 0 1 540.45 290.57L553.7 291.73A26.1 26.1 0 0 0 553.62 294.91Z" fill="#cccccc" stroke="#fff" stroke-width="0.6"/>
<path d="M540.45 290.57A39.4 39.4 0 0 1 540.74 288.12L553.89 290.1A26.1 26.1 0 0 0 553.7 291.73Z" fill="#cccccc" stroke="#fff" stroke-width="0.6"/>
<path d="M540.74 288.12A39.4 39.4 0 0 1 541.18 285.7L554.19 288.5A26.1 26.1 0 0 0 553.89 290.1Z" fill="#cccccc" stroke="#fff" stroke-width="0.6"/>
<path d="M541.18 285.7A39.4 39.4 0 0 1 541.78 283.31L554.58 286.92A26.1 26.1 0 0 0 554.19 288.5Z" fill="#cccccc" stroke="#fff" stroke-width="0.6"/>
<path d="M541.78 283.31A39.4 39.4 0 0 1 542.52 280.96L555.07 285.36A26.1 26.1 0 0 0 554.58 286.92Z" fill="#cccccc" stroke="#fff" stroke-width="0.6"/>
<path d="M542.52 280.96A39.4 39.4 0 0 1 543.41 278.66L555.66 283.84A26.1 26.1 0 0 0 555.07 285.36Z" fill="#cccccc" stroke="#fff" stroke-width="0.6"/>
<path d="M543.41 278.66A39.4 39.4 0 0 1 544.44 276.42L556.34 282.35A26.1 26.1 0 0 0 555.66 283.84Z" fill="#cccccc" stroke="#fff" stroke-width="0.6"/>
<path d="M544.44 276.42A39.4 39.4 0 0 1 545.61 274.25L557.12 280.92A26.1 26.1 0 0 0 556.34 282.35Z" fill="#cccccc" stroke="#fff" stroke-width="0.6"/>
<path d="M545.61 274.25A39.4 39.4 0 0 1 546.91 272.16L557.98 279.53A26.1 26.1 0 0 0 557.12 280.92Z" fill="#cccccc" stroke="#fff" stroke-width="0.6"/>
<path d="M546.91 272.16A39.4 39.4 0 0 1 548.34 270.15L558.92 278.2A26.1 26.1 0 0 0 557.98 279.53Z" fill="#cccccc" stroke="#fff" stroke-width="0.6"/>
<path d="M548.34 270.15A39.4 39.4 0 0 1 549.89 268.24L559.95 276.93A26.1 26.1 0 0 0 558.92 278.2Z" fill="#cccccc" stroke="#fff" stroke-width="0.6"/>
<path d="M549.89 268.24A39.4 39.4 0 0 1 551.56 266.43L561.06 275.73A26.1 26.1 0 0 0 559.95 276.93Z" fill="#cccccc" stroke="#fff" stroke-width="0.6"/>
<path d="M551.56 266.43A39.4 39.4 0 0 1 553.34 264.72L562.24 274.6A26.1 26.1 0 0 0 561.06 275.73Z" fill="#cccccc" stroke="#fff" stroke-width="0.6"/>
<path d="M553.34 264.72A39.4 39.4 0 0 1 566.22 256.98L570.77 269.47A26.1 26.1 0 0 0 562.24 274.6Z" fill="#cccccc" stroke="#fff" stroke-width="0.6"/>
<path d="M566.22 256.98A39.4 39.4 0 0 1 572.86 255.2L575.17 268.3A26.1 26.1 0 0 0 570.77 269.47Z" fill="#cccccc" stroke="#fff" stroke-width="0.6"/>
<path d="M572.86 255.2A39.4 39.4 0 0 1 576.27 254.75L577.43 268A26.1 26.1 0 0 0 575.17 268.3Z" fill="#cccccc" stroke="#fff" stroke-width="0.6"/>
<path d="M576.27 254.75A39.4 39.4 0 0 1 579.7 254.6L579.7 267.9A26.1 26.1 0 0 0 577.43 268Z" fill="#cccccc" stroke="#fff" stroke-width="0.6"/>
<path d="M579.7 241.3A52.7 52.7 0 0 1 590.66 242.45L587.89 255.46A39.4 39.4 0 0 0 579.7 254.6Z" fill="#777777" stroke="#fff" stroke-width="0.6"/>
<path d="M590.66 242.45A52.7 52.7 0 0 1 601.97 246.24L596.35 258.29A39.4 39.4 0 0 0 587.89 255.46Z" fill="#777777" stroke="#fff" stroke-width="0.6"/>
<path d="M601.97 246.24A52.7 52.7 0 0 1 610.68 251.36L602.86 262.12A39.4 39.4 0 0 0 596.35 258.29Z" fill="#777777" stroke="#fff" stroke-width="0.6"/>
<path d="M610.68 251.36A52.7 52.7 0 0 1 616.31 256.09L607.07 265.66A39.4 39.4 0 0 0 602.86 262.12Z" fill="#777777" stroke="#fff" stroke-width="0.6"/>
<path d="M616.31 256.09A52.7 52.7 0 0 1 620.07 260.13L609.88 268.67A39.4 39.4 0 0 0 607.07 265.66Z" fill="#cccccc" stroke="#fff" stroke-width="0.6"/>
<path d="M620.07 260.13A52.7 52.7 0 0 1 622.34 263.02L611.58 270.84A39.4 39.4 0 0 0 609.88 268.67Z" fill="#777777" stroke="#fff" stroke-width="0.6"/>
<path d="M622.34 263.02A52.7 52.7 0 0 1 624.39 266.07L613.11 273.12A39.4 39.4 0 0 0 611.58 270.84Z" fill="#cccccc" stroke="#fff" stroke-width="0.6"/>
<path d="M624.39 266.07A52.7 52.7 0 0 1 626.23 269.26L614.49 275.5A39.4 39.4 0 0 0 613.11 273.12Z" fill="#cccccc" stroke="#fff" stroke-width="0.6"/>
<path d="M626.23 269.26A52.7 52.7 0 0 1 627.84 272.56L615.69 277.97A39.4 39.4 0 0 0 614.49 275.5Z" fill="#777777" stroke="#fff" stroke-width="0.6"/>
<path d="M627.84 272.56A52.7 52.7 0 0 1 629.22 275.98L616.72 280.52A39.4 39.4 0 0 0 615.69 277.97Z" fill="#cccccc" stroke="#fff" stroke-width="0.6"/>
<path d="M629.22 275.98A52.7 52.7 0 0 1 630.36 279.47L617.57 283.14A39.4 39.4 0 0 0 616.72 280.52Z" fill="#777777" stroke="#fff" stroke-width="0.6"/>
<path d="M630.36 279.47A52.7 52.7 0 0 1 631.25 283.04L618.24 285.81A39.4 39.4 0 0 0 617.57 283.14Z" fill="#cccccc" stroke="#fff" stroke-width="0.6"/>
<path d="M631.25 283.04A52.7 52.7 0 0 1 631.89 286.67L618.72 288.52A39.4 39.4 0 0 0 618.24 285.81Z" fill="#cccccc" stroke="#fff" stroke-width="0.6"/>
<path d="M631.89 286.67A52.7 52.7 0 0 1 632.27 290.32L619 291.25A39.4 39.4 0 0 0 618.72 288.52Z" fill="#777777" stroke="#fff" stroke-width="0.6"/>
<path d="M632.27 290.32A52.7 52.7 0 0 1 632.4 294L619.1 294A39.4 39.4 0 0 0 619 291.25Z" fill="#cccccc" stroke="#fff" stroke-width="0.6"/>
<path d="M632.39 294.92A52.7 52.7 0 0 1 630.36 308.53L617.57 304.86A39.4 39.4 0 0 0 619.09 294.69Z" fill="#8a94c8" stroke="#fff" stroke-width="0.6"/>
<path d="M630.36 308.53A52.7 52.7 0 0 1 622.87 324.23L611.97 316.6A39.4 39.4 0 0 0 617.57 304.86Z" fill="#777777" stroke="#fff" stroke-width="0.6"/>
<path d="M622.87 324.23A52.7 52.7 0 0 1 620.9 326.86L610.5 318.57A39.4 39.4 0 0 0 611.97 316.6Z" fill="#cccccc" stroke="#fff" stroke-width="0.6"/>
<path d="M620.9 326.86A52.7 52.7 0 0 1 618.78 329.36L608.91 320.44A39.4 39.4 0 0 0 610.5 318.57Z" fill="#777777" stroke="#fff" stroke-width="0.6"/>
<path d="M618.78 329.36A52.7 52.7 0 0 1 616.5 331.73L607.21 322.21A39.4 39.4 0 0 0 608.91 320.44Z" fill="#cccccc" stroke="#fff" stroke-width="0.6"/>
<path d="M616.5 331.73A52.7 52.7 0 0 1 614.08 333.95L605.4 323.86A39.4 39.4 0 0 0 607.21 322.21Z" fill="#cccccc" stroke="#fff" stroke-width="0.6"/>
<path d="M614.08 333.95A52.7 52.7 0 0 1 611.52 336.01L603.49 325.41A39.4 39.4 0 0 0 605.4 323.86Z" fill="#cccccc" stroke="#fff" stroke-width="0.6"/>
<path d="M611.52 336.01A52.7 52.7 0 0 1 608.84 337.91L601.49 326.83A39.4 39.4 0 0 0 603.49 325.41Z" fill="#cccccc" stroke="#fff" stroke-width="0.6"/>
<path d="M608.84 337.91A52.7 52.7 0 0 1 606.05 339.64L599.4 328.12A39.4 39.4 0 0 0 601.49 326.83Z" fill="#cccccc" stroke="#fff" stroke-width="0.6"/>
<path d="M606.05 339.64A52.7 52.7 0 0 1 603.35 341.09L597.38 329.21A39.4 39.4 0 0 0 599.4 328.12Z" fill="#cccccc" stroke="#fff" stroke-width="0.6"/>
<path d="M603.35 341.09A52.7 52.7 0 0 1 600.57 342.39L595.31 330.18A39.4 39.4 0 0 0 597.38 329.21Z" fill="#cccccc" stroke="#fff" stroke-width="0.6"/>
<path d="M600.57 342.39A52.7 52.7 0 0 1 597.72 343.52L593.18 331.02A39.4 39.4 0 0 0 595.31 330.18Z" fill="#777777" stroke="#fff" stroke-width="0.6"/>
<path d="M597.72 343.52A52.7 52.7 0 0 1 594.81 344.49L591 331.74A39.4 39.4 0 0 0 593.18 331.02Z" fill="#cccccc" stroke="#fff" stroke-width="0.6"/>
<path d="M594.81 344.49A52.7 52.7 0 0 1 591.85 345.28L588.79 332.34A39.4 39.4 0 0 0 591 331.74Z" fill="#cccccc" stroke="#fff" stroke-width="0.6"/>
<path d="M591.85 345.28A52.7 52.7 0 0 1 588.85 345.9L586.54 332.8A39.4 39.4 0 0 0 588.79 332.34Z" fill="#cccccc" stroke="#fff" stroke-width="0.6"/>
<path d="M588.85 345.9A52.7 52.7 0 0 1 585.82 346.34L584.27 333.13A39.4 39.4 0 0 0 586.54 332.8Z" fill="#cccccc" stroke="#fff" stroke-width="0.6"/>
<path d="M585.82 346.34A52.7 52.7 0 0 1 582.76 346.61L581.99 333.33A39.4 39.4 0 0 0 584.27 333.13Z" fill="#cccccc" stroke="#fff" stroke-width="0.6"/>
<path d="M582.76 346.61A52.7 52.7 0 0 1 579.7 346.7L579.7 333.4A39.4 39.4 0 0 0 581.99 333.33Z" fill="#cccccc" stroke="#fff" stroke-width="0.6"/>
<path d="M579.7 346.7A52.7 52.7 0 0 1 576.64 346.61L577.41 333.33A39.4 39.4 0 0 0 579.7 333.4Z" fill="#cccccc" stroke="#fff" stroke-width="0.6"/>
<path d="M576.64 346.61A52.7 52.7 0 0 1 573.58 346.34L575.13 333.13A39.4 39.4 0 0 0 577.41 333.33Z" fill="#cccccc" stroke="#fff" stroke-width="0.6"/>
<path d="M573.58 346.34A52.7 52.7 0 0 1 570.55 345.9L572.86 332.8A39.4 39.4 0 0 0 575.13 333.13Z" fill="#cccccc" stroke="#fff" stroke-width="0.6"/>
<path d="M570.55 345.9A52.7 52.7 0 0 1 567.55 345.28L570.61 332.34A39.4 39.4 0 0 0 572.86 332.8Z" fill="#cccccc" stroke="#fff" stroke-width="0.6"/>
<path d="M567.55 345.28A52.7 52.7 0 0 1 564.59 344.49L568.4 331.74A39.4 39.4 0 0 0 570.61 332.34Z" fill="#cccccc" stroke="#fff" stroke-width="0.6"/>
<path d="M564.59 344.49A52.7 52.7 0 0 1 561.68 343.52L566.22 331.02A39.4 39.4 0 0 0 568.4 331.74Z" fill="#cccccc" stroke="#fff" stroke-width="0.6"/>
<path d="M561.68 343.52A52.7 52.7 0 0 1 558.26 342.14L563.67 329.99A39.4 39.4 0 0 0 566.22 331.02Z" fill="#777777" stroke="#fff" stroke-width="0.6"/>
<path d="M558.26 342.14A52.7 52.7 0 0 1 554.96 340.53L561.2 328.79A39.4 39.4 0 0 0 563.67 329.99Z" fill="#777777" stroke="#fff" stroke-width="0.6"/>
<path d="M554.96 340.53A52.7 52.7 0 0 1 551.77 338.69L558.82 327.41A39.4 39.4 0 0 0 561.2 328.79Z" fill="#cccccc" stroke="#fff" stroke-width="0.6"/>
<path d="M551.77 338.69A52.7 52.7 0 0 1 548.72 336.64L556.54 325.88A39.4 39.4 0 0 0 558.82 327.41Z" fill="#777777" stroke="#fff" stroke-width="0.6"/>
<path d="M548.72 336.64A52.7 52.7 0 0 1 546 334.52L554.51 324.29A39.4 39.4 0 0 0 556.54 325.88Z" fill="#cccccc" stroke="#fff" stroke-width="0.6"/>
<path d="M546 334.52A52.7 52.7 0 0 1 543.42 332.23L552.58 322.58A39.4 39.4 0 0 0 554.51 324.29Z" fill="#cccccc" stroke="#fff" stroke-width="0.6"/>
<path d="M543.42 332.23A52.7 52.7 0 0 1 541 329.77L550.77 320.74A39.4 39.4 0 0 0 552.58 322.58Z" fill="#cccccc" stroke="#fff" stroke-width="0.6"/>
<path d="M541 329.77A52.7 52.7 0 0 1 538.74 327.17L549.08 318.8A39.4 39.4 0 0 0 550.77 320.74Z" fill="#cccccc" stroke="#fff" stroke-width="0.6"/>
<path d="M538.74 327.17A52.7 52.7 0 0 1 532.74 317.93L544.59 311.89A39.4 39.4 0 0 0 549.08 318.8Z" fill="#e8321e" stroke="#fff" stroke-width="0.6"/>
<path d="M532.74 317.93A52.7 52.7 0 0 1 531.19 314.59L543.43 309.39A39.4 39.4 0 0 0 544.59 311.89Z" fill="#cccccc" stroke="#fff" stroke-width="0.6"/>
<path d="M531.19 314.59A52.7 52.7 0 0 1 529.87 311.16L542.45 306.83A39.4 39.4 0 0 0 543.43 309.39Z" fill="#cccccc" stroke="#fff" stroke-width="0.6"/>
<path d="M529.87 311.16A52.7 52.7 0 0 1 528.8 307.64L541.64 304.2A39.4 39.4 0 0 0 542.45 306.83Z" fill="#cccccc" stroke="#fff" stroke-width="0.6"/>
<path d="M528.8 307.64A52.7 52.7 0 0 1 527.97 304.06L541.02 301.52A39.4 39.4 0 0 0 541.64 304.2Z" fill="#cccccc" stroke="#fff" stroke-width="0.6"/>
<path d="M527.97 304.06A52.7 52.7 0 0 1 527.39 300.42L540.59 298.8A39.4 39.4 0 0 0 541.02 301.52Z" fill="#cccccc" stroke="#fff" stroke-width="0.6"/>
<path d="M527.39 300.42A52.7 52.7 0 0 1 527.07 296.76L540.35 296.06A39.4 39.4 0 0 0 540.59 298.8Z" fill="#cccccc" stroke="#fff" stroke-width="0.6"/>
<path d="M527.07 296.76A52.7 52.7 0 0 1 527.01 293.08L540.31 293.31A39.4 39.4 0 0 0 540.35 296.06Z" fill="#cccccc" stroke="#fff" stroke-width="0.6"/>
<path d="M527.01 293.08A52.7 52.7 0 0 1 527.2 289.41L540.45 290.57A39.4 39.4 0 0 0 540.31 293.31Z" fill="#cccccc" stroke="#fff" stroke-width="0.6"/>
<path d="M527.2 289.41A52.7 52.7 0 0 1 527.59 286.13L540.74 288.12A39.4 39.4 0 0 0 540.45 290.57Z" fill="#cccccc" stroke="#fff" stroke-width="0.6"/>
<path d="M527.59 286.13A52.7 52.7 0 0 1 528.18 282.89L541.18 285.7A39.4 39.4 0 0 0 540.74 288.12Z" fill="#cccccc" stroke="#fff" stroke-width="0.6"/>
<path d="M528.18 282.89A52.7 52.7 0 0 1 528.98 279.7L541.78 283.31A39.4 39.4 0 0 0 541.18 285.7Z" fill="#cccccc" stroke="#fff" stroke-width="0.6"/>
<path d="M528.98 279.7A52.7 52.7 0 0 1 529.97 276.55L542.52 280.96A39.4 39.4 0 0 0 541.78 283.31Z" fill="#cccccc" stroke="#fff" stroke-width="0.6"/>
<path d="M529.97 276.55A52.7 52.7 0 0 1 531.16 273.48L543.41 278.66A39.4 39.4 0 0 0 542.52 280.96Z" fill="#cccccc" stroke="#fff" stroke-width="0.6"/>
<path d="M531.16 273.48A52.7 52.7 0 0 1 532.54 270.49L544.44 276.42A39.4 39.4 0 0 0 543.41 278.66Z" fill="#cccccc" stroke="#fff" stroke-width="0.6"/>
<path d="M532.54 270.49A52.7 52.7 0 0 1 534.1 267.58L545.61 274.25A39.4 39.4 0 0 0 544.44 276.42Z" fill="#cccccc" stroke="#fff" stroke-width="0.6"/>
<path d="M534.1 267.58A52.7 52.7 0 0 1 535.84 264.79L546.91 272.16A39.4 39.4 0 0 0 545.61 274.25Z" fill="#cccccc" stroke="#fff" stroke-width="0.6"/>
<path d="M535.84 264.79A52.7 52.7 0 0 1 537.75 262.1L548.34 270.15A39.4 39.4 0 0 0 546.91 272.16Z" fill="#cccccc" stroke="#fff" stroke-width="0.6"/>
<path d="M537.75 262.1A52.7 52.7 0 0 1 539.83 259.54L549.89 268.24A39.4 39.4 0 0 0 548.34 270.15Z" fill="#cccccc" stroke="#fff" stroke-width="0.6"/>
<path d="M539.83 259.54A52.7 52.7 0 0 1 542.06 257.12L551.56 266.43A39.4 39.4 0 0 0 549.89 268.24Z" fill="#cccccc" stroke="#fff" stroke-width="0.6"/>
<path d="M542.06 257.12A52.7 52.7 0 0 1 544.44 254.84L553.34 264.72A39.4 39.4 0 0 0 551.56 266.43Z" fill="#cccccc" stroke="#fff" stroke-width="0.6"/>
<path d="M544.44 254.84A52.7 52.7 0 0 1 555.77 247.04L561.81 258.89A39.4 39.4 0 0 0 553.34 264.72Z" fill="#cccccc" stroke="#fff" stroke-width="0.6"/>
<path d="M555.77 247.04A52.7 52.7 0 0 1 564.29 243.6L568.18 256.32A39.4 39.4 0 0 0 561.81 258.89Z" fill="#cccccc" stroke="#fff" stroke-width="0.6"/>
<path d="M564.29 243.6A52.7 52.7 0 0 1 572.37 241.81L574.22 254.98A39.4 39.4 0 0 0 568.18 256.32Z" fill="#cccccc" stroke="#fff" stroke-width="0.6"/>
<path d="M572.37 241.81A52.7 52.7 0 0 1 579.7 241.3L579.7 254.6A39.4 39.4 0 0 0 574.22 254.98Z" fill="#cccccc" stroke="#fff" stroke-width="0.6"/>
<path d="M579.7 228A66 66 0 0 1 583.89 228.13L583.04 241.41A52.7 52.7 0 0 0 579.7 241.3Z" fill="#cccccc" stroke="#fff" stroke-width="0.6"/>
<path d="M583.89 228.13A66 66 0 0 1 588.06 228.53L586.37 241.72A52.7 52.7 0 0 0 583.04 241.41Z" fill="#cccccc" stroke="#fff" stroke-width="0.6"/>
<path d="M588.06 228.53A66 66 0 0 1 592.19 229.19L589.67 242.25A52.7 52.7 0 0 0 586.37 241.72Z" fill="#777777" stroke="#fff" stroke-width="0.6"/>
<path d="M592.19 229.19A66 66 0 0 1 596.28 230.12L592.94 242.99A52.7 52.7 0 0 0 589.67 242.25Z" fill="#777777" stroke="#fff" stroke-width="0.6"/>
<path d="M596.28 230.12A66 66 0 0 1 600.29 231.3L596.14 243.93A52.7 52.7 0 0 0 592.94 242.99Z" fill="#cccccc" stroke="#fff" stroke-width="0.6"/>
<path d="M600.29 231.3A66 66 0 0 1 604.23 232.73L599.29 245.08A52.7 52.7 0 0 0 596.14 243.93Z" fill="#777777" stroke="#fff" stroke-width="0.6"/>
<path d="M604.23 232.73A66 66 0 0 1 608.07 234.41L602.35 246.42A52.7 52.7 0 0 0 599.29 245.08Z" fill="#cccccc" stroke="#fff" stroke-width="0.6"/>
<path d="M608.07 234.41A66 66 0 0 1 611.79 236.33L605.32 247.95A52.7 52.7 0 0 0 602.35 246.42Z" fill="#cccccc" stroke="#fff" stroke-width="0.6"/>
<path d="M611.79 236.33A66 66 0 0 1 615.38 238.48L608.19 249.67A52.7 52.7 0 0 0 605.32 247.95Z" fill="#cccccc" stroke="#fff" stroke-width="0.6"/>
<path d="M615.38 238.48A66 66 0 0 1 618.83 240.85L610.95 251.56A52.7 52.7 0 0 0 608.19 249.67Z" fill="#777777" stroke="#fff" stroke-width="0.6"/>
<path d="M618.83 240.85A66 66 0 0 1 622.12 243.44L613.57 253.63A52.7 52.7 0 0 0 610.95 251.56Z" fill="#cccccc" stroke="#fff" stroke-width="0.6"/>
<path d="M626.77 247.74A66 66 0 0 1 629.13 250.27L619.17 259.08A52.7 52.7 0 0 0 617.29 257.06Z" fill="#cccccc" stroke="#fff" stroke-width="0.6"/>
<path d="M629.51 250.7A66 66 0 0 1 631.71 253.37L621.23 261.55A52.7 52.7 0 0 0 619.47 259.43Z" fill="#777777" stroke="#fff" stroke-width="0.6"/>
<path d="M634.09 256.62A66 66 0 0 1 635.97 259.52L624.63 266.46A52.7 52.7 0 0 0 623.13 264.15Z" fill="#cccccc" stroke="#fff" stroke-width="0.6"/>
<path d="M645.69 295.15A66 66 0 0 1 645.21 302.04L632.01 300.42A52.7 52.7 0 0 0 632.39 294.92Z" fill="#777777" stroke="#fff" stroke-width="0.6"/>
<path d="M645.21 302.04A66 66 0 0 1 644.01 308.85L631.05 305.85A52.7 52.7 0 0 0 632.01 300.42Z" fill="#cccccc" stroke="#fff" stroke-width="0.6"/>
<path d="M644.01 308.85A66 66 0 0 1 642.1 315.49L629.53 311.16A52.7 52.7 0 0 0 631.05 305.85Z" fill="#a3bfe2" stroke="#fff" stroke-width="0.6"/>
<path d="M642.1 315.49A66 66 0 0 1 640.51 319.66L628.26 314.49A52.7 52.7 0 0 0 629.53 311.16Z" fill="#cccccc" stroke="#fff" stroke-width="0.6"/>
<path d="M640.51 319.66A66 66 0 0 1 638.64 323.71L626.76 317.72A52.7 52.7 0 0 0 628.26 314.49Z" fill="#cccccc" stroke="#fff" stroke-width="0.6"/>
<path d="M638.64 323.71A66 66 0 0 1 636.49 327.62L625.05 320.85A52.7 52.7 0 0 0 626.76 317.72Z" fill="#cccccc" stroke="#fff" stroke-width="0.6"/>
<path d="M636.49 327.62A66 66 0 0 1 634.09 331.38L623.13 323.85A52.7 52.7 0 0 0 625.05 320.85Z" fill="#777777" stroke="#fff" stroke-width="0.6"/>
<path d="M634.09 331.38A66 66 0 0 1 631.44 334.97L621.01 326.72A52.7 52.7 0 0 0 623.13 323.85Z" fill="#cccccc" stroke="#fff" stroke-width="0.6"/>
<path d="M631.44 334.97A66 66 0 0 1 628.55 338.38L618.71 329.43A52.7 52.7 0 0 0 621.01 326.72Z" fill="#cccccc" stroke="#fff" stroke-width="0.6"/>
<path d="M628.55 338.38A66 66 0 0 1 625.44 341.58L616.23 331.99A52.7 52.7 0 0 0 618.71 329.43Z" fill="#cccccc" stroke="#fff" stroke-width="0.6"/>
<path d="M625.44 341.58A66 66 0 0 1 622.12 344.56L613.57 334.37A52.7 52.7 0 0 0 616.23 331.99Z" fill="#cccccc" stroke="#fff" stroke-width="0.6"/>
<path d="M622.12 344.56A66 66 0 0 1 618.49 347.4L610.68 336.64A52.7 52.7 0 0 0 613.57 334.37Z" fill="#cccccc" stroke="#fff" stroke-width="0.6"/>
<path d="M618.49 347.4A66 66 0 0 1 614.67 349.97L607.63 338.69A52.7 52.7 0 0 0 610.68 336.64Z" fill="#cccccc" stroke="#fff" stroke-width="0.6"/>
<path d="M572.8 359.64A66 66 0 0 1 568.24 359L570.55 345.9A52.7 52.7 0 0 0 574.19 346.41Z" fill="#cccccc" stroke="#fff" stroke-width="0.6"/>
<path d="M568.24 359A66 66 0 0 1 563.73 358.04L566.95 345.13A52.7 52.7 0 0 0 570.55 345.9Z" fill="#777777" stroke="#fff" stroke-width="0.6"/>
<path d="M563.73 358.04A66 66 0 0 1 559.3 356.77L563.41 344.12A52.7 52.7 0 0 0 566.95 345.13Z" fill="#cccccc" stroke="#fff" stroke-width="0.6"/>
<path d="M559.3 356.77A66 66 0 0 1 554.98 355.19L559.96 342.86A52.7 52.7 0 0 0 563.41 344.12Z" fill="#777777" stroke="#fff" stroke-width="0.6"/>
<path d="M554.98 355.19A66 66 0 0 1 550.77 353.32L556.6 341.37A52.7 52.7 0 0 0 559.96 342.86Z" fill="#777777" stroke="#fff" stroke-width="0.6"/>
<path d="M550.77 353.32A66 66 0 0 1 546.7 351.16L553.35 339.64A52.7 52.7 0 0 0 556.6 341.37Z" fill="#cccccc" stroke="#fff" stroke-width="0.6"/>
<path d="M546.7 351.16A66 66 0 0 1 542.79 348.72L550.23 337.69A52.7 52.7 0 0 0 553.35 339.64Z" fill="#cccccc" stroke="#fff" stroke-width="0.6"/>
<path d="M542.79 348.72A66 66 0 0 1 539.07 346.01L547.25 335.53A52.7 52.7 0 0 0 550.23 337.69Z" fill="#777777" stroke="#fff" stroke-width="0.6"/>
<path d="M539.07 346.01A66 66 0 0 1 535.54 343.05L544.44 333.16A52.7 52.7 0 0 0 547.25 335.53Z" fill="#cccccc" stroke="#fff" stroke-width="0.6"/>
<path d="M535.54 343.05A66 66 0 0 1 532.22 339.85L541.79 330.61A52.7 52.7 0 0 0 544.44 333.16Z" fill="#cccccc" stroke="#fff" stroke-width="0.6"/>
<path d="M532.22 339.85A66 66 0 0 1 529.14 336.42L539.33 327.87A52.7 52.7 0 0 0 541.79 330.61Z" fill="#777777" stroke="#fff" stroke-width="0.6"/>
<path d="M527.34 334.18A66 66 0 0 1 525.31 331.38L536.27 323.85A52.7 52.7 0 0 0 537.89 326.08Z" fill="#7767b3" stroke="#fff" stroke-width="0.6"/>
<path d="M524.98 330.91A66 66 0 0 1 522.54 327L534.06 320.35A52.7 52.7 0 0 0 536.01 323.47Z" fill="#cccccc" stroke="#fff" stroke-width="0.6"/>
<path d="M522.54 327A66 66 0 0 1 520.38 322.93L532.33 317.1A52.7 52.7 0 0 0 534.06 320.35Z" fill="#cccccc" stroke="#fff" stroke-width="0.6"/>
<path d="M520.38 322.93A66 66 0 0 1 518.51 318.72L530.84 313.74A52.7 52.7 0 0 0 532.33 317.1Z" fill="#cccccc" stroke="#fff" stroke-width="0.6"/>
<path d="M515.52 309.41A66 66 0 0 1 514.7 305.46L527.8 303.15A52.7 52.7 0 0 0 528.46 306.3Z" fill="#cccccc" stroke="#fff" stroke-width="0.6"/>
<path d="M514.42 303.76A66 66 0 0 1 513.95 299.75L527.2 298.59A52.7 52.7 0 0 0 527.58 301.79Z" fill="#cccccc" stroke="#fff" stroke-width="0.6"/>
<path d="M513.86 298.6A66 66 0 0 1 513.7 294.58L527 294.46A52.7 52.7 0 0 0 527.13 297.68Z" fill="#cccccc" stroke="#fff" stroke-width="0.6"/>
<path d="M515.66 278.03A66 66 0 0 1 517.3 272.51L529.87 276.84A52.7 52.7 0 0 0 528.57 281.25Z" fill="#cccccc" stroke="#fff" stroke-width="0.6"/>
<path d="M517.68 271.43A66 66 0 0 1 519.88 266.11L531.94 271.73A52.7 52.7 0 0 0 530.18 275.98Z" fill="#cccccc" stroke="#fff" stroke-width="0.6"/>
<path d="M537.28 243.44A66 66 0 0 1 549.74 235.19L555.77 247.04A52.7 52.7 0 0 0 545.83 253.63Z" fill="#cccccc" stroke="#fff" stroke-width="0.6"/>
<path d="M549.74 235.19A66 66 0 0 1 557.13 231.98L561.68 244.48A52.7 52.7 0 0 0 555.77 247.04Z" fill="#cccccc" stroke="#fff" stroke-width="0.6"/>
<path d="M557.13 231.98A66 66 0 0 1 561.51 230.56L565.17 243.34A52.7 52.7 0 0 0 561.68 244.48Z" fill="#cccccc" stroke="#fff" stroke-width="0.6"/>
<path d="M561.51 230.56A66 66 0 0 1 565.98 229.44L568.74 242.45A52.7 52.7 0 0 0 565.17 243.34Z" fill="#cccccc" stroke="#fff" stroke-width="0.6"/>
<path d="M565.98 229.44A66 66 0 0 1 570.51 228.64L572.37 241.81A52.7 52.7 0 0 0 568.74 242.45Z" fill="#cccccc" stroke="#fff" stroke-width="0.6"/>
<path d="M570.51 228.64A66 66 0 0 1 575.1 228.16L576.02 241.43A52.7 52.7 0 0 0 572.37 241.81Z" fill="#cccccc" stroke="#fff" stroke-width="0.6"/>
<path d="M639.55 241.97A79.3 79.3 0 0 1 642.19 245.18L631.71 253.37A66 66 0 0 0 629.51 250.7Z" fill="#777777" stroke="#fff" stroke-width="0.6"/>
<path d="M658.99 295.38A79.3 79.3 0 0 1 658.57 302.29L645.34 300.9A66 66 0 0 0 645.69 295.15Z" fill="#777777" stroke="#fff" stroke-width="0.6"/>
<path d="M658.57 302.29A79.3 79.3 0 0 1 657.8 307.77L644.7 305.46A66 66 0 0 0 645.34 300.9Z" fill="#cccccc" stroke="#fff" stroke-width="0.6"/>
<path d="M657.8 307.77A79.3 79.3 0 0 1 656.64 313.18L643.74 309.97A66 66 0 0 0 644.7 305.46Z" fill="#cccccc" stroke="#fff" stroke-width="0.6"/>
<path d="M656.64 313.18A79.3 79.3 0 0 1 655.12 318.51L642.47 314.4A66 66 0 0 0 643.74 309.97Z" fill="#777777" stroke="#fff" stroke-width="0.6"/>
<path d="M653.23 323.71A79.3 79.3 0 0 1 650.97 328.76L639.02 322.93A66 66 0 0 0 640.89 318.72Z" fill="#cccccc" stroke="#fff" stroke-width="0.6"/>
<path d="M650.97 328.76A79.3 79.3 0 0 1 648.38 333.65L636.86 327A66 66 0 0 0 639.02 322.93Z" fill="#cccccc" stroke="#fff" stroke-width="0.6"/>
<path d="M557.84 370.23A79.3 79.3 0 0 1 552.14 368.36L556.77 355.89A66 66 0 0 0 561.51 357.44Z" fill="#777777" stroke="#fff" stroke-width="0.6"/>
<path d="M552.14 368.36A79.3 79.3 0 0 1 546.61 366.06L552.16 353.98A66 66 0 0 0 556.77 355.89Z" fill="#cccccc" stroke="#fff" stroke-width="0.6"/>
<path d="M546.61 366.06A79.3 79.3 0 0 1 541.25 363.36L547.7 351.72A66 66 0 0 0 552.16 353.98Z" fill="#777777" stroke="#fff" stroke-width="0.6"/>
<path d="M541.25 363.36A79.3 79.3 0 0 1 536.12 360.25L543.43 349.14A66 66 0 0 0 547.7 351.72Z" fill="#777777" stroke="#fff" stroke-width="0.6"/>
<path d="M536.12 360.25A79.3 79.3 0 0 1 531.24 356.77L539.37 346.24A66 66 0 0 0 543.43 349.14Z" fill="#cccccc" stroke="#fff" stroke-width="0.6"/>
<path d="M531.24 356.77A79.3 79.3 0 0 1 526.64 352.93L535.54 343.05A66 66 0 0 0 539.37 346.24Z" fill="#cccccc" stroke="#fff" stroke-width="0.6"/>
<path d="M513.96 338.34A79.3 79.3 0 0 1 511.37 334.25L522.83 327.5A66 66 0 0 0 524.98 330.91Z" fill="#777777" stroke="#fff" stroke-width="0.6"/>
<path d="M511.37 334.25A79.3 79.3 0 0 1 509.36 330.62L521.16 324.48A66 66 0 0 0 522.83 327.5Z" fill="#a3bfe2" stroke="#fff" stroke-width="0.6"/>
<path d="M509.36 330.62A79.3 79.3 0 0 1 507.54 326.89L519.64 321.37A66 66 0 0 0 521.16 324.48Z" fill="#777777" stroke="#fff" stroke-width="0.6"/>
<path d="M502.59 312.51A79.3 79.3 0 0 1 501.6 307.77L514.7 305.46A66 66 0 0 0 515.52 309.41Z" fill="#cccccc" stroke="#fff" stroke-width="0.6"/>
<path d="M500.59 299.53A79.3 79.3 0 0 1 500.4 294.69L513.7 294.58A66 66 0 0 0 513.86 298.6Z" fill="#cccccc" stroke="#fff" stroke-width="0.6"/>
<path d="M528.73 233.25A79.3 79.3 0 0 1 533.09 229.84L540.91 240.6A66 66 0 0 0 537.28 243.44Z" fill="#cccccc" stroke="#fff" stroke-width="0.6"/>
<path d="M534.78 228.65A79.3 79.3 0 0 1 539.45 225.67L546.2 237.13A66 66 0 0 0 542.32 239.61Z" fill="#cccccc" stroke="#fff" stroke-width="0.6"/>
<path d="M541.25 224.64A79.3 79.3 0 0 1 546.19 222.13L551.81 234.18A66 66 0 0 0 547.7 236.28Z" fill="#cccccc" stroke="#fff" stroke-width="0.6"/>
<path d="M548.08 221.28A79.3 79.3 0 0 1 553.23 219.25L557.67 231.79A66 66 0 0 0 553.38 233.47Z" fill="#cccccc" stroke="#fff" stroke-width="0.6"/>
<path d="M555.19 218.58A79.3 79.3 0 0 1 561.86 216.73L564.85 229.69A66 66 0 0 0 559.3 231.23Z" fill="#777777" stroke="#fff" stroke-width="0.6"/>
<path d="M565.93 215.9A79.3 79.3 0 0 1 571.41 215.13L572.8 228.36A66 66 0 0 0 568.24 229Z" fill="#cccccc" stroke="#fff" stroke-width="0.6"/>
<path d="M502.04 344.43A92.6 92.6 0 0 1 499.51 340.3L511.02 333.65A79.3 79.3 0 0 0 513.19 337.19Z" fill="#cccccc" stroke="#fff" stroke-width="0.6"/>
<path d="M498.71 338.89A92.6 92.6 0 0 1 496.12 333.87L508.12 328.14A79.3 79.3 0 0 0 510.34 332.45Z" fill="#cccccc" stroke="#fff" stroke-width="0.6"/>
<path d="M487.33 300.46A92.6 92.6 0 0 1 487.1 294.81L500.4 294.69A79.3 79.3 0 0 0 500.59 299.53Z" fill="#cccccc" stroke="#fff" stroke-width="0.6"/>
<path d="M540.57 210.08A92.6 92.6 0 0 1 546.52 207.55L551.28 219.97A79.3 79.3 0 0 0 546.19 222.13Z" fill="#cccccc" stroke="#fff" stroke-width="0.6"/>
<path d="M552.63 205.45A92.6 92.6 0 0 1 558.08 203.96L561.19 216.89A79.3 79.3 0 0 0 556.51 218.17Z" fill="#cccccc" stroke="#fff" stroke-width="0.6"/>
<circle cx="579.7" cy="294" r="12.8" fill="#ff0505" stroke="#fff" stroke-width="0.6"/>
<circle cx="579.7" cy="294" r="12.8" fill="none" stroke="#fff" stroke-width="0.6"/>
<text x="423.8" y="206" font-size="5.6" fill="#333">-log10 Q-value</text>
<rect x="424.2" y="208.8" width="6.6" height="5.9" fill="#cccccc"/>
<text x="433" y="213.9" font-size="5.8" fill="#333">too few genes</text>
<rect x="424.2" y="216.95" width="6.6" height="5.9" fill="#777777"/>
<text x="433" y="222.05" font-size="5.8" fill="#333">not significant</text>
<rect x="424.2" y="225.1" width="6.6" height="5.9" fill="#a3bfe2"/>
<text x="433" y="230.2" font-size="5.8" fill="#333">2</text>
<rect x="424.2" y="233.25" width="6.6" height="5.9" fill="#8a94c8"/>
<text x="433" y="238.35" font-size="5.8" fill="#333">3</text>
<rect x="424.2" y="241.4" width="6.6" height="5.9" fill="#7767b3"/>
<text x="433" y="246.5" font-size="5.8" fill="#333">4</text>
<rect x="424.2" y="249.55" width="6.6" height="5.9" fill="#a54a70"/>
<text x="433" y="254.65" font-size="5.8" fill="#333">5</text>
<rect x="424.2" y="257.7" width="6.6" height="5.9" fill="#e02424"/>
<text x="433" y="262.8" font-size="5.8" fill="#333">≥6</text>
<text x="414.5" y="201.6" font-size="10" font-weight="bold" fill="#000">c</text>
<text x="586.6" y="222" font-size="8" font-weight="bold" fill="#111" textLength="97" lengthAdjust="spacingAndGlyphs">Maintenance of Synapse</text>
<text x="586.6" y="230.2" font-size="8" font-weight="bold" fill="#111" textLength="38.5" lengthAdjust="spacingAndGlyphs">Structure</text>
<text x="630" y="279.3" font-size="8" font-weight="bold" fill="#111" textLength="52" lengthAdjust="spacingAndGlyphs">SV Exocytosis</text>
<text x="636.8" y="337" font-size="8" font-weight="bold" fill="#111" textLength="43.4" lengthAdjust="spacingAndGlyphs">SV Priming</text>
<text x="424.1" y="314.3" font-size="8" font-weight="bold" fill="#111" textLength="108.2" lengthAdjust="spacingAndGlyphs">Postsynaptic Modulation of</text>
<text x="424.1" y="323.4" font-size="8" font-weight="bold" fill="#111" textLength="100.6" lengthAdjust="spacingAndGlyphs">Chem. Syn. Transmission</text>
<text x="434" y="353" font-size="8" font-weight="bold" fill="#111" textLength="81.6" lengthAdjust="spacingAndGlyphs">Modulation of Chem.</text>
<text x="434" y="362.1" font-size="8" font-weight="bold" fill="#111" textLength="72.1" lengthAdjust="spacingAndGlyphs">Syn. Transmission</text>
<text x="526" y="368.3" font-size="8" font-weight="bold" fill="#111" textLength="107.2" lengthAdjust="spacingAndGlyphs">Regulation of Postsynaptic</text>
<text x="526" y="377.2" font-size="8" font-weight="bold" fill="#111" textLength="44.1" lengthAdjust="spacingAndGlyphs">NTR Levels</text>
<line x1="622.7" y1="234.6" x2="610.9" y2="269.4" stroke="#111" stroke-width="0.7" marker-end="url(#ah)"/>
<line x1="642.4" y1="279.9" x2="627.2" y2="300.1" stroke="#111" stroke-width="0.7" marker-end="url(#ah)"/>
<line x1="660.9" y1="329.3" x2="641.6" y2="312.9" stroke="#111" stroke-width="0.7" marker-end="url(#ah)"/>
<line x1="489" y1="324.2" x2="511.8" y2="332.1" stroke="#111" stroke-width="0.7" marker-end="url(#ah)"/>
<line x1="504.2" y1="347" x2="527" y2="332.7" stroke="#111" stroke-width="0.7" marker-end="url(#ah)"/>
<line x1="545.3" y1="360.3" x2="562.9" y2="328.5" stroke="#111" stroke-width="0.7" marker-end="url(#ah)"/>
<path fill="#0aa64e" d="M46.65 473.1h12.25v3.71h-12.25zM71.15 473.1h12.25v3.71h-12.25zM34.4 476.81h12.25v3.71h-12.25zM46.65 480.52h12.25v3.71h-12.25zM34.4 484.23h12.25v3.71h-12.25zM46.65 487.94h12.25v3.71h-12.25zM46.65 491.65h12.25v3.71h-12.25zM46.65 495.36h12.25v3.71h-12.25zM34.4 499.07h12.25v3.71h-12.25zM71.15 502.78h12.25v3.71h-12.25zM34.4 506.49h12.25v3.71h-12.25zM71.15 506.49h12.25v3.71h-12.25zM46.65 510.2h12.25v3.71h-12.25zM71.15 510.2h12.25v3.71h-12.25zM71.15 513.91h12.25v3.71h-12.25zM58.9 517.62h12.25v3.71h-12.25zM71.15 521.33h12.25v3.71h-12.25zM71.15 525.04h12.25v3.71h-12.25zM34.4 528.75h12.25v3.71h-12.25zM46.65 528.75h12.25v3.71h-12.25zM58.9 532.46h12.25v3.71h-12.25zM34.4 536.17h12.25v3.71h-12.25zM71.15 536.17h12.25v3.71h-12.25zM46.65 539.88h12.25v3.71h-12.25zM34.4 543.59h12.25v3.71h-12.25zM46.65 547.3h12.25v3.71h-12.25zM46.65 551.01h12.25v3.71h-12.25zM34.4 554.72h12.25v3.71h-12.25zM46.65 554.72h12.25v3.71h-12.25zM71.15 558.43h12.25v3.71h-12.25zM34.4 562.14h12.25v3.71h-12.25zM46.65 565.85h12.25v3.71h-12.25zM71.15 569.56h12.25v3.71h-12.25zM58.9 573.27h12.25v3.71h-12.25zM71.15 573.27h12.25v3.71h-12.25zM58.9 576.98h12.25v3.71h-12.25zM46.65 580.69h12.25v3.71h-12.25zM34.4 584.4h12.25v3.71h-12.25zM34.4 588.11h12.25v3.71h-12.25zM34.4 591.82h12.25v3.71h-12.25zM46.65 591.82h12.25v3.71h-12.25zM46.65 595.53h12.25v3.71h-12.25zM46.65 599.24h12.25v3.71h-12.25zM71.15 599.24h12.25v3.71h-12.25zM34.4 602.95h12.25v3.71h-12.25zM71.15 602.95h12.25v3.71h-12.25zM34.4 606.66h12.25v3.71h-12.25zM46.65 606.66h12.25v3.71h-12.25zM58.9 610.37h12.25v3.71h-12.25zM46.65 614.08h12.25v3.71h-12.25zM71.15 614.08h12.25v3.71h-12.25zM46.65 617.79h12.25v3.71h-12.25zM46.65 621.5h12.25v3.71h-12.25zM46.65 625.21h12.25v3.71h-12.25zM34.4 628.92h12.25v3.71h-12.25zM46.65 628.92h12.25v3.71h-12.25zM34.4 632.63h12.25v3.71h-12.25zM71.15 636.34h12.25v3.71h-12.25zM46.65 640.05h12.25v3.71h-12.25zM58.9 640.05h12.25v3.71h-12.25zM34.4 643.76h12.25v3.71h-12.25zM46.65 643.76h12.25v3.71h-12.25zM46.65 647.47h12.25v3.71h-12.25zM34.4 651.18h12.25v3.71h-12.25zM71.15 654.89h12.25v3.71h-12.25zM46.65 658.6h12.25v3.71h-12.25zM34.4 662.31h12.25v3.71h-12.25zM46.65 666.02h12.25v3.71h-12.25zM71.15 666.02h12.25v3.71h-12.25zM71.15 669.73h12.25v3.71h-12.25zM71.15 673.44h12.25v3.71h-12.25zM46.65 677.15h12.25v3.71h-12.25zM46.65 680.86h12.25v3.71h-12.25zM71.15 684.57h12.25v3.71h-12.25zM71.15 688.28h12.25v3.71h-12.25zM34.4 691.99h12.25v3.71h-12.25zM71.15 695.7h12.25v3.71h-12.25zM71.15 699.41h12.25v3.71h-12.25zM71.15 703.12h12.25v3.71h-12.25zM71.15 706.83h12.25v3.71h-12.25zM71.15 710.54h12.25v3.71h-12.25zM34.4 714.25h12.25v3.71h-12.25zM46.65 714.25h12.25v3.71h-12.25zM34.4 717.96h12.25v3.71h-12.25zM71.15 717.96h12.25v3.71h-12.25zM71.15 721.67h12.25v3.71h-12.25zM46.65 725.38h12.25v3.71h-12.25zM71.15 725.38h12.25v3.71h-12.25zM34.4 729.09h12.25v3.71h-12.25zM46.65 729.09h12.25v3.71h-12.25zM46.65 732.8h12.25v3.71h-12.25zM46.65 736.51h12.25v3.71h-12.25zM46.65 740.22h12.25v3.71h-12.25zM46.65 743.93h12.25v3.71h-12.25zM71.15 743.93h12.25v3.71h-12.25zM46.65 747.64h12.25v3.71h-12.25zM34.4 751.35h12.25v3.71h-12.25zM71.15 751.35h12.25v3.71h-12.25zM58.9 755.06h12.25v3.71h-12.25zM34.4 758.77h12.25v3.71h-12.25zM34.4 762.48h12.25v3.71h-12.25zM34.4 766.19h12.25v3.71h-12.25zM46.65 766.19h12.25v3.71h-12.25zM34.4 769.9h12.25v3.71h-12.25zM71.15 769.9h12.25v3.71h-12.25zM46.65 773.61h12.25v3.71h-12.25zM71.15 773.61h12.25v3.71h-12.25zM46.65 777.32h12.25v3.71h-12.25zM71.15 777.32h12.25v3.71h-12.25zM46.65 781.03h12.25v3.71h-12.25zM34.4 784.74h12.25v3.71h-12.25zM46.65 788.45h12.25v3.71h-12.25zM34.4 792.16h12.25v3.71h-12.25zM71.15 792.16h12.25v3.71h-12.25zM34.4 795.87h12.25v3.71h-12.25zM46.65 795.87h12.25v3.71h-12.25zM34.4 799.58h12.25v3.71h-12.25zM46.65 799.58h12.25v3.71h-12.25zM34.4 803.29h12.25v3.71h-12.25zM34.4 807h12.25v3.71h-12.25zM46.65 807h12.25v3.71h-12.25zM71.15 807h12.25v3.71h-12.25zM46.65 810.71h12.25v3.71h-12.25zM34.4 814.42h12.25v3.71h-12.25zM46.65 814.42h12.25v3.71h-12.25zM34.4 818.13h12.25v3.71h-12.25zM46.65 821.84h12.25v3.71h-12.25zM46.65 825.55h12.25v3.71h-12.25zM58.9 825.55h12.25v3.71h-12.25zM34.4 829.26h12.25v3.71h-12.25zM34.4 832.97h12.25v3.71h-12.25zM58.9 836.68h12.25v3.71h-12.25zM58.9 840.39h12.25v3.71h-12.25zM58.9 844.1h12.25v3.71h-12.25zM34.4 847.81h12.25v3.71h-12.25zM34.4 851.52h12.25v3.71h-12.25zM46.65 851.52h12.25v3.71h-12.25zM46.65 855.23h12.25v3.71h-12.25zM71.15 855.23h12.25v3.71h-12.25zM71.15 858.94h12.25v3.71h-12.25zM71.15 862.65h12.25v3.71h-12.25zM46.65 866.36h12.25v3.71h-12.25zM58.9 866.36h12.25v3.71h-12.25zM46.65 870.07h12.25v3.71h-12.25zM58.9 870.07h12.25v3.71h-12.25zM58.9 873.78h12.25v3.71h-12.25zM34.4 877.49h12.25v3.71h-12.25zM46.65 881.2h12.25v3.71h-12.25zM34.4 884.91h12.25v3.71h-12.25zM46.65 884.91h12.25v3.71h-12.25zM71.15 888.62h12.25v3.71h-12.25zM71.15 892.33h12.25v3.71h-12.25zM46.65 896.04h12.25v3.71h-12.25zM34.4 899.75h12.25v3.71h-12.25zM46.65 903.46h12.25v3.71h-12.25zM46.65 907.17h12.25v3.71h-12.25zM58.9 910.88h12.25v3.71h-12.25zM58.9 914.59h12.25v3.71h-12.25zM71.15 918.3h12.25v3.71h-12.25zM34.4 922.01h12.25v3.71h-12.25zM71.15 922.01h12.25v3.71h-12.25zM34.4 925.72h12.25v3.71h-12.25zM58.9 929.43h12.25v3.71h-12.25zM58.9 933.14h12.25v3.71h-12.25zM58.9 936.85h12.25v3.71h-12.25zM46.65 940.56h12.25v3.71h-12.25zM46.65 944.27h12.25v3.71h-12.25zM46.65 947.98h12.25v3.71h-12.25zM46.65 951.69h12.25v3.71h-12.25zM46.65 955.4h12.25v3.71h-12.25zM46.65 959.11h12.25v3.71h-12.25zM34.4 962.82h12.25v3.71h-12.25zM58.9 966.53h12.25v3.71h-12.25zM58.9 970.24h12.25v3.71h-12.25z"/>
<path fill="#f86c10" d="M107.9 476.81h12.25v3.71h-12.25zM107.9 484.23h12.25v3.71h-12.25zM144.65 484.23h12.25v3.71h-12.25zM132.4 487.94h12.25v3.71h-12.25zM169.15 491.65h12.25v3.71h-12.25zM95.65 495.36h12.25v3.71h-12.25zM144.65 510.2h12.25v3.71h-12.25zM95.65 513.91h12.25v3.71h-12.25zM144.65 513.91h12.25v3.71h-12.25zM132.4 517.62h12.25v3.71h-12.25zM156.9 517.62h12.25v3.71h-12.25zM156.9 521.33h12.25v3.71h-12.25zM169.15 525.04h12.25v3.71h-12.25zM95.65 528.75h12.25v3.71h-12.25zM169.15 528.75h12.25v3.71h-12.25zM95.65 532.46h12.25v3.71h-12.25zM169.15 532.46h12.25v3.71h-12.25zM107.9 536.17h12.25v3.71h-12.25zM132.4 536.17h12.25v3.71h-12.25zM107.9 539.88h12.25v3.71h-12.25zM156.9 543.59h12.25v3.71h-12.25zM144.65 547.3h12.25v3.71h-12.25zM120.15 551.01h12.25v3.71h-12.25zM144.65 551.01h12.25v3.71h-12.25zM107.9 554.72h12.25v3.71h-12.25zM83.4 558.43h12.25v3.71h-12.25zM107.9 558.43h12.25v3.71h-12.25zM95.65 562.14h12.25v3.71h-12.25zM144.65 565.85h12.25v3.71h-12.25zM169.15 565.85h12.25v3.71h-12.25zM83.4 569.56h12.25v3.71h-12.25zM95.65 569.56h12.25v3.71h-12.25zM156.9 576.98h12.25v3.71h-12.25zM144.65 580.69h12.25v3.71h-12.25zM169.15 580.69h12.25v3.71h-12.25zM156.9 588.11h12.25v3.71h-12.25zM120.15 591.82h12.25v3.71h-12.25zM107.9 595.53h12.25v3.71h-12.25zM132.4 599.24h12.25v3.71h-12.25zM107.9 602.95h12.25v3.71h-12.25zM144.65 602.95h12.25v3.71h-12.25zM83.4 610.37h12.25v3.71h-12.25zM144.65 610.37h12.25v3.71h-12.25zM169.15 614.08h12.25v3.71h-12.25zM120.15 617.79h12.25v3.71h-12.25zM156.9 617.79h12.25v3.71h-12.25zM120.15 621.5h12.25v3.71h-12.25zM144.65 628.92h12.25v3.71h-12.25zM132.4 632.63h12.25v3.71h-12.25zM169.15 643.76h12.25v3.71h-12.25zM95.65 647.47h12.25v3.71h-12.25zM120.15 647.47h12.25v3.71h-12.25zM169.15 654.89h12.25v3.71h-12.25zM95.65 658.6h12.25v3.71h-12.25zM144.65 666.02h12.25v3.71h-12.25zM83.4 669.73h12.25v3.71h-12.25zM107.9 669.73h12.25v3.71h-12.25zM120.15 669.73h12.25v3.71h-12.25zM95.65 673.44h12.25v3.71h-12.25zM169.15 680.86h12.25v3.71h-12.25zM156.9 684.57h12.25v3.71h-12.25zM144.65 688.28h12.25v3.71h-12.25zM169.15 691.99h12.25v3.71h-12.25zM156.9 695.7h12.25v3.71h-12.25zM95.65 703.12h12.25v3.71h-12.25zM169.15 703.12h12.25v3.71h-12.25zM120.15 706.83h12.25v3.71h-12.25zM169.15 714.25h12.25v3.71h-12.25zM83.4 721.67h12.25v3.71h-12.25zM95.65 721.67h12.25v3.71h-12.25zM107.9 725.38h12.25v3.71h-12.25zM132.4 729.09h12.25v3.71h-12.25zM156.9 729.09h12.25v3.71h-12.25zM132.4 732.8h12.25v3.71h-12.25zM156.9 732.8h12.25v3.71h-12.25zM132.4 736.51h12.25v3.71h-12.25zM144.65 736.51h12.25v3.71h-12.25zM156.9 747.64h12.25v3.71h-12.25zM120.15 773.61h12.25v3.71h-12.25zM144.65 773.61h12.25v3.71h-12.25zM95.65 777.32h12.25v3.71h-12.25zM120.15 777.32h12.25v3.71h-12.25zM144.65 784.74h12.25v3.71h-12.25zM120.15 788.45h12.25v3.71h-12.25zM156.9 788.45h12.25v3.71h-12.25zM107.9 792.16h12.25v3.71h-12.25zM95.65 795.87h12.25v3.71h-12.25zM169.15 795.87h12.25v3.71h-12.25zM95.65 799.58h12.25v3.71h-12.25zM156.9 807h12.25v3.71h-12.25zM107.9 814.42h12.25v3.71h-12.25zM144.65 821.84h12.25v3.71h-12.25zM144.65 825.55h12.25v3.71h-12.25zM83.4 829.26h12.25v3.71h-12.25zM144.65 829.26h12.25v3.71h-12.25zM107.9 836.68h12.25v3.71h-12.25zM120.15 836.68h12.25v3.71h-12.25zM83.4 844.1h12.25v3.71h-12.25zM95.65 847.81h12.25v3.71h-12.25zM107.9 847.81h12.25v3.71h-12.25zM132.4 851.52h12.25v3.71h-12.25zM156.9 851.52h12.25v3.71h-12.25zM107.9 855.23h12.25v3.71h-12.25zM107.9 866.36h12.25v3.71h-12.25zM132.4 870.07h12.25v3.71h-12.25zM156.9 873.78h12.25v3.71h-12.25zM120.15 881.2h12.25v3.71h-12.25zM120.15 888.62h12.25v3.71h-12.25zM144.65 892.33h12.25v3.71h-12.25zM83.4 899.75h12.25v3.71h-12.25zM95.65 899.75h12.25v3.71h-12.25zM107.9 910.88h12.25v3.71h-12.25zM156.9 914.59h12.25v3.71h-12.25z"/>
<path fill="#f5843a" d="M144.65 925.72h12.25v3.71h-12.25zM144.65 936.85h12.25v3.71h-12.25zM144.65 940.56h12.25v3.71h-12.25zM144.65 944.27h12.25v3.71h-12.25zM169.15 947.98h12.25v3.71h-12.25zM156.9 951.69h12.25v3.71h-12.25zM169.15 951.69h12.25v3.71h-12.25zM95.65 955.4h12.25v3.71h-12.25zM120.15 955.4h12.25v3.71h-12.25zM144.65 959.11h12.25v3.71h-12.25zM144.65 962.82h12.25v3.71h-12.25z"/>
<path fill="#f80808" d="M405.24 614.08h9.73v3.71h-9.73zM560.95 717.96h9.73v3.71h-9.73zM560.95 628.92h9.73v3.71h-9.73zM414.97 896.04h9.73v3.71h-9.73zM200.86 881.2h9.73v3.71h-9.73zM317.65 710.54h9.73v3.71h-9.73zM522.02 892.33h9.73v3.71h-9.73zM599.88 510.2h9.73v3.71h-9.73zM492.82 899.75h9.73v3.71h-9.73zM658.27 910.88h9.73v3.71h-9.73zM580.41 565.85h9.73v3.71h-9.73zM551.22 532.46h9.73v3.71h-9.73zM609.61 892.33h9.73v3.71h-9.73zM366.31 680.86h9.73v3.71h-9.73zM356.58 732.8h9.73v3.71h-9.73zM551.22 736.51h9.73v3.71h-9.73zM463.63 588.11h9.73v3.71h-9.73zM453.9 599.24h9.73v3.71h-9.73zM453.9 640.05h9.73v3.71h-9.73zM453.9 884.91h9.73v3.71h-9.73zM259.26 751.35h9.73v3.71h-9.73zM356.58 747.64h9.73v3.71h-9.73zM191.13 777.32h9.73v3.71h-9.73zM658.27 673.44h9.73v3.71h-9.73zM570.68 525.04h9.73v3.71h-9.73zM259.26 896.04h9.73v3.71h-9.73zM453.9 940.56h9.73v3.71h-9.73zM570.68 933.14h9.73v3.71h-9.73zM181.4 551.01h9.73v3.71h-9.73zM307.92 621.5h9.73v3.71h-9.73zM346.84 847.81h9.73v3.71h-9.73zM658.27 769.9h9.73v3.71h-9.73zM599.88 573.27h9.73v3.71h-9.73zM395.5 532.46h9.73v3.71h-9.73zM560.95 836.68h9.73v3.71h-9.73zM239.79 966.53h9.73v3.71h-9.73zM551.22 840.39h9.73v3.71h-9.73zM356.58 795.87h9.73v3.71h-9.73zM327.38 803.29h9.73v3.71h-9.73zM453.9 703.12h9.73v3.71h-9.73zM395.5 677.15h9.73v3.71h-9.73zM366.31 758.77h9.73v3.71h-9.73zM346.84 814.42h9.73v3.71h-9.73zM483.09 792.16h9.73v3.71h-9.73zM444.16 517.62h9.73v3.71h-9.73zM405.24 487.94h9.73v3.71h-9.73zM356.58 662.31h9.73v3.71h-9.73zM181.4 614.08h9.73v3.71h-9.73zM453.9 506.49h9.73v3.71h-9.73zM463.63 699.41h9.73v3.71h-9.73zM317.65 836.68h9.73v3.71h-9.73zM337.11 962.82h9.73v3.71h-9.73zM268.99 858.94h9.73v3.71h-9.73zM580.41 691.99h9.73v3.71h-9.73zM434.43 829.26h9.73v3.71h-9.73zM337.11 528.75h9.73v3.71h-9.73zM356.58 565.85h9.73v3.71h-9.73zM268.99 899.75h9.73v3.71h-9.73zM327.38 784.74h9.73v3.71h-9.73zM453.9 602.95h9.73v3.71h-9.73zM356.58 899.75h9.73v3.71h-9.73zM453.9 766.19h9.73v3.71h-9.73zM424.7 773.61h9.73v3.71h-9.73zM444.16 858.94h9.73v3.71h-9.73zM444.16 899.75h9.73v3.71h-9.73zM376.04 795.87h9.73v3.71h-9.73zM512.29 773.61h9.73v3.71h-9.73zM259.26 484.23h9.73v3.71h-9.73zM366.31 610.37h9.73v3.71h-9.73zM531.75 621.5h9.73v3.71h-9.73zM220.33 951.69h9.73v3.71h-9.73zM502.56 832.97h9.73v3.71h-9.73zM268.99 513.91h9.73v3.71h-9.73zM648.54 899.75h9.73v3.71h-9.73zM453.9 814.42h9.73v3.71h-9.73zM395.5 788.45h9.73v3.71h-9.73zM395.5 699.41h9.73v3.71h-9.73zM356.58 717.96h9.73v3.71h-9.73zM268.99 569.56h9.73v3.71h-9.73zM288.45 654.89h9.73v3.71h-9.73zM424.7 632.63h9.73v3.71h-9.73zM259.26 825.55h9.73v3.71h-9.73zM259.26 866.36h9.73v3.71h-9.73zM298.18 847.81h9.73v3.71h-9.73zM200.86 914.59h9.73v3.71h-9.73zM453.9 476.81h9.73v3.71h-9.73zM629.07 666.02h9.73v3.71h-9.73zM599.88 836.68h9.73v3.71h-9.73zM551.22 565.85h9.73v3.71h-9.73zM560.95 807h9.73v3.71h-9.73zM366.31 673.44h9.73v3.71h-9.73zM337.11 680.86h9.73v3.71h-9.73zM531.75 684.57h9.73v3.71h-9.73zM307.92 558.43h9.73v3.71h-9.73zM444.16 495.36h9.73v3.71h-9.73zM522.02 777.32h9.73v3.71h-9.73zM298.18 814.42h9.73v3.71h-9.73zM453.9 918.3h9.73v3.71h-9.73zM395.5 851.52h9.73v3.71h-9.73zM356.58 576.98h9.73v3.71h-9.73zM366.31 688.28h9.73v3.71h-9.73zM356.58 821.84h9.73v3.71h-9.73zM580.41 947.98h9.73v3.71h-9.73zM453.9 729.09h9.73v3.71h-9.73zM259.26 888.62h9.73v3.71h-9.73zM259.26 929.43h9.73v3.71h-9.73zM249.52 892.33h9.73v3.71h-9.73zM424.7 940.56h9.73v3.71h-9.73zM288.45 569.56h9.73v3.71h-9.73zM444.16 632.63h9.73v3.71h-9.73zM278.72 777.32h9.73v3.71h-9.73zM560.95 625.21h9.73v3.71h-9.73zM181.4 680.86h9.73v3.71h-9.73zM599.88 662.31h9.73v3.71h-9.73zM424.7 743.93h9.73v3.71h-9.73zM453.9 777.32h9.73v3.71h-9.73zM200.86 536.17h9.73v3.71h-9.73zM366.31 792.16h9.73v3.71h-9.73zM551.22 888.62h9.73v3.71h-9.73zM298.18 484.23h9.73v3.71h-9.73zM453.9 832.97h9.73v3.71h-9.73zM541.48 588.11h9.73v3.71h-9.73zM414.97 721.67h9.73v3.71h-9.73zM385.77 769.9h9.73v3.71h-9.73zM541.48 792.16h9.73v3.71h-9.73zM560.95 877.49h9.73v3.71h-9.73zM181.4 892.33h9.73v3.71h-9.73zM444.16 940.56h9.73v3.71h-9.73zM560.95 933.14h9.73v3.71h-9.73zM522.02 699.41h9.73v3.71h-9.73zM522.02 944.27h9.73v3.71h-9.73zM181.4 947.98h9.73v3.71h-9.73zM327.38 899.75h9.73v3.71h-9.73zM395.5 643.76h9.73v3.71h-9.73zM551.22 951.69h9.73v3.71h-9.73zM356.58 907.17h9.73v3.71h-9.73zM453.9 651.18h9.73v3.71h-9.73zM599.88 473.1h9.73v3.71h-9.73zM434.43 706.83h9.73v3.71h-9.73zM405.24 673.44h9.73v3.71h-9.73zM259.26 851.52h9.73v3.71h-9.73zM317.65 484.23h9.73v3.71h-9.73zM473.36 547.3h9.73v3.71h-9.73zM191.13 699.41h9.73v3.71h-9.73zM619.34 899.75h9.73v3.71h-9.73zM560.95 539.88h9.73v3.71h-9.73zM366.31 944.27h9.73v3.71h-9.73zM298.18 595.53h9.73v3.71h-9.73zM268.99 602.95h9.73v3.71h-9.73zM424.7 625.21h9.73v3.71h-9.73zM268.99 766.19h9.73v3.71h-9.73zM453.9 862.65h9.73v3.71h-9.73zM356.58 562.14h9.73v3.71h-9.73zM356.58 602.95h9.73v3.71h-9.73zM356.58 513.91h9.73v3.71h-9.73zM522.02 818.13h9.73v3.71h-9.73zM599.88 970.24h9.73v3.71h-9.73zM629.07 610.37h9.73v3.71h-9.73zM453.9 714.25h9.73v3.71h-9.73zM405.24 532.46h9.73v3.71h-9.73zM414.97 725.38h9.73v3.71h-9.73zM424.7 925.72h9.73v3.71h-9.73zM317.65 792.16h9.73v3.71h-9.73zM599.88 591.82h9.73v3.71h-9.73zM434.43 621.5h9.73v3.71h-9.73zM414.97 740.22h9.73v3.71h-9.73zM463.63 947.98h9.73v3.71h-9.73zM483.09 795.87h9.73v3.71h-9.73zM453.9 762.48h9.73v3.71h-9.73zM414.97 487.94h9.73v3.71h-9.73zM453.9 803.29h9.73v3.71h-9.73zM395.5 647.47h9.73v3.71h-9.73zM522.02 677.15h9.73v3.71h-9.73zM356.58 870.07h9.73v3.71h-9.73zM278.72 565.85h9.73v3.71h-9.73zM288.45 847.81h9.73v3.71h-9.73zM200.86 617.79h9.73v3.71h-9.73zM366.31 565.85h9.73v3.71h-9.73zM560.95 903.46h9.73v3.71h-9.73zM181.4 673.44h9.73v3.71h-9.73zM191.13 914.59h9.73v3.71h-9.73zM337.11 588.11h9.73v3.71h-9.73zM298.18 558.43h9.73v3.71h-9.73zM268.99 729.09h9.73v3.71h-9.73zM259.26 781.03h9.73v3.71h-9.73zM395.5 758.77h9.73v3.71h-9.73zM356.58 525.04h9.73v3.71h-9.73zM453.9 784.74h9.73v3.71h-9.73zM356.58 729.09h9.73v3.71h-9.73zM259.26 543.59h9.73v3.71h-9.73zM570.68 710.54h9.73v3.71h-9.73zM414.97 851.52h9.73v3.71h-9.73zM337.11 840.39h9.73v3.71h-9.73zM629.07 588.11h9.73v3.71h-9.73zM453.9 628.92h9.73v3.71h-9.73zM560.95 484.23h9.73v3.71h-9.73zM560.95 525.04h9.73v3.71h-9.73zM551.22 536.17h9.73v3.71h-9.73zM356.58 736.51h9.73v3.71h-9.73zM424.7 521.33h9.73v3.71h-9.73zM395.5 528.75h9.73v3.71h-9.73zM414.97 654.89h9.73v3.71h-9.73zM356.58 588.11h9.73v3.71h-9.73zM268.99 832.97h9.73v3.71h-9.73zM453.9 495.36h9.73v3.71h-9.73zM658.27 962.82h9.73v3.71h-9.73zM599.88 855.23h9.73v3.71h-9.73zM239.79 955.4h9.73v3.71h-9.73zM366.31 691.99h9.73v3.71h-9.73zM366.31 732.8h9.73v3.71h-9.73zM181.4 799.58h9.73v3.71h-9.73zM463.63 680.86h9.73v3.71h-9.73zM307.92 829.26h9.73v3.71h-9.73zM434.43 810.71h9.73v3.71h-9.73zM356.58 636.34h9.73v3.71h-9.73zM366.31 747.64h9.73v3.71h-9.73zM327.38 473.1h9.73v3.71h-9.73zM298.18 480.52h9.73v3.71h-9.73zM327.38 513.91h9.73v3.71h-9.73zM453.9 502.78h9.73v3.71h-9.73zM444.16 506.49h9.73v3.71h-9.73zM395.5 781.03h9.73v3.71h-9.73zM453.9 788.45h9.73v3.71h-9.73zM366.31 951.69h9.73v3.71h-9.73zM502.56 513.91h9.73v3.71h-9.73zM483.09 591.82h9.73v3.71h-9.73zM259.26 554.72h9.73v3.71h-9.73zM444.16 602.95h9.73v3.71h-9.73zM599.88 959.11h9.73v3.71h-9.73zM560.95 684.57h9.73v3.71h-9.73zM522.02 614.08h9.73v3.71h-9.73zM181.4 699.41h9.73v3.71h-9.73zM522.02 899.75h9.73v3.71h-9.73zM609.61 565.85h9.73v3.71h-9.73zM356.58 658.6h9.73v3.71h-9.73zM522.02 669.73h9.73v3.71h-9.73zM551.22 947.98h9.73v3.71h-9.73zM317.65 628.92h9.73v3.71h-9.73zM453.9 606.66h9.73v3.71h-9.73zM288.45 506.49h9.73v3.71h-9.73zM268.99 714.25h9.73v3.71h-9.73zM317.65 873.78h9.73v3.71h-9.73zM444.16 862.65h9.73v3.71h-9.73zM366.31 662.31h9.73v3.71h-9.73zM483.09 695.7h9.73v3.71h-9.73zM570.68 491.65h9.73v3.71h-9.73zM463.63 955.4h9.73v3.71h-9.73zM414.97 836.68h9.73v3.71h-9.73zM531.75 625.21h9.73v3.71h-9.73zM395.5 892.33h9.73v3.71h-9.73zM560.95 951.69h9.73v3.71h-9.73zM492.82 929.43h9.73v3.71h-9.73zM424.7 621.5h9.73v3.71h-9.73zM268.99 803.29h9.73v3.71h-9.73zM395.5 499.07h9.73v3.71h-9.73zM434.43 773.61h9.73v3.71h-9.73zM453.9 858.94h9.73v3.71h-9.73zM551.22 766.19h9.73v3.71h-9.73zM356.58 803.29h9.73v3.71h-9.73zM522.02 773.61h9.73v3.71h-9.73zM453.9 899.75h9.73v3.71h-9.73zM609.61 962.82h9.73v3.71h-9.73zM570.68 539.88h9.73v3.71h-9.73zM414.97 680.86h9.73v3.71h-9.73zM259.26 910.88h9.73v3.71h-9.73zM200.86 755.06h9.73v3.71h-9.73zM346.84 910.88h9.73v3.71h-9.73zM414.97 491.65h9.73v3.71h-9.73zM599.88 588.11h9.73v3.71h-9.73zM599.88 832.97h9.73v3.71h-9.73zM366.31 513.91h9.73v3.71h-9.73zM522.02 821.84h9.73v3.71h-9.73zM298.18 654.89h9.73v3.71h-9.73zM434.43 925.72h9.73v3.71h-9.73zM424.7 595.53h9.73v3.71h-9.73zM453.9 922.01h9.73v3.71h-9.73zM580.41 951.69h9.73v3.71h-9.73zM356.58 580.69h9.73v3.71h-9.73zM522.02 591.82h9.73v3.71h-9.73zM327.38 832.97h9.73v3.71h-9.73zM638.8 910.88h9.73v3.71h-9.73zM599.88 636.34h9.73v3.71h-9.73zM658.27 955.4h9.73v3.71h-9.73zM414.97 703.12h9.73v3.71h-9.73zM200.86 573.27h9.73v3.71h-9.73zM570.68 807h9.73v3.71h-9.73zM191.13 536.17h9.73v3.71h-9.73zM629.07 569.56h9.73v3.71h-9.73zM658.27 847.81h9.73v3.71h-9.73zM619.34 777.32h9.73v3.71h-9.73zM405.24 647.47h9.73v3.71h-9.73zM376.04 573.27h9.73v3.71h-9.73zM395.5 610.37h9.73v3.71h-9.73zM560.95 669.73h9.73v3.71h-9.73zM522.02 680.86h9.73v3.71h-9.73zM560.95 710.54h9.73v3.71h-9.73zM522.02 844.1h9.73v3.71h-9.73zM424.7 936.85h9.73v3.71h-9.73zM395.5 944.27h9.73v3.71h-9.73zM424.7 584.4h9.73v3.71h-9.73zM648.54 784.74h9.73v3.71h-9.73zM327.38 602.95h9.73v3.71h-9.73zM317.65 654.89h9.73v3.71h-9.73zM268.99 495.36h9.73v3.71h-9.73zM444.16 595.53h9.73v3.71h-9.73z"/>
<path fill="none" stroke="#3a3a3a" stroke-width="0.55" d="M34.4 473.1H668M34.4 476.81H668M34.4 480.52H668M34.4 484.23H668M34.4 487.94H668M34.4 491.65H668M34.4 495.36H668M34.4 499.07H668M34.4 502.78H668M34.4 506.49H668M34.4 510.2H668M34.4 513.91H668M34.4 517.62H668M34.4 521.33H668M34.4 525.04H668M34.4 528.75H668M34.4 532.46H668M34.4 536.17H668M34.4 539.88H668M34.4 543.59H668M34.4 547.3H668M34.4 551.01H668M34.4 554.72H668M34.4 558.43H668M34.4 562.14H668M34.4 565.85H668M34.4 569.56H668M34.4 573.27H668M34.4 576.98H668M34.4 580.69H668M34.4 584.4H668M34.4 588.11H668M34.4 591.82H668M34.4 595.53H668M34.4 599.24H668M34.4 602.95H668M34.4 606.66H668M34.4 610.37H668M34.4 614.08H668M34.4 617.79H668M34.4 621.5H668M34.4 625.21H668M34.4 628.92H668M34.4 632.63H668M34.4 636.34H668M34.4 640.05H668M34.4 643.76H668M34.4 647.47H668M34.4 651.18H668M34.4 654.89H668M34.4 658.6H668M34.4 662.31H668M34.4 666.02H668M34.4 669.73H668M34.4 673.44H668M34.4 677.15H668M34.4 680.86H668M34.4 684.57H668M34.4 688.28H668M34.4 691.99H668M34.4 695.7H668M34.4 699.41H668M34.4 703.12H668M34.4 706.83H668M34.4 710.54H668M34.4 714.25H668M34.4 717.96H668M34.4 721.67H668M34.4 725.38H668M34.4 729.09H668M34.4 732.8H668M34.4 736.51H668M34.4 740.22H668M34.4 743.93H668M34.4 747.64H668M34.4 751.35H668M34.4 755.06H668M34.4 758.77H668M34.4 762.48H668M34.4 766.19H668M34.4 769.9H668M34.4 773.61H668M34.4 777.32H668M34.4 781.03H668M34.4 784.74H668M34.4 788.45H668M34.4 792.16H668M34.4 795.87H668M34.4 799.58H668M34.4 803.29H668M34.4 807H668M34.4 810.71H668M34.4 814.42H668M34.4 818.13H668M34.4 821.84H668M34.4 825.55H668M34.4 829.26H668M34.4 832.97H668M34.4 836.68H668M34.4 840.39H668M34.4 844.1H668M34.4 847.81H668M34.4 851.52H668M34.4 855.23H668M34.4 858.94H668M34.4 862.65H668M34.4 866.36H668M34.4 870.07H668M34.4 873.78H668M34.4 877.49H668M34.4 881.2H668M34.4 884.91H668M34.4 888.62H668M34.4 892.33H668M34.4 896.04H668M34.4 899.75H668M34.4 903.46H668M34.4 907.17H668M34.4 910.88H668M34.4 914.59H668M34.4 918.3H668M34.4 922.01H668M34.4 925.72H668M34.4 929.43H668M34.4 933.14H668M34.4 936.85H668M34.4 940.56H668M34.4 944.27H668M34.4 947.98H668M34.4 951.69H668M34.4 955.4H668M34.4 959.11H668M34.4 962.82H668M34.4 966.53H668M34.4 970.24H668M34.4 973.95H668"/>
<path fill="none" stroke="#2a2a2a" stroke-width="0.75" d="M34.4 473.1V975M46.65 473.1V975M58.9 473.1V975M71.15 473.1V975M83.4 473.1V975M95.65 473.1V975M107.9 473.1V975M120.15 473.1V975M132.4 473.1V975M144.65 473.1V975M156.9 473.1V975M169.15 473.1V975M181.4 473.1V975M191.13 473.1V975M200.86 473.1V975M210.6 473.1V975M220.33 473.1V975M230.06 473.1V975M239.79 473.1V975M249.52 473.1V975M259.26 473.1V975M268.99 473.1V975M278.72 473.1V975M288.45 473.1V975M298.18 473.1V975M307.92 473.1V975M317.65 473.1V975M327.38 473.1V975M337.11 473.1V975M346.84 473.1V975M356.58 473.1V975M366.31 473.1V975M376.04 473.1V975M385.77 473.1V975M395.5 473.1V975M405.24 473.1V975M414.97 473.1V975M424.7 473.1V975M434.43 473.1V975M444.16 473.1V975M453.9 473.1V975M463.63 473.1V975M473.36 473.1V975M483.09 473.1V975M492.82 473.1V975M502.56 473.1V975M512.29 473.1V975M522.02 473.1V975M531.75 473.1V975M541.48 473.1V975M551.22 473.1V975M560.95 473.1V975M570.68 473.1V975M580.41 473.1V975M590.14 473.1V975M599.88 473.1V975M609.61 473.1V975M619.34 473.1V975M629.07 473.1V975M638.8 473.1V975M648.54 473.1V975M658.27 473.1V975M668 473.1V975"/>
<g transform="scale(0.1)">
<text x="190" y="4760" font-size="33" font-weight="bold" fill="#333">ABI1</text>
<text x="190" y="4797.1" font-size="33" font-weight="bold" fill="#333">ABR</text>
<text x="190" y="4834.2" font-size="33" font-weight="bold" fill="#333">ACTR3</text>
<text x="190" y="4871.3" font-size="33" font-weight="bold" fill="#333">ADCY1</text>
<text x="190" y="4908.4" font-size="33" font-weight="bold" fill="#333">ADGRB3</text>
<text x="190" y="4945.5" font-size="33" font-weight="bold" fill="#333">ADGRL2</text>
<text x="190" y="4982.6" font-size="33" font-weight="bold" fill="#333">ADGRL3</text>
<text x="190" y="5019.7" font-size="33" font-weight="bold" fill="#333">ADRA2A</text>
<text x="190" y="5056.8" font-size="33" font-weight="bold" fill="#333">AFDN</text>
<text x="190" y="5093.9" font-size="33" font-weight="bold" fill="#333">ARC</text>
<text x="190" y="5131" font-size="33" font-weight="bold" fill="#333">C1QL2</text>
<text x="190" y="5168.1" font-size="33" font-weight="bold" fill="#333">C1QL3</text>
<text x="190" y="5205.2" font-size="33" font-weight="bold" fill="#333">CACNB4</text>
<text x="190" y="5242.3" font-size="33" font-weight="bold" fill="#333">CACNG2</text>
<text x="190" y="5279.4" font-size="33" font-weight="bold" fill="#333">CACNG3</text>
<text x="190" y="5316.5" font-size="33" font-weight="bold" fill="#333">CADM1</text>
<text x="190" y="5353.6" font-size="33" font-weight="bold" fill="#333">CADPS2</text>
<text x="190" y="5390.7" font-size="33" font-weight="bold" fill="#333">CAMK2A</text>
<text x="190" y="5427.8" font-size="33" font-weight="bold" fill="#333">CAP2</text>
<text x="190" y="5464.9" font-size="33" font-weight="bold" fill="#333">CDH11</text>
<text x="190" y="5502" font-size="33" font-weight="bold" fill="#333">CDH8</text>
<text x="190" y="5539.1" font-size="33" font-weight="bold" fill="#333">CDH9</text>
<text x="190" y="5576.2" font-size="33" font-weight="bold" fill="#333">CDK5R1</text>
<text x="190" y="5613.3" font-size="33" font-weight="bold" fill="#333">CHRM1</text>
<text x="190" y="5650.4" font-size="33" font-weight="bold" fill="#333">CHRM3</text>
<text x="190" y="5687.5" font-size="33" font-weight="bold" fill="#333">CHTNS</text>
<text x="190" y="5724.6" font-size="33" font-weight="bold" fill="#333">CNTNAP2</text>
<text x="190" y="5761.7" font-size="33" font-weight="bold" fill="#333">CPLX1</text>
<text x="190" y="5798.8" font-size="33" font-weight="bold" fill="#333">CPLX3</text>
<text x="190" y="5835.9" font-size="33" font-weight="bold" fill="#333">CTTNBP2</text>
<text x="190" y="5873" font-size="33" font-weight="bold" fill="#333">DAGLA</text>
<text x="190" y="5910.1" font-size="33" font-weight="bold" fill="#333">DGKB</text>
<text x="190" y="5947.2" font-size="33" font-weight="bold" fill="#333">DGKE</text>
<text x="190" y="5984.3" font-size="33" font-weight="bold" fill="#333">DGKI</text>
<text x="190" y="6021.4" font-size="33" font-weight="bold" fill="#333">DLG2</text>
<text x="190" y="6058.5" font-size="33" font-weight="bold" fill="#333">DLG4</text>
<text x="190" y="6095.6" font-size="33" font-weight="bold" fill="#333">DLGAP1</text>
<text x="190" y="6132.7" font-size="33" font-weight="bold" fill="#333">DLGAP2</text>
<text x="190" y="6169.8" font-size="33" font-weight="bold" fill="#333">DNM3</text>
<text x="190" y="6206.9" font-size="33" font-weight="bold" fill="#333">EFNA5</text>
<text x="190" y="6244" font-size="33" font-weight="bold" fill="#333">EPHA4</text>
<text x="190" y="6281.1" font-size="33" font-weight="bold" fill="#333">EPHA6</text>
<text x="190" y="6318.2" font-size="33" font-weight="bold" fill="#333">ERBB4</text>
<text x="190" y="6355.3" font-size="33" font-weight="bold" fill="#333">ERC2</text>
<text x="190" y="6392.4" font-size="33" font-weight="bold" fill="#333">GABBR2</text>
<text x="190" y="6429.5" font-size="33" font-weight="bold" fill="#333">GABRA5</text>
<text x="190" y="6466.6" font-size="33" font-weight="bold" fill="#333">GABRB1</text>
<text x="190" y="6503.7" font-size="33" font-weight="bold" fill="#333">GAP43</text>
<text x="190" y="6540.8" font-size="33" font-weight="bold" fill="#333">GPM6A</text>
<text x="190" y="6577.9" font-size="33" font-weight="bold" fill="#333">GRIA1</text>
<text x="190" y="6615" font-size="33" font-weight="bold" fill="#333">GRIA3</text>
<text x="190" y="6652.1" font-size="33" font-weight="bold" fill="#333">GRID2</text>
<text x="190" y="6689.2" font-size="33" font-weight="bold" fill="#333">GRIK2</text>
<text x="190" y="6726.3" font-size="33" font-weight="bold" fill="#333">GRIK3</text>
<text x="190" y="6763.4" font-size="33" font-weight="bold" fill="#333">GRIN2A</text>
<text x="190" y="6800.5" font-size="33" font-weight="bold" fill="#333">GRIN2B</text>
<text x="190" y="6837.6" font-size="33" font-weight="bold" fill="#333">GRM3</text>
<text x="190" y="6874.7" font-size="33" font-weight="bold" fill="#333">GRM5</text>
<text x="190" y="6911.8" font-size="33" font-weight="bold" fill="#333">GRM7</text>
<text x="190" y="6948.9" font-size="33" font-weight="bold" fill="#333">GRM8</text>
<text x="190" y="6986" font-size="33" font-weight="bold" fill="#333">HCN1</text>
<text x="190" y="7023.1" font-size="33" font-weight="bold" fill="#333">HOMER1</text>
<text x="190" y="7060.2" font-size="33" font-weight="bold" fill="#333">HTR2A</text>
<text x="190" y="7097.3" font-size="33" font-weight="bold" fill="#333">IL1RAPL1</text>
<text x="190" y="7134.4" font-size="33" font-weight="bold" fill="#333">ITSN1</text>
<text x="190" y="7171.5" font-size="33" font-weight="bold" fill="#333">KCNC2</text>
<text x="190" y="7208.6" font-size="33" font-weight="bold" fill="#333">KCND2</text>
<text x="190" y="7245.7" font-size="33" font-weight="bold" fill="#333">KCNJ6</text>
<text x="190" y="7282.8" font-size="33" font-weight="bold" fill="#333">KCNQ3</text>
<text x="190" y="7319.9" font-size="33" font-weight="bold" fill="#333">KIF1A</text>
<text x="190" y="7357" font-size="33" font-weight="bold" fill="#333">LRFN5</text>
<text x="190" y="7394.1" font-size="33" font-weight="bold" fill="#333">LRRC4C</text>
<text x="190" y="7431.2" font-size="33" font-weight="bold" fill="#333">LRRTM4</text>
<text x="190" y="7468.3" font-size="33" font-weight="bold" fill="#333">MAP1B</text>
<text x="190" y="7505.4" font-size="33" font-weight="bold" fill="#333">MDGA2</text>
<text x="190" y="7542.5" font-size="33" font-weight="bold" fill="#333">MEF2C</text>
<text x="190" y="7579.6" font-size="33" font-weight="bold" fill="#333">MYO5A</text>
<text x="190" y="7616.7" font-size="33" font-weight="bold" fill="#333">NBEA</text>
<text x="190" y="7653.8" font-size="33" font-weight="bold" fill="#333">NCAM1</text>
<text x="190" y="7690.9" font-size="33" font-weight="bold" fill="#333">NCDN</text>
<text x="190" y="7728" font-size="33" font-weight="bold" fill="#333">NETO1</text>
<text x="190" y="7765.1" font-size="33" font-weight="bold" fill="#333">NLGN1</text>
<text x="190" y="7802.2" font-size="33" font-weight="bold" fill="#333">NOS1</text>
<text x="190" y="7839.3" font-size="33" font-weight="bold" fill="#333">NPTN</text>
<text x="190" y="7876.4" font-size="33" font-weight="bold" fill="#333">NRG1</text>
<text x="190" y="7913.5" font-size="33" font-weight="bold" fill="#333">NRXN1</text>
<text x="190" y="7950.6" font-size="33" font-weight="bold" fill="#333">NRXN3</text>
<text x="190" y="7987.7" font-size="33" font-weight="bold" fill="#333">NTRK2</text>
<text x="190" y="8024.8" font-size="33" font-weight="bold" fill="#333">NTRK3</text>
<text x="190" y="8061.9" font-size="33" font-weight="bold" fill="#333">OPHN1</text>
<text x="190" y="8099" font-size="33" font-weight="bold" fill="#333">PCLO</text>
<text x="190" y="8136.1" font-size="33" font-weight="bold" fill="#333">PDE4B</text>
<text x="190" y="8173.2" font-size="33" font-weight="bold" fill="#333">PICALM</text>
<text x="190" y="8210.3" font-size="33" font-weight="bold" fill="#333">PLCB1</text>
<text x="190" y="8247.4" font-size="33" font-weight="bold" fill="#333">PPFIA2</text>
<text x="190" y="8284.5" font-size="33" font-weight="bold" fill="#333">PRKCB</text>
<text x="190" y="8321.6" font-size="33" font-weight="bold" fill="#333">PRKCG</text>
<text x="190" y="8358.7" font-size="33" font-weight="bold" fill="#333">PTPRD</text>
<text x="190" y="8395.8" font-size="33" font-weight="bold" fill="#333">PTPRT</text>
<text x="190" y="8432.9" font-size="33" font-weight="bold" fill="#333">RAB3C</text>
<text x="190" y="8470" font-size="33" font-weight="bold" fill="#333">RAPGEF4</text>
<text x="190" y="8507.1" font-size="33" font-weight="bold" fill="#333">RIMBP2</text>
<text x="190" y="8544.2" font-size="33" font-weight="bold" fill="#333">RIMS1</text>
<text x="190" y="8581.3" font-size="33" font-weight="bold" fill="#333">RIMS2</text>
<text x="190" y="8618.4" font-size="33" font-weight="bold" fill="#333">RPH3A</text>
<text x="190" y="8655.5" font-size="33" font-weight="bold" fill="#333">SCN2A</text>
<text x="190" y="8692.6" font-size="33" font-weight="bold" fill="#333">SEMA3A</text>
<text x="190" y="8729.7" font-size="33" font-weight="bold" fill="#333">SH3GL2</text>
<text x="190" y="8766.8" font-size="33" font-weight="bold" fill="#333">SHANK1</text>
<text x="190" y="8803.9" font-size="33" font-weight="bold" fill="#333">SHISA6</text>
<text x="190" y="8841" font-size="33" font-weight="bold" fill="#333">SHISA9</text>
<text x="190" y="8878.1" font-size="33" font-weight="bold" fill="#333">SLITRK4</text>
<text x="190" y="8915.2" font-size="33" font-weight="bold" fill="#333">SNAP25</text>
<text x="190" y="8952.3" font-size="33" font-weight="bold" fill="#333">SORCS3</text>
<text x="190" y="8989.4" font-size="33" font-weight="bold" fill="#333">SPARCL1</text>
<text x="190" y="9026.5" font-size="33" font-weight="bold" fill="#333">SRCIN1</text>
<text x="190" y="9063.6" font-size="33" font-weight="bold" fill="#333">STX1A</text>
<text x="190" y="9100.7" font-size="33" font-weight="bold" fill="#333">STXBP5L</text>
<text x="190" y="9137.8" font-size="33" font-weight="bold" fill="#333">SV2A</text>
<text x="190" y="9174.9" font-size="33" font-weight="bold" fill="#333">SYNE1</text>
<text x="190" y="9212" font-size="33" font-weight="bold" fill="#333">SYNPO</text>
<text x="190" y="9249.1" font-size="33" font-weight="bold" fill="#333">SYNPR</text>
<text x="190" y="9286.2" font-size="33" font-weight="bold" fill="#333">SYT1</text>
<text x="190" y="9323.3" font-size="33" font-weight="bold" fill="#333">SYT2</text>
<text x="190" y="9360.4" font-size="33" font-weight="bold" fill="#333">SYT7</text>
<text x="190" y="9397.5" font-size="33" font-weight="bold" fill="#333">TANC1</text>
<text x="190" y="9434.6" font-size="33" font-weight="bold" fill="#333">TENM1</text>
<text x="190" y="9471.7" font-size="33" font-weight="bold" fill="#333">TENM2</text>
<text x="190" y="9508.8" font-size="33" font-weight="bold" fill="#333">TENM3</text>
<text x="190" y="9545.9" font-size="33" font-weight="bold" fill="#333">TENM4</text>
<text x="190" y="9583" font-size="33" font-weight="bold" fill="#333">TIAM1</text>
<text x="190" y="9620.1" font-size="33" font-weight="bold" fill="#333">TNR</text>
<text x="190" y="9657.2" font-size="33" font-weight="bold" fill="#333">UNC13C</text>
<text x="190" y="9694.3" font-size="33" font-weight="bold" fill="#333">VAMP1</text>
<text x="190" y="9731.4" font-size="33" font-weight="bold" fill="#333">VAMP2</text>
</g>
<text x="2" y="384" font-size="11" font-weight="bold" fill="#000">d</text>
<text x="49" y="392.4" font-size="10.6" font-weight="bold" fill="#111" textLength="16" lengthAdjust="spacingAndGlyphs">BP</text>
<text x="44.4" y="405.6" font-size="10.6" font-weight="bold" fill="#111" textLength="28" lengthAdjust="spacingAndGlyphs">(GO)</text>
<text x="92.8" y="408.3" font-size="10.8" font-weight="bold" fill="#111" textLength="78" lengthAdjust="spacingAndGlyphs">Neuron Class</text>
<text x="386.6" y="408.1" font-size="10.8" font-weight="bold" fill="#111" textLength="75.6" lengthAdjust="spacingAndGlyphs">Neuron Type</text>
<rect x="34.5" y="412.6" width="48.7" height="2.4" fill="#0aa64e"/>
<rect x="85.5" y="412.6" width="93.2" height="2.4" fill="#f07020"/>
<rect x="181.9" y="412.6" width="486.1" height="2.4" fill="#ee1c1c"/>
<text transform="translate(42.4,472.2) rotate(-90)" font-size="5.2" fill="#1a1a1a">Syn Signaling</text>
<text transform="translate(54.7,472.2) rotate(-90)" font-size="5.2" fill="#1a1a1a" textLength="47.3" lengthAdjust="spacingAndGlyphs">Syn Organization</text>
<text transform="translate(64.9,472.2) rotate(-90)" font-size="5.2" fill="#1a1a1a">SV Exocytosis /</text>
<text transform="translate(69.6,472.2) rotate(-90)" font-size="5.2" fill="#1a1a1a">SV Priming</text>
<text transform="translate(77.4,472.2) rotate(-90)" font-size="5.2" fill="#1a1a1a" textLength="52.5" lengthAdjust="spacingAndGlyphs">Postsynaptic Process</text>
<text transform="translate(81.9,472.2) rotate(-90)" font-size="5.2" fill="#1a1a1a">/ NTR</text>
<text transform="translate(91.43,472.2) rotate(-90)" font-size="5.2" fill="#1a1a1a">CA1</text>
<text transform="translate(103.68,472.2) rotate(-90)" font-size="5.2" fill="#1a1a1a">CA1-ProS</text>
<text transform="translate(115.93,472.2) rotate(-90)" font-size="5.2" fill="#1a1a1a">CA2</text>
<text transform="translate(128.18,472.2) rotate(-90)" font-size="5.2" fill="#1a1a1a">CA3</text>
<text transform="translate(140.43,472.2) rotate(-90)" font-size="5.2" fill="#1a1a1a">CT SUB</text>
<text transform="translate(152.68,472.2) rotate(-90)" font-size="5.2" fill="#1a1a1a">DG</text>
<text transform="translate(164.93,472.2) rotate(-90)" font-size="5.2" fill="#1a1a1a">NP SUB</text>
<text transform="translate(177.18,472.2) rotate(-90)" font-size="5.2" fill="#1a1a1a">SUB-ProS</text>
<text transform="translate(188.07,471.8) rotate(-90)" font-size="4.9" font-weight="bold" fill="#222">334_CA1-ve</text>
<text transform="translate(197.8,471.8) rotate(-90)" font-size="4.9" font-weight="bold" fill="#222">335_CA1-ve</text>
<text transform="translate(207.53,471.8) rotate(-90)" font-size="4.9" font-weight="bold" fill="#222">336_CA1-ve</text>
<text transform="translate(217.26,471.8) rotate(-90)" font-size="4.9" font-weight="bold" fill="#222">337_CA1</text>
<text transform="translate(226.99,471.8) rotate(-90)" font-size="4.9" font-weight="bold" fill="#222">339_CA1</text>
<text transform="translate(236.73,471.8) rotate(-90)" font-size="4.9" font-weight="bold" fill="#222">340_CA1</text>
<text transform="translate(246.46,471.8) rotate(-90)" font-size="4.9" font-weight="bold" fill="#222">341_CA1</text>
<text transform="translate(256.19,471.8) rotate(-90)" font-size="4.9" font-weight="bold" fill="#222">342_CA1</text>
<text transform="translate(265.92,471.8) rotate(-90)" font-size="4.9" font-weight="bold" fill="#222">343_CA1</text>
<text transform="translate(275.65,471.8) rotate(-90)" font-size="4.9" font-weight="bold" fill="#222">344_CA1</text>
<text transform="translate(285.39,471.8) rotate(-90)" font-size="4.9" font-weight="bold" fill="#222">345_CA1</text>
<text transform="translate(295.12,471.8) rotate(-90)" font-size="4.9" font-weight="bold" fill="#222">346_CA1-do</text>
<text transform="translate(304.85,471.8) rotate(-90)" font-size="4.9" font-weight="bold" fill="#222">347_CA1-do</text>
<text transform="translate(314.58,471.8) rotate(-90)" font-size="4.9" font-weight="bold" fill="#222">348_CA1-do</text>
<text transform="translate(324.31,471.8) rotate(-90)" font-size="4.9" font-weight="bold" fill="#222">329_CA1-ProS</text>
<text transform="translate(334.05,471.8) rotate(-90)" font-size="4.9" font-weight="bold" fill="#222">330_CA1-ProS</text>
<text transform="translate(343.78,471.8) rotate(-90)" font-size="4.9" font-weight="bold" fill="#222">359_CA2</text>
<text transform="translate(353.51,471.8) rotate(-90)" font-size="4.9" font-weight="bold" fill="#222">360_CA2</text>
<text transform="translate(363.24,471.8) rotate(-90)" font-size="4.9" font-weight="bold" fill="#222">349_Mossy</text>
<text transform="translate(372.97,471.8) rotate(-90)" font-size="4.9" font-weight="bold" fill="#222">350_Mossy</text>
<text transform="translate(382.71,471.8) rotate(-90)" font-size="4.9" font-weight="bold" fill="#222">351_CA3-ve</text>
<text transform="translate(392.44,471.8) rotate(-90)" font-size="4.9" font-weight="bold" fill="#222">352_CA3-ve</text>
<text transform="translate(402.17,471.8) rotate(-90)" font-size="4.9" font-weight="bold" fill="#222">353_CA3-ve</text>
<text transform="translate(411.9,471.8) rotate(-90)" font-size="4.9" font-weight="bold" fill="#222">354_CA3-ve</text>
<text transform="translate(421.63,471.8) rotate(-90)" font-size="4.9" font-weight="bold" fill="#222">355_CA3-do</text>
<text transform="translate(431.37,471.8) rotate(-90)" font-size="4.9" font-weight="bold" fill="#222">356_CA3-do</text>
<text transform="translate(441.1,471.8) rotate(-90)" font-size="4.9" font-weight="bold" fill="#222">357_CA3-do</text>
<text transform="translate(450.83,471.8) rotate(-90)" font-size="4.9" font-weight="bold" fill="#222">358_CA3-do</text>
<text transform="translate(460.56,471.8) rotate(-90)" font-size="4.9" font-weight="bold" fill="#222">361_DG</text>
<text transform="translate(470.29,471.8) rotate(-90)" font-size="4.9" font-weight="bold" fill="#222">362_DG</text>
<text transform="translate(480.03,471.8) rotate(-90)" font-size="4.9" font-weight="bold" fill="#222">363_DG</text>
<text transform="translate(489.76,471.8) rotate(-90)" font-size="4.9" font-weight="bold" fill="#222">364_DG</text>
<text transform="translate(499.49,471.8) rotate(-90)" font-size="4.9" font-weight="bold" fill="#222">294_CT SUB</text>
<text transform="translate(509.22,471.8) rotate(-90)" font-size="4.9" font-weight="bold" fill="#222">295_CT SUB</text>
<text transform="translate(518.95,471.8) rotate(-90)" font-size="4.9" font-weight="bold" fill="#222">297_CT SUB</text>
<text transform="translate(528.69,471.8) rotate(-90)" font-size="4.9" font-weight="bold" fill="#222">271_NP SUB</text>
<text transform="translate(538.42,471.8) rotate(-90)" font-size="4.9" font-weight="bold" fill="#222">272_NP SUB</text>
<text transform="translate(548.15,471.8) rotate(-90)" font-size="4.9" font-weight="bold" fill="#222">273_NP SUB</text>
<text transform="translate(557.88,471.8) rotate(-90)" font-size="4.9" font-weight="bold" fill="#222">274_NP SUB</text>
<text transform="translate(567.61,471.8) rotate(-90)" font-size="4.9" font-weight="bold" fill="#222">318_SUB</text>
<text transform="translate(577.35,471.8) rotate(-90)" font-size="4.9" font-weight="bold" fill="#222">319_SUB</text>
<text transform="translate(587.08,471.8) rotate(-90)" font-size="4.9" font-weight="bold" fill="#222">320_SUB</text>
<text transform="translate(596.81,471.8) rotate(-90)" font-size="4.9" font-weight="bold" fill="#222">321_SUB-ProS</text>
<text transform="translate(606.54,471.8) rotate(-90)" font-size="4.9" font-weight="bold" fill="#222">322_SUB-ProS</text>
<text transform="translate(616.27,471.8) rotate(-90)" font-size="4.9" font-weight="bold" fill="#222">323_SUB-ProS</text>
<text transform="translate(626.01,471.8) rotate(-90)" font-size="4.9" font-weight="bold" fill="#222">324_SUB-ProS</text>
<text transform="translate(635.74,471.8) rotate(-90)" font-size="4.9" font-weight="bold" fill="#222">325_SUB-ProS</text>
<text transform="translate(645.47,471.8) rotate(-90)" font-size="4.9" font-weight="bold" fill="#222">326_SUB-ProS</text>
<text transform="translate(655.2,471.8) rotate(-90)" font-size="4.9" font-weight="bold" fill="#222">327_SUB-ProS</text>
<text transform="translate(664.93,471.8) rotate(-90)" font-size="4.9" font-weight="bold" fill="#222">328_SUB-ProS</text>
</svg></body></html>
